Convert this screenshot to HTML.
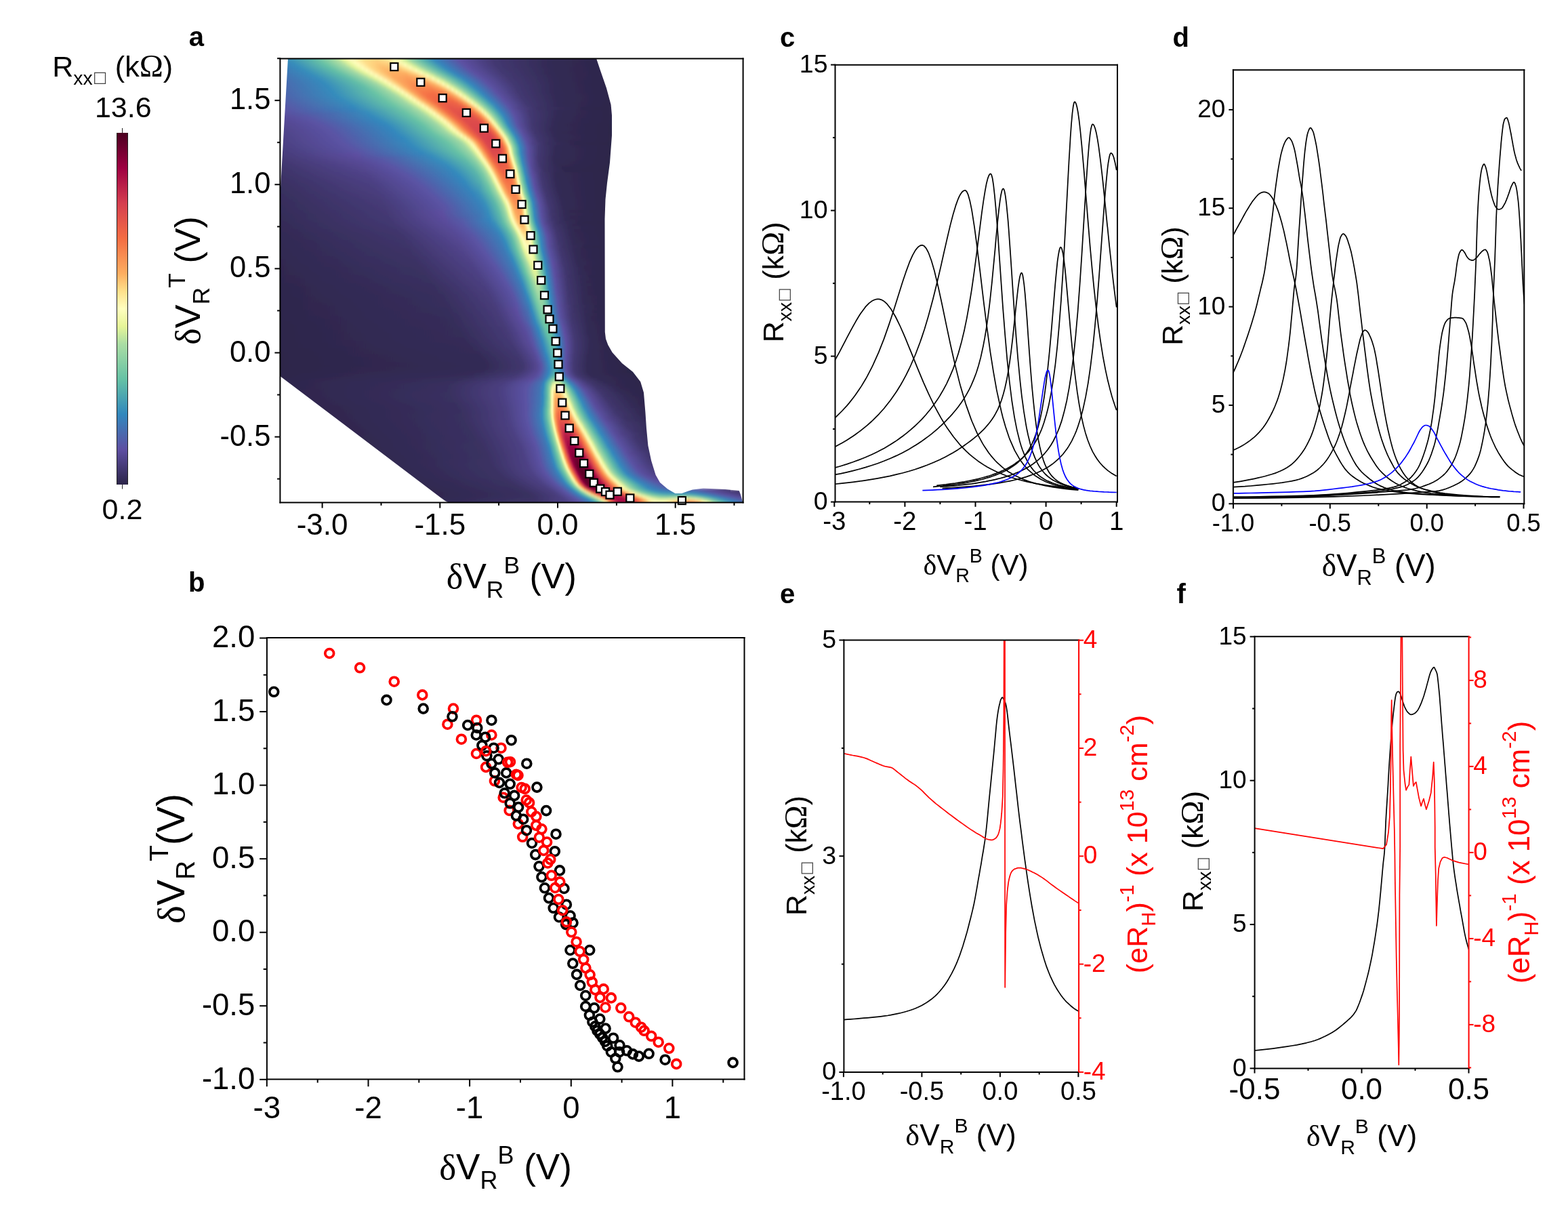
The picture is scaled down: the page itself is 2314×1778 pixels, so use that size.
<!DOCTYPE html>
<html lang="en"><head><meta charset="utf-8"><title>Figure</title>
<style>
html,body{margin:0;padding:0;background:#fff;}
body{width:2314px;height:1778px;overflow:hidden;}
svg{display:block;font-family:'Liberation Sans', sans-serif;}
</style></head><body>
<svg width="2314" height="1778" viewBox="0 0 2314 1778">
<rect width="2314" height="1778" fill="#fff"/>
<g id="panel-a">
<defs><clipPath id="hclip"><path d="M425 86 L880 86 L886 104 L895 130 L901.6 154.4 L903 170 L903 200 L900 240 L896 270 L893.5 294 L892.5 323 L892.8 490 L894 500 L897.3 509 L903.6 520 L918 536 L934 548.8 L945.2 563.2 L950 579.2 L952.4 608 L954 632 L956.4 657.6 L961.2 680 L967.6 700.8 L974 712 L985.2 721.6 L996.4 728 L1006 728 L1022 722.4 L1038 720.5 L1070 722 L1090.8 724 L1093 730 L1096.4 742 L663 742 L657 739 L650 734 L414 555.5 L414 277Z"/></clipPath>
<linearGradient id="h0" gradientUnits="userSpaceOnUse" x1="406" x2="1105" y1="0" y2="0"><stop offset=".000" stop-color="#3880b9"/><stop offset=".024" stop-color="#378dbb"/><stop offset=".089" stop-color="#68c3a5"/><stop offset=".129" stop-color="#b2e0a3"/><stop offset=".144" stop-color="#e8f69b"/><stop offset=".160" stop-color="#ffffbf"/><stop offset=".185" stop-color="#fee18d"/><stop offset=".213" stop-color="#fed683"/><stop offset=".235" stop-color="#fee796"/><stop offset=".250" stop-color="#ffffbf"/><stop offset=".266" stop-color="#def29a"/><stop offset=".280" stop-color="#a1d9a4"/><stop offset=".308" stop-color="#5bb6aa"/><stop offset=".335" stop-color="#3386bc"/><stop offset=".386" stop-color="#5d51a3"/><stop offset=".459" stop-color="#433871"/><stop offset=".587" stop-color="#322a53"/><stop offset="1" stop-color="#2c2549"/></linearGradient><linearGradient id="h1" gradientUnits="userSpaceOnUse" x1="417" x2="888" y1="0" y2="0"><stop offset=".000" stop-color="#3288bd"/><stop offset=".100" stop-color="#62bda7"/><stop offset=".163" stop-color="#a9dca4"/><stop offset=".191" stop-color="#e8f69b"/><stop offset=".214" stop-color="#ffffbf"/><stop offset=".251" stop-color="#fee18d"/><stop offset=".293" stop-color="#fed683"/><stop offset=".325" stop-color="#fee796"/><stop offset=".348" stop-color="#ffffbf"/><stop offset=".372" stop-color="#def29a"/><stop offset=".393" stop-color="#a1d9a4"/><stop offset=".433" stop-color="#5bb6aa"/><stop offset=".473" stop-color="#3386bc"/><stop offset=".550" stop-color="#5d51a3"/><stop offset=".658" stop-color="#433871"/><stop offset=".847" stop-color="#322a53"/><stop offset="1" stop-color="#2e274d"/></linearGradient><linearGradient id="h2" gradientUnits="userSpaceOnUse" x1="416" x2="890" y1="0" y2="0"><stop offset=".000" stop-color="#3386bc"/><stop offset=".095" stop-color="#5bb6aa"/><stop offset=".150" stop-color="#91d3a4"/><stop offset=".175" stop-color="#b9e3a1"/><stop offset=".194" stop-color="#e7f59a"/><stop offset=".217" stop-color="#ffffbe"/><stop offset=".255" stop-color="#fedf8a"/><stop offset=".297" stop-color="#fed581"/><stop offset=".329" stop-color="#fee695"/><stop offset=".352" stop-color="#ffffbf"/><stop offset=".373" stop-color="#e3f499"/><stop offset=".395" stop-color="#a3daa4"/><stop offset=".437" stop-color="#5ab4ab"/><stop offset=".475" stop-color="#3387bc"/><stop offset=".551" stop-color="#5d51a3"/><stop offset=".656" stop-color="#433871"/><stop offset=".842" stop-color="#322a54"/><stop offset="1" stop-color="#2e274c"/></linearGradient><linearGradient id="h3" gradientUnits="userSpaceOnUse" x1="416" x2="891" y1="0" y2="0"><stop offset=".000" stop-color="#3782ba"/><stop offset=".034" stop-color="#378eba"/><stop offset=".126" stop-color="#68c3a5"/><stop offset=".183" stop-color="#b0dfa3"/><stop offset=".206" stop-color="#e8f69c"/><stop offset=".227" stop-color="#ffffbf"/><stop offset=".261" stop-color="#fedd88"/><stop offset=".297" stop-color="#fecc7a"/><stop offset=".333" stop-color="#fed884"/><stop offset=".360" stop-color="#fff5af"/><stop offset=".368" stop-color="#fdfebd"/><stop offset=".387" stop-color="#e2f499"/><stop offset=".408" stop-color="#a1d9a4"/><stop offset=".446" stop-color="#5cb7aa"/><stop offset=".484" stop-color="#3387bd"/><stop offset=".558" stop-color="#5d51a3"/><stop offset=".661" stop-color="#433871"/><stop offset=".842" stop-color="#322a53"/><stop offset="1" stop-color="#2e274c"/></linearGradient><linearGradient id="h4" gradientUnits="userSpaceOnUse" x1="416" x2="892" y1="0" y2="0"><stop offset=".000" stop-color="#3a7eb8"/><stop offset=".042" stop-color="#368cbb"/><stop offset=".139" stop-color="#67c2a5"/><stop offset=".195" stop-color="#b0dfa3"/><stop offset=".216" stop-color="#e7f59a"/><stop offset=".237" stop-color="#ffffbf"/><stop offset=".269" stop-color="#feda86"/><stop offset=".303" stop-color="#fdc473"/><stop offset=".342" stop-color="#fecd7b"/><stop offset=".368" stop-color="#feeb9d"/><stop offset=".382" stop-color="#ffffbe"/><stop offset=".401" stop-color="#e1f399"/><stop offset=".420" stop-color="#a3daa4"/><stop offset=".458" stop-color="#5bb6aa"/><stop offset=".496" stop-color="#3486bc"/><stop offset=".567" stop-color="#5d50a2"/><stop offset=".662" stop-color="#433872"/><stop offset=".832" stop-color="#322a54"/><stop offset="1" stop-color="#2e264c"/></linearGradient><linearGradient id="h5" gradientUnits="userSpaceOnUse" x1="416" x2="894" y1="0" y2="0"><stop offset=".000" stop-color="#3d7ab6"/><stop offset=".054" stop-color="#358cbb"/><stop offset=".149" stop-color="#64c0a6"/><stop offset=".205" stop-color="#a9dca4"/><stop offset=".228" stop-color="#e7f599"/><stop offset=".249" stop-color="#fffebd"/><stop offset=".278" stop-color="#fed783"/><stop offset=".310" stop-color="#fdbc6c"/><stop offset=".351" stop-color="#fdc171"/><stop offset=".379" stop-color="#fee492"/><stop offset=".397" stop-color="#feffbd"/><stop offset=".414" stop-color="#e3f499"/><stop offset=".433" stop-color="#a2daa4"/><stop offset=".471" stop-color="#59b4ab"/><stop offset=".504" stop-color="#3387bd"/><stop offset=".573" stop-color="#5d50a3"/><stop offset=".667" stop-color="#433871"/><stop offset=".835" stop-color="#322a54"/><stop offset="1" stop-color="#2e264c"/></linearGradient><linearGradient id="h6" gradientUnits="userSpaceOnUse" x1="415" x2="895" y1="0" y2="0"><stop offset=".000" stop-color="#4076b4"/><stop offset=".071" stop-color="#358cbb"/><stop offset=".165" stop-color="#63bfa6"/><stop offset=".221" stop-color="#a9dca4"/><stop offset=".244" stop-color="#e7f59a"/><stop offset=".263" stop-color="#ffffbf"/><stop offset=".292" stop-color="#fed380"/><stop offset=".321" stop-color="#fdb466"/><stop offset=".365" stop-color="#fdb668"/><stop offset=".392" stop-color="#fed985"/><stop offset=".415" stop-color="#ffffbe"/><stop offset=".431" stop-color="#e1f399"/><stop offset=".448" stop-color="#a4daa4"/><stop offset=".483" stop-color="#5bb6aa"/><stop offset=".517" stop-color="#3287bd"/><stop offset=".581" stop-color="#5c52a3"/><stop offset=".677" stop-color="#423870"/><stop offset=".842" stop-color="#322a53"/><stop offset="1" stop-color="#2e264c"/></linearGradient><linearGradient id="h7" gradientUnits="userSpaceOnUse" x1="415" x2="897" y1="0" y2="0"><stop offset=".000" stop-color="#4372b3"/><stop offset=".085" stop-color="#358cbb"/><stop offset=".180" stop-color="#64bfa6"/><stop offset=".234" stop-color="#a7dba4"/><stop offset=".257" stop-color="#e6f599"/><stop offset=".276" stop-color="#fffebe"/><stop offset=".303" stop-color="#fed17e"/><stop offset=".330" stop-color="#fdad61"/><stop offset=".382" stop-color="#fdae61"/><stop offset=".409" stop-color="#fed783"/><stop offset=".429" stop-color="#fffebd"/><stop offset=".446" stop-color="#e2f399"/><stop offset=".463" stop-color="#a2daa4"/><stop offset=".496" stop-color="#5bb6aa"/><stop offset=".529" stop-color="#3386bc"/><stop offset=".593" stop-color="#5d50a2"/><stop offset=".676" stop-color="#433973"/><stop offset=".828" stop-color="#322a54"/><stop offset="1" stop-color="#2e264c"/></linearGradient><linearGradient id="h8" gradientUnits="userSpaceOnUse" x1="415" x2="898" y1="0" y2="0"><stop offset=".000" stop-color="#456fb1"/><stop offset=".099" stop-color="#358cbb"/><stop offset=".195" stop-color="#62bea7"/><stop offset=".246" stop-color="#a1d9a4"/><stop offset=".261" stop-color="#c3e79f"/><stop offset=".273" stop-color="#e8f69b"/><stop offset=".290" stop-color="#ffffbf"/><stop offset=".317" stop-color="#fecc7b"/><stop offset=".340" stop-color="#fcaa5f"/><stop offset=".387" stop-color="#fca45c"/><stop offset=".412" stop-color="#fdb668"/><stop offset=".435" stop-color="#fee797"/><stop offset=".447" stop-color="#ffffbe"/><stop offset=".462" stop-color="#e3f499"/><stop offset=".476" stop-color="#a6dba4"/><stop offset=".509" stop-color="#5cb7aa"/><stop offset=".540" stop-color="#3288bd"/><stop offset=".600" stop-color="#5c52a3"/><stop offset=".689" stop-color="#423870"/><stop offset=".841" stop-color="#322a53"/><stop offset="1" stop-color="#2e264c"/></linearGradient><linearGradient id="h9" gradientUnits="userSpaceOnUse" x1="415" x2="899" y1="0" y2="0"><stop offset=".000" stop-color="#476cb0"/><stop offset=".112" stop-color="#358bbc"/><stop offset=".211" stop-color="#63bea7"/><stop offset=".260" stop-color="#9ed8a4"/><stop offset=".275" stop-color="#bfe5a0"/><stop offset=".287" stop-color="#e6f599"/><stop offset=".304" stop-color="#ffffbf"/><stop offset=".331" stop-color="#fec877"/><stop offset=".347" stop-color="#fcaa5f"/><stop offset=".384" stop-color="#fa9b58"/><stop offset=".421" stop-color="#fca75e"/><stop offset=".436" stop-color="#fdbf6f"/><stop offset=".455" stop-color="#feeca0"/><stop offset=".463" stop-color="#fffebe"/><stop offset=".477" stop-color="#e2f399"/><stop offset=".492" stop-color="#a4daa4"/><stop offset=".523" stop-color="#5cb7aa"/><stop offset=".554" stop-color="#3386bc"/><stop offset=".612" stop-color="#5c51a3"/><stop offset=".694" stop-color="#433871"/><stop offset=".839" stop-color="#322a54"/><stop offset="1" stop-color="#2d264c"/></linearGradient><linearGradient id="h10" gradientUnits="userSpaceOnUse" x1="414" x2="901" y1="0" y2="0"><stop offset=".000" stop-color="#4a69ae"/><stop offset=".125" stop-color="#358bbc"/><stop offset=".226" stop-color="#62bea7"/><stop offset=".275" stop-color="#9dd7a4"/><stop offset=".290" stop-color="#bce4a0"/><stop offset=".304" stop-color="#e9f69d"/><stop offset=".318" stop-color="#ffffbf"/><stop offset=".343" stop-color="#fec876"/><stop offset=".357" stop-color="#fca95f"/><stop offset=".390" stop-color="#f99455"/><stop offset=".431" stop-color="#fb9d59"/><stop offset=".450" stop-color="#fdb567"/><stop offset=".470" stop-color="#feec9f"/><stop offset=".478" stop-color="#ffffbf"/><stop offset=".491" stop-color="#e6f598"/><stop offset=".505" stop-color="#a5dba4"/><stop offset=".536" stop-color="#5ab5aa"/><stop offset=".565" stop-color="#3386bc"/><stop offset=".620" stop-color="#5c51a3"/><stop offset=".698" stop-color="#433872"/><stop offset=".836" stop-color="#322a54"/><stop offset="1" stop-color="#2d264b"/></linearGradient><linearGradient id="h11" gradientUnits="userSpaceOnUse" x1="414" x2="902" y1="0" y2="0"><stop offset=".000" stop-color="#4b67ae"/><stop offset=".135" stop-color="#358bbc"/><stop offset=".240" stop-color="#63bea7"/><stop offset=".289" stop-color="#9dd7a4"/><stop offset=".303" stop-color="#bde4a0"/><stop offset=".316" stop-color="#e7f599"/><stop offset=".330" stop-color="#fefebd"/><stop offset=".350" stop-color="#fed27f"/><stop offset=".367" stop-color="#fca85e"/><stop offset=".398" stop-color="#f98e52"/><stop offset=".443" stop-color="#f99455"/><stop offset=".465" stop-color="#fdb264"/><stop offset=".484" stop-color="#fee99b"/><stop offset=".492" stop-color="#fffebd"/><stop offset=".504" stop-color="#e5f598"/><stop offset=".518" stop-color="#a2daa4"/><stop offset=".547" stop-color="#5ab5ab"/><stop offset=".574" stop-color="#3288bd"/><stop offset=".627" stop-color="#5c52a3"/><stop offset=".705" stop-color="#423871"/><stop offset=".838" stop-color="#322a54"/><stop offset="1" stop-color="#2d264b"/></linearGradient><linearGradient id="h12" gradientUnits="userSpaceOnUse" x1="414" x2="903" y1="0" y2="0"><stop offset=".000" stop-color="#4c66ad"/><stop offset=".143" stop-color="#358bbc"/><stop offset=".252" stop-color="#62bea7"/><stop offset=".301" stop-color="#9ad6a4"/><stop offset=".315" stop-color="#b8e2a1"/><stop offset=".329" stop-color="#e8f69b"/><stop offset=".344" stop-color="#fffebd"/><stop offset=".362" stop-color="#fecf7d"/><stop offset=".374" stop-color="#fdaa5f"/><stop offset=".403" stop-color="#f8884f"/><stop offset=".450" stop-color="#f88850"/><stop offset=".476" stop-color="#fca85e"/><stop offset=".491" stop-color="#fed581"/><stop offset=".505" stop-color="#fffebe"/><stop offset=".517" stop-color="#e1f399"/><stop offset=".530" stop-color="#a4daa4"/><stop offset=".556" stop-color="#5db7a9"/><stop offset=".583" stop-color="#3288bd"/><stop offset=".634" stop-color="#5c52a3"/><stop offset=".710" stop-color="#423871"/><stop offset=".838" stop-color="#322a54"/><stop offset="1" stop-color="#2d264b"/></linearGradient><linearGradient id="h13" gradientUnits="userSpaceOnUse" x1="414" x2="905" y1="0" y2="0"><stop offset=".000" stop-color="#4d65ac"/><stop offset=".151" stop-color="#358cbc"/><stop offset=".265" stop-color="#64c0a6"/><stop offset=".314" stop-color="#9bd7a4"/><stop offset=".328" stop-color="#bbe3a1"/><stop offset=".340" stop-color="#e6f598"/><stop offset=".354" stop-color="#ffffbf"/><stop offset=".373" stop-color="#fecd7b"/><stop offset=".385" stop-color="#fca65d"/><stop offset=".411" stop-color="#f7814c"/><stop offset=".456" stop-color="#f67d4a"/><stop offset=".483" stop-color="#fa9857"/><stop offset=".495" stop-color="#fdb365"/><stop offset=".511" stop-color="#feefa3"/><stop offset=".517" stop-color="#feffbd"/><stop offset=".527" stop-color="#e4f498"/><stop offset=".540" stop-color="#a4daa4"/><stop offset=".566" stop-color="#5ab5ab"/><stop offset=".591" stop-color="#3287bd"/><stop offset=".640" stop-color="#5c52a3"/><stop offset=".711" stop-color="#423871"/><stop offset=".833" stop-color="#322a54"/><stop offset="1" stop-color="#2d264b"/></linearGradient><linearGradient id="h14" gradientUnits="userSpaceOnUse" x1="414" x2="906" y1="0" y2="0"><stop offset=".000" stop-color="#4e63ac"/><stop offset=".157" stop-color="#358bbc"/><stop offset=".280" stop-color="#68c3a5"/><stop offset=".329" stop-color="#a1d9a4"/><stop offset=".341" stop-color="#bfe5a0"/><stop offset=".354" stop-color="#e8f69c"/><stop offset=".366" stop-color="#feffbe"/><stop offset=".382" stop-color="#fed380"/><stop offset=".394" stop-color="#fca75e"/><stop offset=".421" stop-color="#f67a49"/><stop offset=".459" stop-color="#f57245"/><stop offset=".488" stop-color="#f8864f"/><stop offset=".508" stop-color="#fdb264"/><stop offset=".522" stop-color="#feec9f"/><stop offset=".528" stop-color="#ffffbe"/><stop offset=".539" stop-color="#e4f498"/><stop offset=".551" stop-color="#a2d9a4"/><stop offset=".575" stop-color="#5bb5aa"/><stop offset=".600" stop-color="#3386bc"/><stop offset=".646" stop-color="#5c51a3"/><stop offset=".711" stop-color="#433872"/><stop offset=".825" stop-color="#322a55"/><stop offset="1" stop-color="#2d264b"/></linearGradient><linearGradient id="h15" gradientUnits="userSpaceOnUse" x1="413" x2="907" y1="0" y2="0"><stop offset=".000" stop-color="#5061ab"/><stop offset=".166" stop-color="#358cbc"/><stop offset=".291" stop-color="#68c3a5"/><stop offset=".340" stop-color="#9dd8a4"/><stop offset=".352" stop-color="#b7e2a2"/><stop offset=".366" stop-color="#e8f69b"/><stop offset=".379" stop-color="#feffbe"/><stop offset=".393" stop-color="#fed985"/><stop offset=".405" stop-color="#fca95f"/><stop offset=".429" stop-color="#f57748"/><stop offset=".455" stop-color="#f26a44"/><stop offset=".492" stop-color="#f57546"/><stop offset=".516" stop-color="#fba15b"/><stop offset=".524" stop-color="#fdbe6f"/><stop offset=".536" stop-color="#fff1a8"/><stop offset=".540" stop-color="#ffffbf"/><stop offset=".551" stop-color="#e0f399"/><stop offset=".561" stop-color="#a5dba4"/><stop offset=".585" stop-color="#5ab5aa"/><stop offset=".607" stop-color="#3288bd"/><stop offset=".652" stop-color="#5c52a3"/><stop offset=".719" stop-color="#423870"/><stop offset=".832" stop-color="#322a54"/><stop offset="1" stop-color="#2d264b"/></linearGradient><linearGradient id="h16" gradientUnits="userSpaceOnUse" x1="413" x2="908" y1="0" y2="0"><stop offset=".000" stop-color="#525faa"/><stop offset=".176" stop-color="#358cbc"/><stop offset=".303" stop-color="#69c3a5"/><stop offset=".354" stop-color="#a1d9a4"/><stop offset=".366" stop-color="#bfe5a0"/><stop offset=".378" stop-color="#e8f69c"/><stop offset=".390" stop-color="#ffffbf"/><stop offset=".404" stop-color="#fed683"/><stop offset=".416" stop-color="#fca55d"/><stop offset=".440" stop-color="#f57145"/><stop offset=".473" stop-color="#ef6545"/><stop offset=".505" stop-color="#f47045"/><stop offset=".527" stop-color="#fb9e5a"/><stop offset=".535" stop-color="#fdbc6d"/><stop offset=".547" stop-color="#fff2aa"/><stop offset=".552" stop-color="#fefebd"/><stop offset=".560" stop-color="#e6f599"/><stop offset=".570" stop-color="#a7dba4"/><stop offset=".592" stop-color="#5eb9a9"/><stop offset=".616" stop-color="#3486bc"/><stop offset=".661" stop-color="#5d50a2"/><stop offset=".719" stop-color="#433872"/><stop offset=".824" stop-color="#332b55"/><stop offset="1" stop-color="#2d264b"/></linearGradient><linearGradient id="h17" gradientUnits="userSpaceOnUse" x1="413" x2="909" y1="0" y2="0"><stop offset=".000" stop-color="#545ca8"/><stop offset=".188" stop-color="#358bbc"/><stop offset=".315" stop-color="#6ac3a5"/><stop offset=".365" stop-color="#a2daa4"/><stop offset=".379" stop-color="#c7e89e"/><stop offset=".389" stop-color="#e9f69d"/><stop offset=".401" stop-color="#fffebd"/><stop offset=".415" stop-color="#fed380"/><stop offset=".425" stop-color="#fca95f"/><stop offset=".450" stop-color="#f46f44"/><stop offset=".480" stop-color="#ec6046"/><stop offset=".516" stop-color="#f36b43"/><stop offset=".536" stop-color="#fa9656"/><stop offset=".546" stop-color="#fdbc6d"/><stop offset=".556" stop-color="#feeda1"/><stop offset=".560" stop-color="#fffcba"/><stop offset=".565" stop-color="#f5fbaf"/><stop offset=".571" stop-color="#dff29a"/><stop offset=".581" stop-color="#a1d9a4"/><stop offset=".601" stop-color="#5db8a9"/><stop offset=".623" stop-color="#3288bd"/><stop offset=".665" stop-color="#5c51a3"/><stop offset=".726" stop-color="#423871"/><stop offset=".831" stop-color="#322a54"/><stop offset="1" stop-color="#2d264b"/></linearGradient><linearGradient id="h18" gradientUnits="userSpaceOnUse" x1="413" x2="910" y1="0" y2="0"><stop offset=".000" stop-color="#5759a7"/><stop offset=".203" stop-color="#358cbb"/><stop offset=".326" stop-color="#69c3a5"/><stop offset=".376" stop-color="#a2d9a4"/><stop offset=".390" stop-color="#c7e89e"/><stop offset=".400" stop-color="#e9f69d"/><stop offset=".412" stop-color="#fffebd"/><stop offset=".427" stop-color="#fed27f"/><stop offset=".437" stop-color="#fca75e"/><stop offset=".461" stop-color="#f36c43"/><stop offset=".491" stop-color="#e95c47"/><stop offset=".525" stop-color="#ef6545"/><stop offset=".541" stop-color="#f7834d"/><stop offset=".555" stop-color="#fdb163"/><stop offset=".565" stop-color="#fee899"/><stop offset=".571" stop-color="#feffbe"/><stop offset=".579" stop-color="#e3f499"/><stop offset=".590" stop-color="#a2d9a4"/><stop offset=".610" stop-color="#5cb7aa"/><stop offset=".630" stop-color="#3389bd"/><stop offset=".670" stop-color="#5b52a4"/><stop offset=".730" stop-color="#423871"/><stop offset=".833" stop-color="#322a54"/><stop offset="1" stop-color="#2d264a"/></linearGradient><linearGradient id="h19" gradientUnits="userSpaceOnUse" x1="412" x2="910" y1="0" y2="0"><stop offset=".000" stop-color="#5955a5"/><stop offset=".219" stop-color="#358bbc"/><stop offset=".341" stop-color="#6ac4a5"/><stop offset=".390" stop-color="#a1d9a4"/><stop offset=".402" stop-color="#bfe5a0"/><stop offset=".414" stop-color="#e9f69c"/><stop offset=".426" stop-color="#fffebe"/><stop offset=".440" stop-color="#fed27f"/><stop offset=".450" stop-color="#fca65d"/><stop offset=".474" stop-color="#f16944"/><stop offset=".502" stop-color="#e65848"/><stop offset=".538" stop-color="#ed6246"/><stop offset=".552" stop-color="#f67a49"/><stop offset=".568" stop-color="#fdb365"/><stop offset=".578" stop-color="#feec9f"/><stop offset=".582" stop-color="#fffcbb"/><stop offset=".588" stop-color="#edf8a3"/><stop offset=".590" stop-color="#e6f598"/><stop offset=".598" stop-color="#aadda4"/><stop offset=".618" stop-color="#5fbaa8"/><stop offset=".641" stop-color="#3486bc"/><stop offset=".679" stop-color="#5c51a3"/><stop offset=".735" stop-color="#423871"/><stop offset=".831" stop-color="#322a54"/><stop offset="1" stop-color="#2d264a"/></linearGradient><linearGradient id="h20" gradientUnits="userSpaceOnUse" x1="412" x2="911" y1="0" y2="0"><stop offset=".000" stop-color="#5c52a3"/><stop offset=".220" stop-color="#3386bc"/><stop offset=".339" stop-color="#60bba8"/><stop offset=".389" stop-color="#8fd2a4"/><stop offset=".409" stop-color="#b1e0a3"/><stop offset=".425" stop-color="#e8f69c"/><stop offset=".437" stop-color="#fffebd"/><stop offset=".451" stop-color="#fed07e"/><stop offset=".461" stop-color="#fca45d"/><stop offset=".483" stop-color="#f16944"/><stop offset=".509" stop-color="#e45449"/><stop offset=".545" stop-color="#e85b48"/><stop offset=".563" stop-color="#f67949"/><stop offset=".577" stop-color="#fdac60"/><stop offset=".587" stop-color="#feea9b"/><stop offset=".591" stop-color="#fffbb9"/><stop offset=".593" stop-color="#fbfdb9"/><stop offset=".599" stop-color="#e6f598"/><stop offset=".607" stop-color="#a8dca4"/><stop offset=".627" stop-color="#5bb6aa"/><stop offset=".645" stop-color="#3389bc"/><stop offset=".681" stop-color="#5a54a4"/><stop offset=".705" stop-color="#51448a"/><stop offset=".768" stop-color="#3b3163"/><stop offset=".904" stop-color="#2e274d"/><stop offset="1" stop-color="#2d264a"/></linearGradient><linearGradient id="h21" gradientUnits="userSpaceOnUse" x1="412" x2="911" y1="0" y2="0"><stop offset=".000" stop-color="#5e4fa2"/><stop offset=".222" stop-color="#3781ba"/><stop offset=".257" stop-color="#378dbb"/><stop offset=".367" stop-color="#6ac3a5"/><stop offset=".415" stop-color="#a4daa4"/><stop offset=".429" stop-color="#cdeb9d"/><stop offset=".437" stop-color="#e9f69d"/><stop offset=".447" stop-color="#fdfebb"/><stop offset=".451" stop-color="#fff7b2"/><stop offset=".461" stop-color="#fed783"/><stop offset=".471" stop-color="#fca85e"/><stop offset=".493" stop-color="#f26944"/><stop offset=".519" stop-color="#e2514a"/><stop offset=".555" stop-color="#e55749"/><stop offset=".573" stop-color="#f57547"/><stop offset=".589" stop-color="#fdb769"/><stop offset=".597" stop-color="#feeb9d"/><stop offset=".601" stop-color="#fffdbc"/><stop offset=".609" stop-color="#def29a"/><stop offset=".615" stop-color="#acdda4"/><stop offset=".633" stop-color="#61bca8"/><stop offset=".653" stop-color="#3287bd"/><stop offset=".689" stop-color="#5c51a3"/><stop offset=".739" stop-color="#433872"/><stop offset=".828" stop-color="#322a54"/><stop offset="1" stop-color="#2d264a"/></linearGradient><linearGradient id="h22" gradientUnits="userSpaceOnUse" x1="412" x2="911" y1="0" y2="0"><stop offset=".000" stop-color="#5b4d9d"/><stop offset=".152" stop-color="#4a69ae"/><stop offset=".265" stop-color="#358bbc"/><stop offset=".379" stop-color="#69c3a5"/><stop offset=".425" stop-color="#a2d9a4"/><stop offset=".437" stop-color="#c2e69f"/><stop offset=".447" stop-color="#e7f59a"/><stop offset=".459" stop-color="#ffffbf"/><stop offset=".473" stop-color="#fed17e"/><stop offset=".481" stop-color="#fcaa5f"/><stop offset=".503" stop-color="#f16944"/><stop offset=".529" stop-color="#e04f4b"/><stop offset=".565" stop-color="#e35449"/><stop offset=".583" stop-color="#f57446"/><stop offset=".597" stop-color="#fdae61"/><stop offset=".605" stop-color="#fee797"/><stop offset=".609" stop-color="#fffbb8"/><stop offset=".611" stop-color="#fbfdb8"/><stop offset=".617" stop-color="#e0f299"/><stop offset=".623" stop-color="#abdda4"/><stop offset=".641" stop-color="#5eb9a9"/><stop offset=".659" stop-color="#3288bd"/><stop offset=".693" stop-color="#5c52a3"/><stop offset=".743" stop-color="#423871"/><stop offset=".830" stop-color="#322a54"/><stop offset="1" stop-color="#2d254a"/></linearGradient><linearGradient id="h23" gradientUnits="userSpaceOnUse" x1="411" x2="911" y1="0" y2="0"><stop offset=".000" stop-color="#594a98"/><stop offset=".078" stop-color="#5955a5"/><stop offset=".280" stop-color="#348abc"/><stop offset=".392" stop-color="#69c3a5"/><stop offset=".438" stop-color="#a2daa4"/><stop offset=".452" stop-color="#ccea9d"/><stop offset=".460" stop-color="#e9f69c"/><stop offset=".470" stop-color="#fdfebc"/><stop offset=".474" stop-color="#fff7b1"/><stop offset=".484" stop-color="#fed481"/><stop offset=".494" stop-color="#fca55d"/><stop offset=".514" stop-color="#f16944"/><stop offset=".538" stop-color="#df4e4b"/><stop offset=".574" stop-color="#e1504a"/><stop offset=".592" stop-color="#f46e44"/><stop offset=".606" stop-color="#fdac60"/><stop offset=".614" stop-color="#fee797"/><stop offset=".618" stop-color="#fffcb9"/><stop offset=".622" stop-color="#f1f9a9"/><stop offset=".624" stop-color="#e9f69c"/><stop offset=".632" stop-color="#a6dba4"/><stop offset=".648" stop-color="#5eb9a9"/><stop offset=".666" stop-color="#3486bc"/><stop offset=".698" stop-color="#5c51a3"/><stop offset=".744" stop-color="#433872"/><stop offset=".824" stop-color="#322a54"/><stop offset="1" stop-color="#2c254a"/></linearGradient><linearGradient id="h24" gradientUnits="userSpaceOnUse" x1="411" x2="911" y1="0" y2="0"><stop offset=".000" stop-color="#564894"/><stop offset=".092" stop-color="#5a54a4"/><stop offset=".292" stop-color="#3389bd"/><stop offset=".404" stop-color="#68c3a5"/><stop offset=".450" stop-color="#a4daa4"/><stop offset=".464" stop-color="#d0ec9c"/><stop offset=".470" stop-color="#e7f59a"/><stop offset=".482" stop-color="#fffebd"/><stop offset=".494" stop-color="#fed683"/><stop offset=".504" stop-color="#fca65d"/><stop offset=".524" stop-color="#f16844"/><stop offset=".548" stop-color="#de4c4b"/><stop offset=".584" stop-color="#e04f4b"/><stop offset=".600" stop-color="#f36b43"/><stop offset=".614" stop-color="#fdac60"/><stop offset=".622" stop-color="#feea9b"/><stop offset=".626" stop-color="#feffbe"/><stop offset=".632" stop-color="#e2f399"/><stop offset=".638" stop-color="#a8dca4"/><stop offset=".654" stop-color="#5db8a9"/><stop offset=".670" stop-color="#3287bd"/><stop offset=".700" stop-color="#5b52a4"/><stop offset=".746" stop-color="#423871"/><stop offset=".824" stop-color="#322a54"/><stop offset="1" stop-color="#2c254a"/></linearGradient><linearGradient id="h25" gradientUnits="userSpaceOnUse" x1="411" x2="911" y1="0" y2="0"><stop offset=".000" stop-color="#544690"/><stop offset=".108" stop-color="#5b53a4"/><stop offset=".304" stop-color="#3288bd"/><stop offset=".414" stop-color="#66c2a5"/><stop offset=".458" stop-color="#9fd8a4"/><stop offset=".470" stop-color="#bee5a0"/><stop offset=".480" stop-color="#e7f599"/><stop offset=".492" stop-color="#fffebe"/><stop offset=".504" stop-color="#fed683"/><stop offset=".514" stop-color="#fca55d"/><stop offset=".532" stop-color="#f36b44"/><stop offset=".556" stop-color="#dd4b4c"/><stop offset=".592" stop-color="#de4c4b"/><stop offset=".608" stop-color="#f26a44"/><stop offset=".622" stop-color="#fdaf62"/><stop offset=".630" stop-color="#feefa5"/><stop offset=".632" stop-color="#fffbb9"/><stop offset=".634" stop-color="#f9fcb5"/><stop offset=".638" stop-color="#e6f598"/><stop offset=".644" stop-color="#a9dca4"/><stop offset=".658" stop-color="#61bca7"/><stop offset=".674" stop-color="#3288bd"/><stop offset=".702" stop-color="#5b53a4"/><stop offset=".746" stop-color="#423871"/><stop offset=".818" stop-color="#322a54"/><stop offset="1" stop-color="#2c254a"/></linearGradient><linearGradient id="h26" gradientUnits="userSpaceOnUse" x1="411" x2="911" y1="0" y2="0"><stop offset=".000" stop-color="#52458c"/><stop offset=".124" stop-color="#5b53a4"/><stop offset=".318" stop-color="#3288bd"/><stop offset=".424" stop-color="#66c1a5"/><stop offset=".468" stop-color="#9fd8a4"/><stop offset=".480" stop-color="#bfe5a0"/><stop offset=".490" stop-color="#e7f599"/><stop offset=".502" stop-color="#fffdbc"/><stop offset=".514" stop-color="#fed380"/><stop offset=".522" stop-color="#fcaa5f"/><stop offset=".542" stop-color="#f16844"/><stop offset=".566" stop-color="#dc494c"/><stop offset=".600" stop-color="#dd4a4c"/><stop offset=".616" stop-color="#f26944"/><stop offset=".628" stop-color="#fca85e"/><stop offset=".634" stop-color="#fedf8a"/><stop offset=".638" stop-color="#fff8b4"/><stop offset=".640" stop-color="#fbfdb8"/><stop offset=".644" stop-color="#e7f599"/><stop offset=".650" stop-color="#a8dca4"/><stop offset=".664" stop-color="#5db8a9"/><stop offset=".678" stop-color="#3389bd"/><stop offset=".704" stop-color="#5a54a5"/><stop offset=".714" stop-color="#584a97"/><stop offset=".752" stop-color="#40366d"/><stop offset=".828" stop-color="#312952"/><stop offset="1" stop-color="#2c2549"/></linearGradient><linearGradient id="h27" gradientUnits="userSpaceOnUse" x1="411" x2="911" y1="0" y2="0"><stop offset=".000" stop-color="#50448a"/><stop offset=".136" stop-color="#5b53a4"/><stop offset=".328" stop-color="#3387bd"/><stop offset=".432" stop-color="#64c0a6"/><stop offset=".476" stop-color="#9cd7a4"/><stop offset=".488" stop-color="#bae3a1"/><stop offset=".500" stop-color="#e9f69d"/><stop offset=".510" stop-color="#feffbe"/><stop offset=".522" stop-color="#fed783"/><stop offset=".532" stop-color="#fca55d"/><stop offset=".550" stop-color="#f16844"/><stop offset=".574" stop-color="#db474d"/><stop offset=".608" stop-color="#dc484c"/><stop offset=".622" stop-color="#ee6545"/><stop offset=".630" stop-color="#f88a51"/><stop offset=".636" stop-color="#fdb163"/><stop offset=".642" stop-color="#fee99b"/><stop offset=".644" stop-color="#fff6b1"/><stop offset=".646" stop-color="#fbfeb9"/><stop offset=".650" stop-color="#e7f599"/><stop offset=".656" stop-color="#a6dba4"/><stop offset=".668" stop-color="#61bda7"/><stop offset=".682" stop-color="#348abc"/><stop offset=".708" stop-color="#5b53a4"/><stop offset=".748" stop-color="#423871"/><stop offset=".814" stop-color="#322a54"/><stop offset="1" stop-color="#2c2549"/></linearGradient><linearGradient id="h28" gradientUnits="userSpaceOnUse" x1="410" x2="911" y1="0" y2="0"><stop offset=".000" stop-color="#4f4287"/><stop offset=".150" stop-color="#5b53a4"/><stop offset=".339" stop-color="#3288bd"/><stop offset=".445" stop-color="#67c2a5"/><stop offset=".489" stop-color="#a2daa4"/><stop offset=".501" stop-color="#c7e99e"/><stop offset=".509" stop-color="#e8f69b"/><stop offset=".519" stop-color="#fdfebc"/><stop offset=".525" stop-color="#feefa4"/><stop offset=".535" stop-color="#fdc372"/><stop offset=".541" stop-color="#fca55d"/><stop offset=".559" stop-color="#f16844"/><stop offset=".581" stop-color="#db474d"/><stop offset=".615" stop-color="#da464d"/><stop offset=".629" stop-color="#ec6146"/><stop offset=".635" stop-color="#f67a49"/><stop offset=".643" stop-color="#fdac60"/><stop offset=".649" stop-color="#fee797"/><stop offset=".653" stop-color="#fcfebb"/><stop offset=".657" stop-color="#e7f599"/><stop offset=".663" stop-color="#a5dba4"/><stop offset=".675" stop-color="#5fbba8"/><stop offset=".689" stop-color="#3387bd"/><stop offset=".715" stop-color="#5d51a3"/><stop offset=".750" stop-color="#433871"/><stop offset=".812" stop-color="#322a54"/><stop offset="1" stop-color="#2c2549"/></linearGradient><linearGradient id="h29" gradientUnits="userSpaceOnUse" x1="410" x2="911" y1="0" y2="0"><stop offset=".000" stop-color="#4e4286"/><stop offset=".158" stop-color="#5b53a4"/><stop offset=".347" stop-color="#3387bd"/><stop offset=".453" stop-color="#65c0a6"/><stop offset=".497" stop-color="#9dd8a4"/><stop offset=".509" stop-color="#bde4a0"/><stop offset=".519" stop-color="#e7f599"/><stop offset=".529" stop-color="#fdfebc"/><stop offset=".533" stop-color="#fff5af"/><stop offset=".541" stop-color="#fed784"/><stop offset=".549" stop-color="#fdab5f"/><stop offset=".567" stop-color="#f16944"/><stop offset=".589" stop-color="#da464d"/><stop offset=".621" stop-color="#d9444e"/><stop offset=".635" stop-color="#ea5e47"/><stop offset=".641" stop-color="#f57647"/><stop offset=".649" stop-color="#fca95f"/><stop offset=".655" stop-color="#fee694"/><stop offset=".659" stop-color="#fdfebc"/><stop offset=".663" stop-color="#e7f59a"/><stop offset=".669" stop-color="#a4daa4"/><stop offset=".681" stop-color="#5eb9a9"/><stop offset=".693" stop-color="#358bbc"/><stop offset=".717" stop-color="#5a55a5"/><stop offset=".725" stop-color="#594b99"/><stop offset=".758" stop-color="#41366e"/><stop offset=".824" stop-color="#312952"/><stop offset="1" stop-color="#2c2549"/></linearGradient><linearGradient id="h30" gradientUnits="userSpaceOnUse" x1="410" x2="911" y1="0" y2="0"><stop offset=".000" stop-color="#4d4184"/><stop offset=".168" stop-color="#5b53a4"/><stop offset=".359" stop-color="#3288bd"/><stop offset=".469" stop-color="#68c3a5"/><stop offset=".511" stop-color="#a0d9a4"/><stop offset=".521" stop-color="#bde4a0"/><stop offset=".531" stop-color="#e8f69a"/><stop offset=".541" stop-color="#ffffbf"/><stop offset=".551" stop-color="#fedb87"/><stop offset=".559" stop-color="#fdab60"/><stop offset=".575" stop-color="#f36b43"/><stop offset=".595" stop-color="#da464d"/><stop offset=".627" stop-color="#d8424e"/><stop offset=".641" stop-color="#e95c47"/><stop offset=".647" stop-color="#f57446"/><stop offset=".655" stop-color="#fca95f"/><stop offset=".661" stop-color="#fee695"/><stop offset=".663" stop-color="#fff4ad"/><stop offset=".665" stop-color="#fcfebb"/><stop offset=".669" stop-color="#e5f598"/><stop offset=".673" stop-color="#b3e0a2"/><stop offset=".685" stop-color="#63bfa6"/><stop offset=".699" stop-color="#3288bd"/><stop offset=".723" stop-color="#5b52a4"/><stop offset=".758" stop-color="#423871"/><stop offset=".818" stop-color="#322a54"/><stop offset="1" stop-color="#2c2549"/></linearGradient><linearGradient id="h31" gradientUnits="userSpaceOnUse" x1="410" x2="911" y1="0" y2="0"><stop offset=".000" stop-color="#4d4083"/><stop offset=".176" stop-color="#5b53a4"/><stop offset=".369" stop-color="#3288bd"/><stop offset=".481" stop-color="#68c3a5"/><stop offset=".521" stop-color="#9cd7a4"/><stop offset=".533" stop-color="#bce4a0"/><stop offset=".543" stop-color="#e8f69b"/><stop offset=".553" stop-color="#fffdbb"/><stop offset=".563" stop-color="#fed280"/><stop offset=".571" stop-color="#fba35c"/><stop offset=".585" stop-color="#f16844"/><stop offset=".603" stop-color="#da454d"/><stop offset=".633" stop-color="#d7414e"/><stop offset=".647" stop-color="#e95c47"/><stop offset=".653" stop-color="#f57547"/><stop offset=".661" stop-color="#fdab60"/><stop offset=".667" stop-color="#feea9b"/><stop offset=".669" stop-color="#fff8b4"/><stop offset=".671" stop-color="#f9fcb5"/><stop offset=".675" stop-color="#dcf19a"/><stop offset=".679" stop-color="#aadda4"/><stop offset=".691" stop-color="#5fbaa8"/><stop offset=".703" stop-color="#348bbc"/><stop offset=".725" stop-color="#5856a5"/><stop offset=".733" stop-color="#5a4c9b"/><stop offset=".764" stop-color="#41376f"/><stop offset=".826" stop-color="#322a53"/><stop offset="1" stop-color="#2c2549"/></linearGradient><linearGradient id="h32" gradientUnits="userSpaceOnUse" x1="409" x2="911" y1="0" y2="0"><stop offset=".000" stop-color="#4c4081"/><stop offset=".185" stop-color="#5b53a4"/><stop offset=".380" stop-color="#3389bd"/><stop offset=".494" stop-color="#69c3a5"/><stop offset=".534" stop-color="#9dd7a4"/><stop offset=".544" stop-color="#b8e2a1"/><stop offset=".554" stop-color="#e7f599"/><stop offset=".564" stop-color="#fffdbc"/><stop offset=".574" stop-color="#fecf7d"/><stop offset=".580" stop-color="#fca85e"/><stop offset=".594" stop-color="#f16944"/><stop offset=".612" stop-color="#d9444e"/><stop offset=".639" stop-color="#d7414e"/><stop offset=".653" stop-color="#eb5f47"/><stop offset=".659" stop-color="#f67b49"/><stop offset=".667" stop-color="#fdb668"/><stop offset=".671" stop-color="#fee491"/><stop offset=".675" stop-color="#fdfebc"/><stop offset=".679" stop-color="#e5f598"/><stop offset=".683" stop-color="#b1dfa3"/><stop offset=".695" stop-color="#61bca7"/><stop offset=".707" stop-color="#358bbc"/><stop offset=".729" stop-color="#5956a5"/><stop offset=".737" stop-color="#594b9a"/><stop offset=".769" stop-color="#41366e"/><stop offset=".831" stop-color="#312952"/><stop offset="1" stop-color="#2c2549"/></linearGradient><linearGradient id="h33" gradientUnits="userSpaceOnUse" x1="409" x2="911" y1="0" y2="0"><stop offset=".000" stop-color="#4b3f80"/><stop offset=".195" stop-color="#5b53a4"/><stop offset=".390" stop-color="#348abc"/><stop offset=".504" stop-color="#69c3a5"/><stop offset=".542" stop-color="#9bd7a4"/><stop offset=".552" stop-color="#b4e1a2"/><stop offset=".562" stop-color="#e5f598"/><stop offset=".572" stop-color="#fffdbc"/><stop offset=".580" stop-color="#fedb87"/><stop offset=".586" stop-color="#fdaf61"/><stop offset=".600" stop-color="#f36b44"/><stop offset=".616" stop-color="#da464d"/><stop offset=".641" stop-color="#d6404f"/><stop offset=".655" stop-color="#e55749"/><stop offset=".661" stop-color="#f46d43"/><stop offset=".671" stop-color="#fdb567"/><stop offset=".675" stop-color="#fee491"/><stop offset=".679" stop-color="#fdfebb"/><stop offset=".683" stop-color="#e3f499"/><stop offset=".687" stop-color="#addea4"/><stop offset=".699" stop-color="#5ebaa8"/><stop offset=".711" stop-color="#3289bd"/><stop offset=".733" stop-color="#5a54a4"/><stop offset=".751" stop-color="#4e4185"/><stop offset=".791" stop-color="#393060"/><stop offset=".882" stop-color="#2e264c"/><stop offset="1" stop-color="#2c2549"/></linearGradient><linearGradient id="h34" gradientUnits="userSpaceOnUse" x1="409" x2="910" y1="0" y2="0"><stop offset=".000" stop-color="#4a3e7e"/><stop offset=".206" stop-color="#5b53a4"/><stop offset=".399" stop-color="#3389bc"/><stop offset=".513" stop-color="#69c3a5"/><stop offset=".551" stop-color="#9cd7a4"/><stop offset=".561" stop-color="#b8e2a1"/><stop offset=".571" stop-color="#e9f69c"/><stop offset=".579" stop-color="#ffffbf"/><stop offset=".587" stop-color="#fedc88"/><stop offset=".593" stop-color="#fdae61"/><stop offset=".607" stop-color="#f26944"/><stop offset=".623" stop-color="#da464d"/><stop offset=".649" stop-color="#d8424e"/><stop offset=".661" stop-color="#e75948"/><stop offset=".667" stop-color="#f57145"/><stop offset=".675" stop-color="#fcaa5f"/><stop offset=".681" stop-color="#feeb9d"/><stop offset=".683" stop-color="#fffab7"/><stop offset=".685" stop-color="#f7fcb2"/><stop offset=".687" stop-color="#eaf79f"/><stop offset=".693" stop-color="#a3daa4"/><stop offset=".703" stop-color="#61bca7"/><stop offset=".715" stop-color="#3389bc"/><stop offset=".737" stop-color="#5b53a4"/><stop offset=".770" stop-color="#423871"/><stop offset=".826" stop-color="#322a54"/><stop offset="1" stop-color="#2c2549"/></linearGradient><linearGradient id="h35" gradientUnits="userSpaceOnUse" x1="409" x2="910" y1="0" y2="0"><stop offset=".000" stop-color="#483d7c"/><stop offset=".220" stop-color="#5b53a4"/><stop offset=".411" stop-color="#3389bc"/><stop offset=".523" stop-color="#69c3a5"/><stop offset=".557" stop-color="#99d6a4"/><stop offset=".567" stop-color="#b4e1a2"/><stop offset=".577" stop-color="#e7f69a"/><stop offset=".585" stop-color="#ffffbe"/><stop offset=".593" stop-color="#feda86"/><stop offset=".599" stop-color="#fdac60"/><stop offset=".613" stop-color="#f06745"/><stop offset=".629" stop-color="#da464d"/><stop offset=".655" stop-color="#db474d"/><stop offset=".667" stop-color="#ef6545"/><stop offset=".671" stop-color="#f67a49"/><stop offset=".677" stop-color="#fca65d"/><stop offset=".681" stop-color="#fed380"/><stop offset=".685" stop-color="#fff7b2"/><stop offset=".687" stop-color="#f9fcb5"/><stop offset=".689" stop-color="#ecf7a1"/><stop offset=".691" stop-color="#d7ef9b"/><stop offset=".695" stop-color="#a5daa4"/><stop offset=".705" stop-color="#60bca8"/><stop offset=".717" stop-color="#3288bd"/><stop offset=".739" stop-color="#5c52a3"/><stop offset=".770" stop-color="#423871"/><stop offset=".824" stop-color="#322a54"/><stop offset="1" stop-color="#2c2549"/></linearGradient><linearGradient id="h36" gradientUnits="userSpaceOnUse" x1="408" x2="910" y1="0" y2="0"><stop offset=".000" stop-color="#473b79"/><stop offset=".239" stop-color="#5b53a4"/><stop offset=".428" stop-color="#348abc"/><stop offset=".532" stop-color="#67c2a5"/><stop offset=".566" stop-color="#9ad6a4"/><stop offset=".576" stop-color="#b9e3a1"/><stop offset=".584" stop-color="#e7f599"/><stop offset=".592" stop-color="#ffffbe"/><stop offset=".600" stop-color="#fed683"/><stop offset=".606" stop-color="#fca85e"/><stop offset=".618" stop-color="#f26b44"/><stop offset=".633" stop-color="#dc494c"/><stop offset=".657" stop-color="#dc494c"/><stop offset=".669" stop-color="#ef6545"/><stop offset=".673" stop-color="#f67a49"/><stop offset=".681" stop-color="#fdb96a"/><stop offset=".687" stop-color="#fff7b2"/><stop offset=".689" stop-color="#f8fcb4"/><stop offset=".691" stop-color="#ebf7a0"/><stop offset=".693" stop-color="#d5ee9b"/><stop offset=".697" stop-color="#a3daa4"/><stop offset=".707" stop-color="#5eb9a9"/><stop offset=".717" stop-color="#368dbb"/><stop offset=".723" stop-color="#3e78b6"/><stop offset=".741" stop-color="#5e4fa2"/><stop offset=".769" stop-color="#433973"/><stop offset=".819" stop-color="#332b55"/><stop offset=".988" stop-color="#2c2549"/><stop offset="1" stop-color="#2c2549"/></linearGradient><linearGradient id="h37" gradientUnits="userSpaceOnUse" x1="408" x2="910" y1="0" y2="0"><stop offset=".000" stop-color="#453a76"/><stop offset=".233" stop-color="#5d4ea1"/><stop offset=".424" stop-color="#3683bb"/><stop offset=".454" stop-color="#388fba"/><stop offset=".542" stop-color="#67c2a5"/><stop offset=".572" stop-color="#96d5a4"/><stop offset=".582" stop-color="#b6e2a2"/><stop offset=".590" stop-color="#e7f599"/><stop offset=".598" stop-color="#fffdbc"/><stop offset=".604" stop-color="#fee08c"/><stop offset=".610" stop-color="#fdae61"/><stop offset=".624" stop-color="#f06844"/><stop offset=".637" stop-color="#de4c4b"/><stop offset=".661" stop-color="#df4e4b"/><stop offset=".673" stop-color="#f46e44"/><stop offset=".681" stop-color="#fca65d"/><stop offset=".685" stop-color="#fed481"/><stop offset=".689" stop-color="#fff9b5"/><stop offset=".691" stop-color="#f7fcb2"/><stop offset=".693" stop-color="#eaf69e"/><stop offset=".699" stop-color="#9fd8a4"/><stop offset=".709" stop-color="#5bb6aa"/><stop offset=".719" stop-color="#3389bd"/><stop offset=".739" stop-color="#5a54a4"/><stop offset=".771" stop-color="#423770"/><stop offset=".823" stop-color="#322a54"/><stop offset="1" stop-color="#2c2549"/></linearGradient><linearGradient id="h38" gradientUnits="userSpaceOnUse" x1="408" x2="909" y1="0" y2="0"><stop offset=".000" stop-color="#433973"/><stop offset=".240" stop-color="#5b4d9d"/><stop offset=".347" stop-color="#4e64ac"/><stop offset=".461" stop-color="#358bbc"/><stop offset=".549" stop-color="#63bfa6"/><stop offset=".577" stop-color="#8fd2a4"/><stop offset=".589" stop-color="#b4e0a2"/><stop offset=".597" stop-color="#e7f599"/><stop offset=".603" stop-color="#fbfdb9"/><stop offset=".605" stop-color="#fffbb8"/><stop offset=".613" stop-color="#feca78"/><stop offset=".619" stop-color="#fb9e5a"/><stop offset=".629" stop-color="#f36b43"/><stop offset=".643" stop-color="#e1504a"/><stop offset=".665" stop-color="#e1504a"/><stop offset=".677" stop-color="#f46f44"/><stop offset=".685" stop-color="#fca65d"/><stop offset=".689" stop-color="#fed581"/><stop offset=".693" stop-color="#fffab6"/><stop offset=".695" stop-color="#f6fbb1"/><stop offset=".697" stop-color="#e9f69c"/><stop offset=".701" stop-color="#b0dfa3"/><stop offset=".711" stop-color="#62bea7"/><stop offset=".723" stop-color="#3386bc"/><stop offset=".743" stop-color="#5c51a3"/><stop offset=".770" stop-color="#433872"/><stop offset=".818" stop-color="#332b55"/><stop offset=".986" stop-color="#2c2549"/><stop offset="1" stop-color="#2c2549"/></linearGradient><linearGradient id="h39" gradientUnits="userSpaceOnUse" x1="408" x2="909" y1="0" y2="0"><stop offset=".000" stop-color="#423770"/><stop offset=".244" stop-color="#594b99"/><stop offset=".307" stop-color="#5955a5"/><stop offset=".477" stop-color="#358cbc"/><stop offset=".557" stop-color="#61bca7"/><stop offset=".583" stop-color="#8bd1a4"/><stop offset=".595" stop-color="#b1dfa3"/><stop offset=".603" stop-color="#e7f599"/><stop offset=".609" stop-color="#fcfeba"/><stop offset=".611" stop-color="#fff9b5"/><stop offset=".617" stop-color="#fed682"/><stop offset=".623" stop-color="#fca55d"/><stop offset=".635" stop-color="#f26a44"/><stop offset=".649" stop-color="#e3534a"/><stop offset=".671" stop-color="#e65848"/><stop offset=".679" stop-color="#f46f44"/><stop offset=".687" stop-color="#fca45c"/><stop offset=".691" stop-color="#fed27f"/><stop offset=".695" stop-color="#fff8b4"/><stop offset=".697" stop-color="#f7fcb2"/><stop offset=".699" stop-color="#e9f69d"/><stop offset=".703" stop-color="#b0dfa3"/><stop offset=".713" stop-color="#61bda7"/><stop offset=".723" stop-color="#368cbb"/><stop offset=".741" stop-color="#5857a6"/><stop offset=".747" stop-color="#5b4d9d"/><stop offset=".772" stop-color="#423770"/><stop offset=".822" stop-color="#322a53"/><stop offset="1" stop-color="#2c2549"/></linearGradient><linearGradient id="h40" gradientUnits="userSpaceOnUse" x1="408" x2="909" y1="0" y2="0"><stop offset=".000" stop-color="#41366e"/><stop offset=".250" stop-color="#574995"/><stop offset=".317" stop-color="#5a54a4"/><stop offset=".491" stop-color="#358cbc"/><stop offset=".563" stop-color="#5eb9a9"/><stop offset=".587" stop-color="#84cea5"/><stop offset=".601" stop-color="#afdfa3"/><stop offset=".609" stop-color="#e7f59a"/><stop offset=".615" stop-color="#fefebd"/><stop offset=".621" stop-color="#fee18d"/><stop offset=".627" stop-color="#fdad60"/><stop offset=".641" stop-color="#f16944"/><stop offset=".655" stop-color="#e55649"/><stop offset=".675" stop-color="#ea5e47"/><stop offset=".683" stop-color="#f67848"/><stop offset=".691" stop-color="#fdb264"/><stop offset=".695" stop-color="#fee491"/><stop offset=".697" stop-color="#fff5ae"/><stop offset=".699" stop-color="#fafdb7"/><stop offset=".701" stop-color="#ecf7a1"/><stop offset=".703" stop-color="#d4ee9c"/><stop offset=".707" stop-color="#9fd8a4"/><stop offset=".715" stop-color="#62bda7"/><stop offset=".725" stop-color="#358bbc"/><stop offset=".743" stop-color="#5956a5"/><stop offset=".749" stop-color="#5a4c9b"/><stop offset=".774" stop-color="#41376e"/><stop offset=".824" stop-color="#312a53"/><stop offset="1" stop-color="#2c2549"/></linearGradient><linearGradient id="h41" gradientUnits="userSpaceOnUse" x1="407" x2="908" y1="0" y2="0"><stop offset=".000" stop-color="#3f356b"/><stop offset=".255" stop-color="#554792"/><stop offset=".333" stop-color="#5b53a4"/><stop offset=".505" stop-color="#358bbc"/><stop offset=".573" stop-color="#5db8a9"/><stop offset=".595" stop-color="#82cda5"/><stop offset=".609" stop-color="#afdfa3"/><stop offset=".617" stop-color="#e9f69c"/><stop offset=".623" stop-color="#fffebd"/><stop offset=".629" stop-color="#fedc88"/><stop offset=".635" stop-color="#fca95f"/><stop offset=".647" stop-color="#f46e43"/><stop offset=".661" stop-color="#e85a48"/><stop offset=".679" stop-color="#eb5f47"/><stop offset=".687" stop-color="#f57647"/><stop offset=".695" stop-color="#fdac60"/><stop offset=".699" stop-color="#fedf8a"/><stop offset=".703" stop-color="#fdfebc"/><stop offset=".707" stop-color="#dbf19a"/><stop offset=".711" stop-color="#a3daa4"/><stop offset=".719" stop-color="#63bfa6"/><stop offset=".729" stop-color="#358cbc"/><stop offset=".747" stop-color="#5955a5"/><stop offset=".754" stop-color="#564995"/><stop offset=".780" stop-color="#3f356b"/><stop offset=".832" stop-color="#312951"/><stop offset="1" stop-color="#2c2549"/></linearGradient><linearGradient id="h42" gradientUnits="userSpaceOnUse" x1="407" x2="908" y1="0" y2="0"><stop offset=".000" stop-color="#3e3469"/><stop offset=".259" stop-color="#53468f"/><stop offset=".347" stop-color="#5b53a4"/><stop offset=".515" stop-color="#348abc"/><stop offset=".579" stop-color="#5bb6aa"/><stop offset=".599" stop-color="#7ccba5"/><stop offset=".613" stop-color="#a7dba4"/><stop offset=".621" stop-color="#e0f399"/><stop offset=".627" stop-color="#fbfdb8"/><stop offset=".629" stop-color="#fffab6"/><stop offset=".635" stop-color="#fed481"/><stop offset=".639" stop-color="#fdb063"/><stop offset=".651" stop-color="#f57346"/><stop offset=".663" stop-color="#eb5f47"/><stop offset=".683" stop-color="#ee6445"/><stop offset=".689" stop-color="#f57547"/><stop offset=".697" stop-color="#fca85e"/><stop offset=".701" stop-color="#fed885"/><stop offset=".705" stop-color="#fffdbc"/><stop offset=".709" stop-color="#e2f399"/><stop offset=".713" stop-color="#a6dba4"/><stop offset=".723" stop-color="#5ab5ab"/><stop offset=".731" stop-color="#368cbb"/><stop offset=".749" stop-color="#5a54a5"/><stop offset=".758" stop-color="#53468f"/><stop offset=".786" stop-color="#3d3367"/><stop offset=".844" stop-color="#2f284f"/><stop offset="1" stop-color="#2c2549"/></linearGradient><linearGradient id="h43" gradientUnits="userSpaceOnUse" x1="407" x2="907" y1="0" y2="0"><stop offset=".000" stop-color="#3d3367"/><stop offset=".264" stop-color="#52458c"/><stop offset=".362" stop-color="#5b53a4"/><stop offset=".526" stop-color="#348abc"/><stop offset=".586" stop-color="#5ab5aa"/><stop offset=".606" stop-color="#7dcba5"/><stop offset=".620" stop-color="#aadda4"/><stop offset=".628" stop-color="#e7f59a"/><stop offset=".634" stop-color="#ffffbe"/><stop offset=".640" stop-color="#fedc88"/><stop offset=".646" stop-color="#fca95f"/><stop offset=".658" stop-color="#f57145"/><stop offset=".672" stop-color="#ec6146"/><stop offset=".688" stop-color="#f16944"/><stop offset=".696" stop-color="#f88a50"/><stop offset=".702" stop-color="#fdb96a"/><stop offset=".708" stop-color="#fffab7"/><stop offset=".710" stop-color="#f5fbaf"/><stop offset=".712" stop-color="#e7f599"/><stop offset=".716" stop-color="#a9dca4"/><stop offset=".726" stop-color="#5bb6aa"/><stop offset=".734" stop-color="#368cbb"/><stop offset=".752" stop-color="#5a54a5"/><stop offset=".764" stop-color="#51448a"/><stop offset=".794" stop-color="#3b3163"/><stop offset=".858" stop-color="#2e274d"/><stop offset="1" stop-color="#2c2549"/></linearGradient><linearGradient id="h44" gradientUnits="userSpaceOnUse" x1="407" x2="907" y1="0" y2="0"><stop offset=".000" stop-color="#3c3366"/><stop offset=".270" stop-color="#50438a"/><stop offset=".376" stop-color="#5b53a4"/><stop offset=".534" stop-color="#3389bd"/><stop offset=".592" stop-color="#5ab5ab"/><stop offset=".610" stop-color="#79c9a5"/><stop offset=".624" stop-color="#a7dba4"/><stop offset=".632" stop-color="#e3f499"/><stop offset=".638" stop-color="#fdfebb"/><stop offset=".642" stop-color="#feec9f"/><stop offset=".650" stop-color="#fdac60"/><stop offset=".662" stop-color="#f57547"/><stop offset=".674" stop-color="#ee6445"/><stop offset=".690" stop-color="#f26a44"/><stop offset=".698" stop-color="#f88950"/><stop offset=".704" stop-color="#fdb769"/><stop offset=".710" stop-color="#fff9b5"/><stop offset=".712" stop-color="#f6fbb1"/><stop offset=".714" stop-color="#e8f69a"/><stop offset=".718" stop-color="#aadca4"/><stop offset=".728" stop-color="#5bb6aa"/><stop offset=".736" stop-color="#368cbb"/><stop offset=".752" stop-color="#5758a6"/><stop offset=".758" stop-color="#5b4d9d"/><stop offset=".782" stop-color="#423870"/><stop offset=".828" stop-color="#322a53"/><stop offset="1" stop-color="#2c2549"/></linearGradient><linearGradient id="h45" gradientUnits="userSpaceOnUse" x1="406" x2="906" y1="0" y2="0"><stop offset=".000" stop-color="#3b3264"/><stop offset=".274" stop-color="#4f4287"/><stop offset=".390" stop-color="#5b53a4"/><stop offset=".544" stop-color="#3289bd"/><stop offset=".598" stop-color="#58b2ab"/><stop offset=".616" stop-color="#77c9a5"/><stop offset=".632" stop-color="#afdfa3"/><stop offset=".638" stop-color="#e0f399"/><stop offset=".644" stop-color="#fbfeba"/><stop offset=".646" stop-color="#fff9b4"/><stop offset=".652" stop-color="#fed27f"/><stop offset=".656" stop-color="#fdae61"/><stop offset=".668" stop-color="#f57848"/><stop offset=".680" stop-color="#f06745"/><stop offset=".694" stop-color="#f36c43"/><stop offset=".702" stop-color="#f88b51"/><stop offset=".708" stop-color="#fdb96a"/><stop offset=".714" stop-color="#fffab6"/><stop offset=".716" stop-color="#f5fbaf"/><stop offset=".718" stop-color="#e7f599"/><stop offset=".722" stop-color="#a8dca4"/><stop offset=".730" stop-color="#65c1a5"/><stop offset=".740" stop-color="#358bbc"/><stop offset=".756" stop-color="#5758a6"/><stop offset=".762" stop-color="#5b4c9d"/><stop offset=".786" stop-color="#423770"/><stop offset=".832" stop-color="#322a53"/><stop offset="1" stop-color="#2c2549"/></linearGradient><linearGradient id="h46" gradientUnits="userSpaceOnUse" x1="406" x2="906" y1="0" y2="0"><stop offset=".000" stop-color="#3a3163"/><stop offset=".280" stop-color="#4e4185"/><stop offset=".402" stop-color="#5b53a4"/><stop offset=".550" stop-color="#3387bd"/><stop offset=".602" stop-color="#57b1ac"/><stop offset=".620" stop-color="#76c8a5"/><stop offset=".636" stop-color="#aedea3"/><stop offset=".642" stop-color="#e0f299"/><stop offset=".648" stop-color="#fbfeba"/><stop offset=".650" stop-color="#fff9b4"/><stop offset=".656" stop-color="#fed27f"/><stop offset=".660" stop-color="#fdaf62"/><stop offset=".672" stop-color="#f67a49"/><stop offset=".684" stop-color="#f26a44"/><stop offset=".698" stop-color="#f57446"/><stop offset=".706" stop-color="#fa9a58"/><stop offset=".710" stop-color="#fdbd6d"/><stop offset=".716" stop-color="#fffcbb"/><stop offset=".720" stop-color="#e3f499"/><stop offset=".724" stop-color="#a6dba4"/><stop offset=".732" stop-color="#63bfa6"/><stop offset=".742" stop-color="#338abc"/><stop offset=".760" stop-color="#5b53a4"/><stop offset=".786" stop-color="#433872"/><stop offset=".830" stop-color="#322a54"/><stop offset=".988" stop-color="#2c2549"/><stop offset="1" stop-color="#2c2549"/></linearGradient><linearGradient id="h47" gradientUnits="userSpaceOnUse" x1="406" x2="905" y1="0" y2="0"><stop offset=".000" stop-color="#3a3061"/><stop offset=".285" stop-color="#4c4083"/><stop offset=".415" stop-color="#5b53a4"/><stop offset=".559" stop-color="#3288bd"/><stop offset=".609" stop-color="#58b2ac"/><stop offset=".627" stop-color="#7acaa5"/><stop offset=".641" stop-color="#afdea3"/><stop offset=".647" stop-color="#e1f399"/><stop offset=".653" stop-color="#fcfebb"/><stop offset=".655" stop-color="#fff8b3"/><stop offset=".661" stop-color="#fed17e"/><stop offset=".665" stop-color="#fdae61"/><stop offset=".677" stop-color="#f67b4a"/><stop offset=".689" stop-color="#f46d43"/><stop offset=".701" stop-color="#f57748"/><stop offset=".709" stop-color="#fb9d59"/><stop offset=".711" stop-color="#fdab60"/><stop offset=".715" stop-color="#fedb87"/><stop offset=".719" stop-color="#ffffbf"/><stop offset=".723" stop-color="#def29a"/><stop offset=".727" stop-color="#a3daa4"/><stop offset=".735" stop-color="#61bda7"/><stop offset=".745" stop-color="#3288bd"/><stop offset=".764" stop-color="#5c52a3"/><stop offset=".790" stop-color="#433871"/><stop offset=".834" stop-color="#322a54"/><stop offset=".994" stop-color="#2c2549"/><stop offset="1" stop-color="#2c2549"/></linearGradient><linearGradient id="h48" gradientUnits="userSpaceOnUse" x1="406" x2="904" y1="0" y2="0"><stop offset=".000" stop-color="#393060"/><stop offset=".289" stop-color="#4b3f81"/><stop offset=".426" stop-color="#5b53a4"/><stop offset=".564" stop-color="#3486bc"/><stop offset=".608" stop-color="#50a9af"/><stop offset=".631" stop-color="#74c8a5"/><stop offset=".647" stop-color="#b0dfa3"/><stop offset=".653" stop-color="#e2f499"/><stop offset=".659" stop-color="#fdfebc"/><stop offset=".665" stop-color="#fee08c"/><stop offset=".671" stop-color="#fdad61"/><stop offset=".683" stop-color="#f67d4a"/><stop offset=".697" stop-color="#f57145"/><stop offset=".707" stop-color="#f7804c"/><stop offset=".715" stop-color="#fdad61"/><stop offset=".721" stop-color="#fff0a6"/><stop offset=".723" stop-color="#fdfebc"/><stop offset=".725" stop-color="#eff9a6"/><stop offset=".727" stop-color="#d9f09b"/><stop offset=".731" stop-color="#a0d9a4"/><stop offset=".739" stop-color="#60bba8"/><stop offset=".749" stop-color="#3387bd"/><stop offset=".767" stop-color="#5c51a3"/><stop offset=".793" stop-color="#433871"/><stop offset=".837" stop-color="#322a54"/><stop offset="1" stop-color="#2c2549"/></linearGradient><linearGradient id="h49" gradientUnits="userSpaceOnUse" x1="406" x2="904" y1="0" y2="0"><stop offset=".000" stop-color="#382f5f"/><stop offset=".293" stop-color="#4a3f7f"/><stop offset=".436" stop-color="#5b53a4"/><stop offset=".570" stop-color="#3485bc"/><stop offset=".608" stop-color="#4aa3b2"/><stop offset=".633" stop-color="#6ec5a5"/><stop offset=".649" stop-color="#a5dba4"/><stop offset=".657" stop-color="#e4f498"/><stop offset=".663" stop-color="#feffbd"/><stop offset=".669" stop-color="#fedf8a"/><stop offset=".675" stop-color="#fdad60"/><stop offset=".687" stop-color="#f67f4b"/><stop offset=".701" stop-color="#f57547"/><stop offset=".709" stop-color="#f7834d"/><stop offset=".717" stop-color="#fdaf62"/><stop offset=".721" stop-color="#fee08b"/><stop offset=".725" stop-color="#fcfebb"/><stop offset=".727" stop-color="#eef8a5"/><stop offset=".729" stop-color="#d8ef9b"/><stop offset=".733" stop-color="#9fd8a4"/><stop offset=".741" stop-color="#5fbba8"/><stop offset=".751" stop-color="#3387bc"/><stop offset=".769" stop-color="#5c51a3"/><stop offset=".795" stop-color="#423871"/><stop offset=".839" stop-color="#322a54"/><stop offset="1" stop-color="#2c2549"/></linearGradient><linearGradient id="h50" gradientUnits="userSpaceOnUse" x1="406" x2="904" y1="0" y2="0"><stop offset=".000" stop-color="#382f5e"/><stop offset=".297" stop-color="#4a3e7e"/><stop offset=".446" stop-color="#5b53a4"/><stop offset=".576" stop-color="#3585bb"/><stop offset=".602" stop-color="#4098b7"/><stop offset=".635" stop-color="#68c3a5"/><stop offset=".653" stop-color="#a5dba4"/><stop offset=".661" stop-color="#e4f498"/><stop offset=".667" stop-color="#feffbe"/><stop offset=".673" stop-color="#fedf8a"/><stop offset=".679" stop-color="#fdad60"/><stop offset=".691" stop-color="#f7814c"/><stop offset=".705" stop-color="#f67a49"/><stop offset=".713" stop-color="#f88c51"/><stop offset=".719" stop-color="#fdb062"/><stop offset=".723" stop-color="#fee08b"/><stop offset=".727" stop-color="#fdfebb"/><stop offset=".729" stop-color="#eef8a5"/><stop offset=".731" stop-color="#d9f09b"/><stop offset=".735" stop-color="#a0d9a4"/><stop offset=".743" stop-color="#60bba8"/><stop offset=".753" stop-color="#3387bd"/><stop offset=".771" stop-color="#5c51a3"/><stop offset=".797" stop-color="#433871"/><stop offset=".841" stop-color="#322a54"/><stop offset="1" stop-color="#2c2549"/></linearGradient><linearGradient id="h51" gradientUnits="userSpaceOnUse" x1="406" x2="903" y1="0" y2="0"><stop offset=".000" stop-color="#372f5d"/><stop offset=".302" stop-color="#493d7c"/><stop offset=".455" stop-color="#5b53a4"/><stop offset=".584" stop-color="#3584bb"/><stop offset=".604" stop-color="#3b92b9"/><stop offset=".638" stop-color="#62bea7"/><stop offset=".656" stop-color="#9ad7a4"/><stop offset=".662" stop-color="#bee5a0"/><stop offset=".666" stop-color="#e1f399"/><stop offset=".672" stop-color="#fdfebc"/><stop offset=".678" stop-color="#fee18c"/><stop offset=".684" stop-color="#fdaf62"/><stop offset=".694" stop-color="#f88850"/><stop offset=".708" stop-color="#f67d4a"/><stop offset=".716" stop-color="#f88d52"/><stop offset=".722" stop-color="#fdad61"/><stop offset=".728" stop-color="#feeea2"/><stop offset=".730" stop-color="#ffffbf"/><stop offset=".734" stop-color="#dff299"/><stop offset=".738" stop-color="#a3daa4"/><stop offset=".746" stop-color="#62bda7"/><stop offset=".757" stop-color="#3389bd"/><stop offset=".775" stop-color="#5b52a4"/><stop offset=".801" stop-color="#433872"/><stop offset=".845" stop-color="#322a54"/><stop offset="1" stop-color="#2c2549"/></linearGradient><linearGradient id="h52" gradientUnits="userSpaceOnUse" x1="406" x2="903" y1="0" y2="0"><stop offset=".000" stop-color="#372e5c"/><stop offset=".306" stop-color="#483c7b"/><stop offset=".465" stop-color="#5b53a4"/><stop offset=".590" stop-color="#3584bb"/><stop offset=".610" stop-color="#3b92b9"/><stop offset=".642" stop-color="#61bca7"/><stop offset=".660" stop-color="#98d6a4"/><stop offset=".666" stop-color="#b9e3a1"/><stop offset=".670" stop-color="#ddf19a"/><stop offset=".674" stop-color="#f2faab"/><stop offset=".676" stop-color="#fbfdb9"/><stop offset=".678" stop-color="#fff9b5"/><stop offset=".684" stop-color="#fed481"/><stop offset=".690" stop-color="#fca85e"/><stop offset=".700" stop-color="#f8874f"/><stop offset=".714" stop-color="#f7844d"/><stop offset=".722" stop-color="#fb9f5a"/><stop offset=".726" stop-color="#fdbe6f"/><stop offset=".732" stop-color="#fffab7"/><stop offset=".734" stop-color="#f5fbaf"/><stop offset=".736" stop-color="#e7f599"/><stop offset=".740" stop-color="#a9dca4"/><stop offset=".748" stop-color="#65c1a5"/><stop offset=".759" stop-color="#358bbc"/><stop offset=".775" stop-color="#5758a6"/><stop offset=".781" stop-color="#5b4d9d"/><stop offset=".805" stop-color="#423770"/><stop offset=".849" stop-color="#322a53"/><stop offset="1" stop-color="#2c2549"/></linearGradient><linearGradient id="h53" gradientUnits="userSpaceOnUse" x1="406" x2="902" y1="0" y2="0"><stop offset=".000" stop-color="#362e5c"/><stop offset=".310" stop-color="#473c79"/><stop offset=".476" stop-color="#5b53a4"/><stop offset=".597" stop-color="#3683bb"/><stop offset=".615" stop-color="#3a91b9"/><stop offset=".647" stop-color="#5fbaa8"/><stop offset=".663" stop-color="#8ed1a4"/><stop offset=".671" stop-color="#b5e1a2"/><stop offset=".677" stop-color="#e8f69c"/><stop offset=".681" stop-color="#f9fdb6"/><stop offset=".683" stop-color="#fffcb9"/><stop offset=".692" stop-color="#fec776"/><stop offset=".698" stop-color="#fba25c"/><stop offset=".708" stop-color="#f8884f"/><stop offset=".720" stop-color="#f88950"/><stop offset=".728" stop-color="#fca85e"/><stop offset=".732" stop-color="#fed07e"/><stop offset=".736" stop-color="#fff6b0"/><stop offset=".738" stop-color="#f9fcb5"/><stop offset=".740" stop-color="#ebf79f"/><stop offset=".744" stop-color="#b0dfa3"/><stop offset=".752" stop-color="#69c3a5"/><stop offset=".762" stop-color="#378ebb"/><stop offset=".766" stop-color="#3a7db8"/><stop offset=".782" stop-color="#5d51a3"/><stop offset=".808" stop-color="#423871"/><stop offset=".853" stop-color="#322a54"/><stop offset="1" stop-color="#2c2549"/></linearGradient><linearGradient id="h54" gradientUnits="userSpaceOnUse" x1="406" x2="902" y1="0" y2="0"><stop offset=".000" stop-color="#362d5b"/><stop offset=".315" stop-color="#463b78"/><stop offset=".484" stop-color="#5b53a4"/><stop offset=".603" stop-color="#3683bb"/><stop offset=".619" stop-color="#388fba"/><stop offset=".651" stop-color="#5eb9a9"/><stop offset=".667" stop-color="#8cd1a4"/><stop offset=".675" stop-color="#b3e0a2"/><stop offset=".681" stop-color="#e7f69a"/><stop offset=".688" stop-color="#fffdbb"/><stop offset=".696" stop-color="#feca78"/><stop offset=".700" stop-color="#fdad60"/><stop offset=".710" stop-color="#f98e52"/><stop offset=".722" stop-color="#f88c51"/><stop offset=".730" stop-color="#fca85e"/><stop offset=".734" stop-color="#fecd7b"/><stop offset=".738" stop-color="#fff3ac"/><stop offset=".740" stop-color="#fbfdb8"/><stop offset=".742" stop-color="#edf8a3"/><stop offset=".744" stop-color="#d6ee9b"/><stop offset=".748" stop-color="#9fd8a4"/><stop offset=".756" stop-color="#5fbaa8"/><stop offset=".766" stop-color="#3387bc"/><stop offset=".784" stop-color="#5c52a3"/><stop offset=".810" stop-color="#433872"/><stop offset=".855" stop-color="#322a54"/><stop offset="1" stop-color="#2c2549"/></linearGradient><linearGradient id="h55" gradientUnits="userSpaceOnUse" x1="406" x2="902" y1="0" y2="0"><stop offset=".000" stop-color="#362d5a"/><stop offset=".319" stop-color="#463b77"/><stop offset=".492" stop-color="#5b53a4"/><stop offset=".607" stop-color="#3782ba"/><stop offset=".623" stop-color="#378eba"/><stop offset=".655" stop-color="#5eb9a9"/><stop offset=".671" stop-color="#8dd1a4"/><stop offset=".679" stop-color="#b5e1a2"/><stop offset=".685" stop-color="#e8f69c"/><stop offset=".690" stop-color="#f9fdb6"/><stop offset=".692" stop-color="#fffbb9"/><stop offset=".700" stop-color="#fec877"/><stop offset=".704" stop-color="#fdac60"/><stop offset=".714" stop-color="#f99153"/><stop offset=".726" stop-color="#f99354"/><stop offset=".732" stop-color="#fcaa5f"/><stop offset=".738" stop-color="#fee593"/><stop offset=".740" stop-color="#fff5ae"/><stop offset=".742" stop-color="#fafdb7"/><stop offset=".744" stop-color="#ecf7a2"/><stop offset=".746" stop-color="#d4ee9c"/><stop offset=".748" stop-color="#b4e1a2"/><stop offset=".756" stop-color="#6bc4a5"/><stop offset=".768" stop-color="#3387bc"/><stop offset=".786" stop-color="#5c52a3"/><stop offset=".812" stop-color="#433872"/><stop offset=".857" stop-color="#322a54"/><stop offset="1" stop-color="#2c2549"/></linearGradient><linearGradient id="h56" gradientUnits="userSpaceOnUse" x1="406" x2="902" y1="0" y2="0"><stop offset=".000" stop-color="#352d5a"/><stop offset=".323" stop-color="#453a76"/><stop offset=".500" stop-color="#5b53a4"/><stop offset=".611" stop-color="#3781ba"/><stop offset=".627" stop-color="#378ebb"/><stop offset=".659" stop-color="#5ebaa8"/><stop offset=".675" stop-color="#90d2a4"/><stop offset=".681" stop-color="#abdda4"/><stop offset=".688" stop-color="#e1f399"/><stop offset=".694" stop-color="#fdfebc"/><stop offset=".702" stop-color="#fed27f"/><stop offset=".708" stop-color="#fcaa5f"/><stop offset=".718" stop-color="#f99355"/><stop offset=".728" stop-color="#fa9757"/><stop offset=".734" stop-color="#fdb063"/><stop offset=".740" stop-color="#feeb9d"/><stop offset=".742" stop-color="#fffbb8"/><stop offset=".744" stop-color="#f5fbaf"/><stop offset=".746" stop-color="#e7f69a"/><stop offset=".750" stop-color="#aadda4"/><stop offset=".760" stop-color="#5bb6aa"/><stop offset=".768" stop-color="#368dbb"/><stop offset=".776" stop-color="#456fb1"/><stop offset=".790" stop-color="#5c4e9f"/><stop offset=".815" stop-color="#433871"/><stop offset=".859" stop-color="#322a54"/><stop offset="1" stop-color="#2c2549"/></linearGradient><linearGradient id="h57" gradientUnits="userSpaceOnUse" x1="406" x2="902" y1="0" y2="0"><stop offset=".000" stop-color="#352d59"/><stop offset=".327" stop-color="#453a75"/><stop offset=".506" stop-color="#5b53a4"/><stop offset=".615" stop-color="#3781ba"/><stop offset=".631" stop-color="#378ebb"/><stop offset=".663" stop-color="#60bca8"/><stop offset=".679" stop-color="#95d4a4"/><stop offset=".685" stop-color="#b6e2a2"/><stop offset=".692" stop-color="#e9f69d"/><stop offset=".696" stop-color="#fafdb8"/><stop offset=".698" stop-color="#fffab7"/><stop offset=".706" stop-color="#fec977"/><stop offset=".710" stop-color="#fdae61"/><stop offset=".720" stop-color="#fa9756"/><stop offset=".730" stop-color="#fb9d59"/><stop offset=".734" stop-color="#fdac60"/><stop offset=".740" stop-color="#fee492"/><stop offset=".742" stop-color="#fff4ac"/><stop offset=".744" stop-color="#fbfdb9"/><stop offset=".746" stop-color="#edf8a4"/><stop offset=".748" stop-color="#d7ef9b"/><stop offset=".752" stop-color="#a0d9a4"/><stop offset=".760" stop-color="#60bca8"/><stop offset=".770" stop-color="#3288bd"/><stop offset=".788" stop-color="#5b53a4"/><stop offset=".817" stop-color="#423870"/><stop offset=".861" stop-color="#322a53"/><stop offset="1" stop-color="#2c2549"/></linearGradient><linearGradient id="h58" gradientUnits="userSpaceOnUse" x1="406" x2="901" y1="0" y2="0"><stop offset=".000" stop-color="#352c59"/><stop offset=".329" stop-color="#443974"/><stop offset=".495" stop-color="#5d4ea0"/><stop offset=".612" stop-color="#3c7cb7"/><stop offset=".634" stop-color="#368cbb"/><stop offset=".667" stop-color="#5fbaa8"/><stop offset=".683" stop-color="#93d4a4"/><stop offset=".689" stop-color="#b2e0a3"/><stop offset=".695" stop-color="#e8f69b"/><stop offset=".699" stop-color="#f9fcb5"/><stop offset=".701" stop-color="#fffcbb"/><stop offset=".709" stop-color="#fecd7b"/><stop offset=".715" stop-color="#fcaa5f"/><stop offset=".725" stop-color="#fa9a58"/><stop offset=".733" stop-color="#fba35c"/><stop offset=".737" stop-color="#fdb869"/><stop offset=".741" stop-color="#fee08b"/><stop offset=".745" stop-color="#fffebe"/><stop offset=".749" stop-color="#e3f499"/><stop offset=".754" stop-color="#a7dba4"/><stop offset=".762" stop-color="#65c0a6"/><stop offset=".772" stop-color="#358cbb"/><stop offset=".790" stop-color="#5955a5"/><stop offset=".798" stop-color="#564995"/><stop offset=".826" stop-color="#3e3469"/><stop offset=".879" stop-color="#30284f"/><stop offset="1" stop-color="#2c2549"/></linearGradient><linearGradient id="h59" gradientUnits="userSpaceOnUse" x1="406" x2="901" y1="0" y2="0"><stop offset=".000" stop-color="#342c58"/><stop offset=".333" stop-color="#443973"/><stop offset=".499" stop-color="#5c4e9f"/><stop offset=".612" stop-color="#3e79b6"/><stop offset=".636" stop-color="#358bbc"/><stop offset=".669" stop-color="#5eb9a9"/><stop offset=".685" stop-color="#91d3a4"/><stop offset=".691" stop-color="#afdfa3"/><stop offset=".697" stop-color="#e6f598"/><stop offset=".703" stop-color="#fffebe"/><stop offset=".711" stop-color="#fed07e"/><stop offset=".717" stop-color="#fdad60"/><stop offset=".727" stop-color="#fb9e5a"/><stop offset=".735" stop-color="#fcaa5f"/><stop offset=".739" stop-color="#fdc675"/><stop offset=".745" stop-color="#fff9b6"/><stop offset=".747" stop-color="#f7fcb2"/><stop offset=".749" stop-color="#e9f69d"/><stop offset=".754" stop-color="#afdea3"/><stop offset=".764" stop-color="#5eb9a9"/><stop offset=".774" stop-color="#3387bc"/><stop offset=".792" stop-color="#5b53a4"/><stop offset=".820" stop-color="#423870"/><stop offset=".865" stop-color="#322a53"/><stop offset="1" stop-color="#2c2549"/></linearGradient><linearGradient id="h60" gradientUnits="userSpaceOnUse" x1="406" x2="901" y1="0" y2="0"><stop offset=".000" stop-color="#342c57"/><stop offset=".337" stop-color="#433973"/><stop offset=".503" stop-color="#5c4d9e"/><stop offset=".606" stop-color="#4273b3"/><stop offset=".640" stop-color="#358bbc"/><stop offset=".671" stop-color="#5cb7aa"/><stop offset=".685" stop-color="#86cfa5"/><stop offset=".693" stop-color="#abdda4"/><stop offset=".699" stop-color="#e2f399"/><stop offset=".705" stop-color="#fdfebc"/><stop offset=".713" stop-color="#fed582"/><stop offset=".721" stop-color="#fdab5f"/><stop offset=".731" stop-color="#fba35c"/><stop offset=".737" stop-color="#fdb265"/><stop offset=".743" stop-color="#fee593"/><stop offset=".747" stop-color="#fcfeba"/><stop offset=".752" stop-color="#dbf19a"/><stop offset=".756" stop-color="#a3daa4"/><stop offset=".764" stop-color="#63bea6"/><stop offset=".774" stop-color="#358bbc"/><stop offset=".792" stop-color="#5955a5"/><stop offset=".800" stop-color="#574995"/><stop offset=".828" stop-color="#3e3469"/><stop offset=".881" stop-color="#302850"/><stop offset="1" stop-color="#2c2549"/></linearGradient><linearGradient id="h61" gradientUnits="userSpaceOnUse" x1="406" x2="901" y1="0" y2="0"><stop offset=".000" stop-color="#342c57"/><stop offset=".341" stop-color="#433872"/><stop offset=".505" stop-color="#5b4c9c"/><stop offset=".560" stop-color="#545ca8"/><stop offset=".640" stop-color="#3387bd"/><stop offset=".673" stop-color="#5ab4ab"/><stop offset=".687" stop-color="#83cda5"/><stop offset=".697" stop-color="#b5e1a2"/><stop offset=".703" stop-color="#e9f69d"/><stop offset=".707" stop-color="#fafdb7"/><stop offset=".709" stop-color="#fffbb8"/><stop offset=".717" stop-color="#fecf7c"/><stop offset=".725" stop-color="#fdab60"/><stop offset=".735" stop-color="#fcaa5f"/><stop offset=".739" stop-color="#fdbc6d"/><stop offset=".743" stop-color="#fede89"/><stop offset=".747" stop-color="#fffab7"/><stop offset=".749" stop-color="#f6fbb1"/><stop offset=".752" stop-color="#e9f69d"/><stop offset=".756" stop-color="#b0dfa3"/><stop offset=".766" stop-color="#5fbaa8"/><stop offset=".776" stop-color="#3288bd"/><stop offset=".794" stop-color="#5a54a4"/><stop offset=".824" stop-color="#41376f"/><stop offset=".871" stop-color="#312952"/><stop offset="1" stop-color="#2c2549"/></linearGradient><linearGradient id="h62" gradientUnits="userSpaceOnUse" x1="406" x2="901" y1="0" y2="0"><stop offset=".000" stop-color="#342b56"/><stop offset=".345" stop-color="#423871"/><stop offset=".511" stop-color="#5a4c9b"/><stop offset=".558" stop-color="#5759a7"/><stop offset=".640" stop-color="#3683bb"/><stop offset=".653" stop-color="#388fba"/><stop offset=".681" stop-color="#63bea7"/><stop offset=".697" stop-color="#9fd8a4"/><stop offset=".703" stop-color="#ccea9d"/><stop offset=".705" stop-color="#dff299"/><stop offset=".711" stop-color="#fcfeba"/><stop offset=".713" stop-color="#fff8b4"/><stop offset=".721" stop-color="#fecd7b"/><stop offset=".729" stop-color="#fdae61"/><stop offset=".737" stop-color="#fdaf62"/><stop offset=".743" stop-color="#fed07e"/><stop offset=".749" stop-color="#fffdbb"/><stop offset=".754" stop-color="#e8f69b"/><stop offset=".758" stop-color="#addea4"/><stop offset=".768" stop-color="#5eb9a9"/><stop offset=".778" stop-color="#3288bd"/><stop offset=".796" stop-color="#5a54a4"/><stop offset=".810" stop-color="#4f4287"/><stop offset=".842" stop-color="#393061"/><stop offset=".909" stop-color="#2e274c"/><stop offset="1" stop-color="#2c2549"/></linearGradient><linearGradient id="h63" gradientUnits="userSpaceOnUse" x1="406" x2="901" y1="0" y2="0"><stop offset=".000" stop-color="#332b56"/><stop offset=".349" stop-color="#423770"/><stop offset=".515" stop-color="#594b99"/><stop offset=".556" stop-color="#5955a5"/><stop offset=".642" stop-color="#3880b9"/><stop offset=".657" stop-color="#378dbb"/><stop offset=".685" stop-color="#62bda7"/><stop offset=".701" stop-color="#9ed8a4"/><stop offset=".707" stop-color="#cbea9e"/><stop offset=".711" stop-color="#ebf79f"/><stop offset=".715" stop-color="#fbfeb9"/><stop offset=".717" stop-color="#fff9b6"/><stop offset=".725" stop-color="#fed17e"/><stop offset=".733" stop-color="#fdb466"/><stop offset=".739" stop-color="#fdb567"/><stop offset=".745" stop-color="#fed17f"/><stop offset=".752" stop-color="#fffbb8"/><stop offset=".754" stop-color="#f6fcb1"/><stop offset=".756" stop-color="#eaf79e"/><stop offset=".762" stop-color="#9ed8a4"/><stop offset=".770" stop-color="#61bca7"/><stop offset=".780" stop-color="#348abc"/><stop offset=".798" stop-color="#5955a5"/><stop offset=".806" stop-color="#574996"/><stop offset=".834" stop-color="#3f356a"/><stop offset=".887" stop-color="#302850"/><stop offset="1" stop-color="#2c2549"/></linearGradient><linearGradient id="h64" gradientUnits="userSpaceOnUse" x1="406" x2="901" y1="0" y2="0"><stop offset=".000" stop-color="#332b55"/><stop offset=".356" stop-color="#41376f"/><stop offset=".521" stop-color="#584a98"/><stop offset=".564" stop-color="#5955a5"/><stop offset=".648" stop-color="#3880b9"/><stop offset=".663" stop-color="#378ebb"/><stop offset=".689" stop-color="#60bba8"/><stop offset=".705" stop-color="#9cd7a4"/><stop offset=".711" stop-color="#c6e89e"/><stop offset=".715" stop-color="#e9f69c"/><stop offset=".719" stop-color="#f9fdb6"/><stop offset=".721" stop-color="#fffcbb"/><stop offset=".729" stop-color="#fed784"/><stop offset=".737" stop-color="#fdbd6e"/><stop offset=".743" stop-color="#fdc070"/><stop offset=".749" stop-color="#fee18c"/><stop offset=".754" stop-color="#fff8b4"/><stop offset=".756" stop-color="#f9fdb6"/><stop offset=".760" stop-color="#daf09a"/><stop offset=".764" stop-color="#a4daa4"/><stop offset=".774" stop-color="#5bb5aa"/><stop offset=".784" stop-color="#3486bc"/><stop offset=".802" stop-color="#5b53a4"/><stop offset=".832" stop-color="#423770"/><stop offset=".879" stop-color="#312a53"/><stop offset="1" stop-color="#2c2549"/></linearGradient><linearGradient id="h65" gradientUnits="userSpaceOnUse" x1="406" x2="901" y1="0" y2="0"><stop offset=".000" stop-color="#332a55"/><stop offset=".362" stop-color="#41366d"/><stop offset=".527" stop-color="#574a96"/><stop offset=".572" stop-color="#5a54a5"/><stop offset=".653" stop-color="#3a7db8"/><stop offset=".667" stop-color="#358bbc"/><stop offset=".693" stop-color="#5eb9a9"/><stop offset=".707" stop-color="#90d2a4"/><stop offset=".713" stop-color="#afdea3"/><stop offset=".719" stop-color="#e6f598"/><stop offset=".725" stop-color="#feffbe"/><stop offset=".735" stop-color="#fed683"/><stop offset=".743" stop-color="#fec776"/><stop offset=".749" stop-color="#fed683"/><stop offset=".756" stop-color="#fff7b1"/><stop offset=".758" stop-color="#fbfeb9"/><stop offset=".762" stop-color="#e1f399"/><stop offset=".766" stop-color="#a9dca4"/><stop offset=".776" stop-color="#5ebaa9"/><stop offset=".786" stop-color="#3389bd"/><stop offset=".804" stop-color="#5955a5"/><stop offset=".812" stop-color="#574996"/><stop offset=".840" stop-color="#3f356b"/><stop offset=".893" stop-color="#302850"/><stop offset="1" stop-color="#2c2549"/></linearGradient><linearGradient id="h66" gradientUnits="userSpaceOnUse" x1="406" x2="901" y1="0" y2="0"><stop offset=".000" stop-color="#322a54"/><stop offset=".368" stop-color="#40366c"/><stop offset=".533" stop-color="#574995"/><stop offset=".580" stop-color="#5a54a4"/><stop offset=".659" stop-color="#3a7db8"/><stop offset=".673" stop-color="#358cbb"/><stop offset=".699" stop-color="#61bca7"/><stop offset=".715" stop-color="#a1d9a4"/><stop offset=".719" stop-color="#bee5a0"/><stop offset=".723" stop-color="#e3f499"/><stop offset=".729" stop-color="#fcfebb"/><stop offset=".733" stop-color="#fff1a8"/><stop offset=".741" stop-color="#fed884"/><stop offset=".749" stop-color="#fed683"/><stop offset=".756" stop-color="#feeda2"/><stop offset=".758" stop-color="#fff8b3"/><stop offset=".760" stop-color="#fbfdb9"/><stop offset=".764" stop-color="#e3f499"/><stop offset=".768" stop-color="#abdda4"/><stop offset=".778" stop-color="#60bca8"/><stop offset=".788" stop-color="#358bbc"/><stop offset=".806" stop-color="#5857a6"/><stop offset=".812" stop-color="#5b4d9d"/><stop offset=".838" stop-color="#423770"/><stop offset=".887" stop-color="#312952"/><stop offset="1" stop-color="#2c2549"/></linearGradient><linearGradient id="h67" gradientUnits="userSpaceOnUse" x1="406" x2="901" y1="0" y2="0"><stop offset=".000" stop-color="#322a53"/><stop offset=".372" stop-color="#3f356b"/><stop offset=".537" stop-color="#554893"/><stop offset=".588" stop-color="#5a54a4"/><stop offset=".663" stop-color="#3c7cb7"/><stop offset=".677" stop-color="#348bbc"/><stop offset=".703" stop-color="#61bca7"/><stop offset=".719" stop-color="#a2daa4"/><stop offset=".725" stop-color="#d3ed9c"/><stop offset=".727" stop-color="#e5f598"/><stop offset=".733" stop-color="#fcfebb"/><stop offset=".737" stop-color="#fff3ab"/><stop offset=".745" stop-color="#fee18c"/><stop offset=".752" stop-color="#fee18c"/><stop offset=".758" stop-color="#fff3ab"/><stop offset=".760" stop-color="#fffdbc"/><stop offset=".764" stop-color="#edf8a2"/><stop offset=".766" stop-color="#dbf19a"/><stop offset=".770" stop-color="#a7dca4"/><stop offset=".780" stop-color="#5fbaa8"/><stop offset=".790" stop-color="#348abc"/><stop offset=".808" stop-color="#5857a6"/><stop offset=".814" stop-color="#5b4d9d"/><stop offset=".840" stop-color="#423770"/><stop offset=".889" stop-color="#312952"/><stop offset="1" stop-color="#2c2549"/></linearGradient><linearGradient id="h68" gradientUnits="userSpaceOnUse" x1="406" x2="901" y1="0" y2="0"><stop offset=".000" stop-color="#322a53"/><stop offset=".378" stop-color="#3f356a"/><stop offset=".543" stop-color="#554792"/><stop offset=".594" stop-color="#5b53a4"/><stop offset=".667" stop-color="#3c7bb7"/><stop offset=".681" stop-color="#348abc"/><stop offset=".705" stop-color="#5db9a9"/><stop offset=".719" stop-color="#93d4a4"/><stop offset=".725" stop-color="#b6e1a2"/><stop offset=".731" stop-color="#e9f69c"/><stop offset=".737" stop-color="#fefebd"/><stop offset=".747" stop-color="#fee798"/><stop offset=".754" stop-color="#fee899"/><stop offset=".760" stop-color="#fffbb9"/><stop offset=".762" stop-color="#fafdb7"/><stop offset=".766" stop-color="#e6f598"/><stop offset=".772" stop-color="#9fd8a4"/><stop offset=".782" stop-color="#5bb5aa"/><stop offset=".792" stop-color="#3387bd"/><stop offset=".812" stop-color="#5c52a3"/><stop offset=".842" stop-color="#423770"/><stop offset=".891" stop-color="#312952"/><stop offset="1" stop-color="#2c254a"/></linearGradient><linearGradient id="h69" gradientUnits="userSpaceOnUse" x1="406" x2="901" y1="0" y2="0"><stop offset=".000" stop-color="#312952"/><stop offset=".384" stop-color="#3e346a"/><stop offset=".549" stop-color="#544791"/><stop offset=".600" stop-color="#5b53a4"/><stop offset=".671" stop-color="#3c7bb7"/><stop offset=".685" stop-color="#348bbc"/><stop offset=".709" stop-color="#60bba8"/><stop offset=".725" stop-color="#a3daa4"/><stop offset=".733" stop-color="#e4f498"/><stop offset=".741" stop-color="#fffebe"/><stop offset=".749" stop-color="#feeea2"/><stop offset=".756" stop-color="#fff0a6"/><stop offset=".760" stop-color="#fffbb9"/><stop offset=".762" stop-color="#fbfdb8"/><stop offset=".766" stop-color="#e9f69c"/><stop offset=".772" stop-color="#a5dba4"/><stop offset=".782" stop-color="#5fbaa8"/><stop offset=".792" stop-color="#358bbc"/><stop offset=".810" stop-color="#5758a6"/><stop offset=".818" stop-color="#594b99"/><stop offset=".846" stop-color="#40366d"/><stop offset=".897" stop-color="#312951"/><stop offset="1" stop-color="#2c254a"/></linearGradient><linearGradient id="h70" gradientUnits="userSpaceOnUse" x1="406" x2="901" y1="0" y2="0"><stop offset=".000" stop-color="#312952"/><stop offset=".388" stop-color="#3e3469"/><stop offset=".552" stop-color="#53468f"/><stop offset=".608" stop-color="#5b54a4"/><stop offset=".675" stop-color="#3c7bb7"/><stop offset=".689" stop-color="#358bbc"/><stop offset=".713" stop-color="#63bfa6"/><stop offset=".729" stop-color="#aadda4"/><stop offset=".735" stop-color="#def29a"/><stop offset=".743" stop-color="#fcfebb"/><stop offset=".754" stop-color="#fff3aa"/><stop offset=".760" stop-color="#fffcba"/><stop offset=".762" stop-color="#fbfdb9"/><stop offset=".766" stop-color="#ebf7a0"/><stop offset=".768" stop-color="#dbf19a"/><stop offset=".772" stop-color="#aadda4"/><stop offset=".784" stop-color="#59b4ab"/><stop offset=".794" stop-color="#3387bc"/><stop offset=".814" stop-color="#5c52a3"/><stop offset=".844" stop-color="#423870"/><stop offset=".893" stop-color="#312a53"/><stop offset="1" stop-color="#2c254a"/></linearGradient><linearGradient id="h71" gradientUnits="userSpaceOnUse" x1="406" x2="901" y1="0" y2="0"><stop offset=".000" stop-color="#312952"/><stop offset=".392" stop-color="#3d3468"/><stop offset=".556" stop-color="#52458d"/><stop offset=".612" stop-color="#5b53a4"/><stop offset=".677" stop-color="#3e79b6"/><stop offset=".691" stop-color="#348abc"/><stop offset=".715" stop-color="#62bda7"/><stop offset=".731" stop-color="#a7dca4"/><stop offset=".739" stop-color="#e7f69a"/><stop offset=".747" stop-color="#fefebd"/><stop offset=".756" stop-color="#fff8b3"/><stop offset=".762" stop-color="#fbfeb9"/><stop offset=".768" stop-color="#e2f399"/><stop offset=".774" stop-color="#a1d9a4"/><stop offset=".784" stop-color="#5eb9a9"/><stop offset=".794" stop-color="#348bbc"/><stop offset=".814" stop-color="#5a54a4"/><stop offset=".826" stop-color="#52458d"/><stop offset=".859" stop-color="#3c3265"/><stop offset=".921" stop-color="#2f274d"/><stop offset="1" stop-color="#2c254a"/></linearGradient><linearGradient id="h72" gradientUnits="userSpaceOnUse" x1="406" x2="901" y1="0" y2="0"><stop offset=".000" stop-color="#312951"/><stop offset=".396" stop-color="#3d3367"/><stop offset=".560" stop-color="#52458c"/><stop offset=".618" stop-color="#5b53a4"/><stop offset=".681" stop-color="#3d79b6"/><stop offset=".695" stop-color="#348bbc"/><stop offset=".719" stop-color="#65c1a5"/><stop offset=".735" stop-color="#b0dfa3"/><stop offset=".741" stop-color="#e2f499"/><stop offset=".752" stop-color="#fefebd"/><stop offset=".762" stop-color="#fcfeba"/><stop offset=".768" stop-color="#e8f69b"/><stop offset=".774" stop-color="#a9dca4"/><stop offset=".786" stop-color="#5ab5ab"/><stop offset=".796" stop-color="#3288bd"/><stop offset=".816" stop-color="#5b53a4"/><stop offset=".848" stop-color="#42376f"/><stop offset=".899" stop-color="#312952"/><stop offset="1" stop-color="#2c254a"/></linearGradient><linearGradient id="h73" gradientUnits="userSpaceOnUse" x1="406" x2="901" y1="0" y2="0"><stop offset=".000" stop-color="#302951"/><stop offset=".402" stop-color="#3d3366"/><stop offset=".566" stop-color="#51448c"/><stop offset=".624" stop-color="#5b53a4"/><stop offset=".685" stop-color="#3d79b6"/><stop offset=".699" stop-color="#358cbc"/><stop offset=".723" stop-color="#69c3a5"/><stop offset=".737" stop-color="#a9dca4"/><stop offset=".745" stop-color="#e7f59a"/><stop offset=".756" stop-color="#fcfebb"/><stop offset=".764" stop-color="#f8fcb4"/><stop offset=".770" stop-color="#e2f399"/><stop offset=".776" stop-color="#a4daa4"/><stop offset=".786" stop-color="#61bda7"/><stop offset=".798" stop-color="#3386bc"/><stop offset=".818" stop-color="#5b53a4"/><stop offset=".851" stop-color="#42376f"/><stop offset=".901" stop-color="#312952"/><stop offset="1" stop-color="#2c254a"/></linearGradient><linearGradient id="h74" gradientUnits="userSpaceOnUse" x1="406" x2="901" y1="0" y2="0"><stop offset=".000" stop-color="#302951"/><stop offset=".406" stop-color="#3c3366"/><stop offset=".570" stop-color="#51448a"/><stop offset=".630" stop-color="#5b53a4"/><stop offset=".689" stop-color="#3e79b6"/><stop offset=".703" stop-color="#368cbb"/><stop offset=".725" stop-color="#65c0a6"/><stop offset=".741" stop-color="#aedea3"/><stop offset=".749" stop-color="#e9f69c"/><stop offset=".760" stop-color="#fafdb7"/><stop offset=".766" stop-color="#f5fbaf"/><stop offset=".770" stop-color="#eaf69d"/><stop offset=".774" stop-color="#c8e99e"/><stop offset=".780" stop-color="#94d4a4"/><stop offset=".790" stop-color="#57b1ac"/><stop offset=".800" stop-color="#3486bc"/><stop offset=".820" stop-color="#5b52a4"/><stop offset=".853" stop-color="#42376f"/><stop offset=".903" stop-color="#312952"/><stop offset="1" stop-color="#2c254a"/></linearGradient><linearGradient id="h75" gradientUnits="userSpaceOnUse" x1="406" x2="901" y1="0" y2="0"><stop offset=".000" stop-color="#302850"/><stop offset=".412" stop-color="#3c3265"/><stop offset=".574" stop-color="#504389"/><stop offset=".636" stop-color="#5b53a4"/><stop offset=".693" stop-color="#3e79b6"/><stop offset=".707" stop-color="#368cbb"/><stop offset=".729" stop-color="#67c2a5"/><stop offset=".745" stop-color="#b4e1a2"/><stop offset=".752" stop-color="#e2f399"/><stop offset=".762" stop-color="#f6fbb1"/><stop offset=".768" stop-color="#f2faab"/><stop offset=".772" stop-color="#e7f69a"/><stop offset=".780" stop-color="#a0d9a4"/><stop offset=".790" stop-color="#5fbba8"/><stop offset=".802" stop-color="#3486bc"/><stop offset=".822" stop-color="#5b53a4"/><stop offset=".855" stop-color="#423770"/><stop offset=".905" stop-color="#312952"/><stop offset="1" stop-color="#2c254a"/></linearGradient><linearGradient id="h76" gradientUnits="userSpaceOnUse" x1="406" x2="901" y1="0" y2="0"><stop offset=".000" stop-color="#302850"/><stop offset=".418" stop-color="#3b3265"/><stop offset=".580" stop-color="#504388"/><stop offset=".642" stop-color="#5b53a4"/><stop offset=".697" stop-color="#3e79b6"/><stop offset=".709" stop-color="#338abc"/><stop offset=".731" stop-color="#63bea7"/><stop offset=".747" stop-color="#aadda4"/><stop offset=".756" stop-color="#e5f498"/><stop offset=".766" stop-color="#f3faad"/><stop offset=".774" stop-color="#e5f498"/><stop offset=".782" stop-color="#9ed8a4"/><stop offset=".792" stop-color="#5fbaa8"/><stop offset=".804" stop-color="#3486bc"/><stop offset=".824" stop-color="#5b53a4"/><stop offset=".857" stop-color="#423770"/><stop offset=".907" stop-color="#312952"/><stop offset="1" stop-color="#2c254a"/></linearGradient><linearGradient id="h77" gradientUnits="userSpaceOnUse" x1="406" x2="901" y1="0" y2="0"><stop offset=".000" stop-color="#302850"/><stop offset=".422" stop-color="#3b3264"/><stop offset=".584" stop-color="#4f4287"/><stop offset=".648" stop-color="#5b53a4"/><stop offset=".701" stop-color="#3e79b6"/><stop offset=".713" stop-color="#348abc"/><stop offset=".735" stop-color="#65c1a5"/><stop offset=".752" stop-color="#b0dfa3"/><stop offset=".760" stop-color="#e6f598"/><stop offset=".768" stop-color="#f0f9a8"/><stop offset=".774" stop-color="#e9f69c"/><stop offset=".778" stop-color="#cfec9d"/><stop offset=".784" stop-color="#9cd7a4"/><stop offset=".794" stop-color="#5eb9a9"/><stop offset=".804" stop-color="#368cbb"/><stop offset=".812" stop-color="#4372b3"/><stop offset=".828" stop-color="#5e4fa2"/><stop offset=".857" stop-color="#433872"/><stop offset=".905" stop-color="#322a54"/><stop offset="1" stop-color="#2c254a"/></linearGradient><linearGradient id="h78" gradientUnits="userSpaceOnUse" x1="406" x2="901" y1="0" y2="0"><stop offset=".000" stop-color="#30284f"/><stop offset=".428" stop-color="#3b3163"/><stop offset=".588" stop-color="#4e4286"/><stop offset=".655" stop-color="#5b53a4"/><stop offset=".705" stop-color="#3e79b6"/><stop offset=".717" stop-color="#358bbc"/><stop offset=".739" stop-color="#69c3a5"/><stop offset=".756" stop-color="#b7e2a2"/><stop offset=".764" stop-color="#e7f599"/><stop offset=".772" stop-color="#ecf7a2"/><stop offset=".776" stop-color="#e5f598"/><stop offset=".788" stop-color="#8cd1a4"/><stop offset=".796" stop-color="#5cb7a9"/><stop offset=".806" stop-color="#358bbc"/><stop offset=".826" stop-color="#5956a5"/><stop offset=".832" stop-color="#5b4c9d"/><stop offset=".861" stop-color="#423770"/><stop offset=".911" stop-color="#312952"/><stop offset="1" stop-color="#2d254a"/></linearGradient><linearGradient id="h79" gradientUnits="userSpaceOnUse" x1="406" x2="901" y1="0" y2="0"><stop offset=".000" stop-color="#2f284f"/><stop offset=".432" stop-color="#3a3162"/><stop offset=".592" stop-color="#4e4185"/><stop offset=".659" stop-color="#5b52a4"/><stop offset=".709" stop-color="#3d79b6"/><stop offset=".721" stop-color="#368cbb"/><stop offset=".741" stop-color="#65c1a5"/><stop offset=".758" stop-color="#b0dfa3"/><stop offset=".766" stop-color="#e1f399"/><stop offset=".774" stop-color="#e9f69c"/><stop offset=".778" stop-color="#ddf19a"/><stop offset=".790" stop-color="#88cfa5"/><stop offset=".798" stop-color="#5ab5ab"/><stop offset=".808" stop-color="#3389bd"/><stop offset=".828" stop-color="#5a55a5"/><stop offset=".836" stop-color="#584a97"/><stop offset=".867" stop-color="#3f356b"/><stop offset=".923" stop-color="#302850"/><stop offset="1" stop-color="#2d254a"/></linearGradient><linearGradient id="h80" gradientUnits="userSpaceOnUse" x1="406" x2="901" y1="0" y2="0"><stop offset=".000" stop-color="#2f284f"/><stop offset=".438" stop-color="#3a3162"/><stop offset=".598" stop-color="#4d4184"/><stop offset=".665" stop-color="#5b53a4"/><stop offset=".711" stop-color="#3f77b5"/><stop offset=".723" stop-color="#348abc"/><stop offset=".745" stop-color="#6ac4a5"/><stop offset=".762" stop-color="#b7e2a2"/><stop offset=".770" stop-color="#e0f399"/><stop offset=".776" stop-color="#e4f498"/><stop offset=".782" stop-color="#c7e99e"/><stop offset=".794" stop-color="#77c9a5"/><stop offset=".808" stop-color="#388eba"/><stop offset=".810" stop-color="#3387bc"/><stop offset=".830" stop-color="#5b53a4"/><stop offset=".865" stop-color="#41376f"/><stop offset=".917" stop-color="#312952"/><stop offset="1" stop-color="#2d254a"/></linearGradient><linearGradient id="h81" gradientUnits="userSpaceOnUse" x1="406" x2="901" y1="0" y2="0"><stop offset=".000" stop-color="#2f284e"/><stop offset=".444" stop-color="#3a3161"/><stop offset=".602" stop-color="#4d4083"/><stop offset=".671" stop-color="#5b53a4"/><stop offset=".715" stop-color="#3f78b5"/><stop offset=".727" stop-color="#358bbc"/><stop offset=".747" stop-color="#66c2a5"/><stop offset=".766" stop-color="#bde4a0"/><stop offset=".774" stop-color="#dcf19a"/><stop offset=".780" stop-color="#d5ee9b"/><stop offset=".800" stop-color="#5db8a9"/><stop offset=".810" stop-color="#358cbb"/><stop offset=".830" stop-color="#5956a5"/><stop offset=".836" stop-color="#5b4c9d"/><stop offset=".865" stop-color="#423770"/><stop offset=".915" stop-color="#312953"/><stop offset="1" stop-color="#2d254a"/></linearGradient><linearGradient id="h82" gradientUnits="userSpaceOnUse" x1="406" x2="901" y1="0" y2="0"><stop offset=".000" stop-color="#2f274e"/><stop offset=".448" stop-color="#393061"/><stop offset=".606" stop-color="#4c4082"/><stop offset=".677" stop-color="#5b53a4"/><stop offset=".719" stop-color="#3e78b5"/><stop offset=".731" stop-color="#368dbb"/><stop offset=".752" stop-color="#6cc4a5"/><stop offset=".774" stop-color="#d1ec9c"/><stop offset=".780" stop-color="#d2ed9c"/><stop offset=".792" stop-color="#91d3a4"/><stop offset=".802" stop-color="#59b4ab"/><stop offset=".812" stop-color="#3389bd"/><stop offset=".832" stop-color="#5a54a4"/><stop offset=".842" stop-color="#554792"/><stop offset=".875" stop-color="#3d3367"/><stop offset=".935" stop-color="#2f284f"/><stop offset="1" stop-color="#2d254a"/></linearGradient><linearGradient id="h83" gradientUnits="userSpaceOnUse" x1="406" x2="901" y1="0" y2="0"><stop offset=".000" stop-color="#2f274e"/><stop offset=".455" stop-color="#393060"/><stop offset=".612" stop-color="#4c4081"/><stop offset=".681" stop-color="#5b53a4"/><stop offset=".723" stop-color="#3e79b6"/><stop offset=".733" stop-color="#348abc"/><stop offset=".754" stop-color="#68c3a5"/><stop offset=".776" stop-color="#c9e99e"/><stop offset=".782" stop-color="#c9e99e"/><stop offset=".802" stop-color="#5eb9a9"/><stop offset=".814" stop-color="#3486bc"/><stop offset=".834" stop-color="#5b53a4"/><stop offset=".867" stop-color="#423770"/><stop offset=".917" stop-color="#312a53"/><stop offset="1" stop-color="#2d254a"/></linearGradient><linearGradient id="h84" gradientUnits="userSpaceOnUse" x1="406" x2="901" y1="0" y2="0"><stop offset=".000" stop-color="#2f274e"/><stop offset=".461" stop-color="#393060"/><stop offset=".616" stop-color="#4b3f80"/><stop offset=".687" stop-color="#5b53a4"/><stop offset=".727" stop-color="#3d79b6"/><stop offset=".737" stop-color="#368cbb"/><stop offset=".758" stop-color="#6ec5a5"/><stop offset=".778" stop-color="#c1e6a0"/><stop offset=".784" stop-color="#c0e6a0"/><stop offset=".802" stop-color="#63bfa6"/><stop offset=".814" stop-color="#348abc"/><stop offset=".834" stop-color="#5a55a5"/><stop offset=".842" stop-color="#584a97"/><stop offset=".873" stop-color="#3f356b"/><stop offset=".929" stop-color="#302850"/><stop offset="1" stop-color="#2d264a"/></linearGradient><linearGradient id="h85" gradientUnits="userSpaceOnUse" x1="406" x2="901" y1="0" y2="0"><stop offset=".000" stop-color="#2e274d"/><stop offset=".467" stop-color="#382f5f"/><stop offset=".622" stop-color="#4b3f80"/><stop offset=".691" stop-color="#5b53a4"/><stop offset=".729" stop-color="#3f77b5"/><stop offset=".739" stop-color="#338abc"/><stop offset=".760" stop-color="#6ac4a5"/><stop offset=".778" stop-color="#b4e1a2"/><stop offset=".784" stop-color="#bbe4a1"/><stop offset=".796" stop-color="#8bd0a4"/><stop offset=".804" stop-color="#5fbaa8"/><stop offset=".816" stop-color="#3387bc"/><stop offset=".836" stop-color="#5b53a4"/><stop offset=".869" stop-color="#423770"/><stop offset=".919" stop-color="#312a53"/><stop offset="1" stop-color="#2d264a"/></linearGradient><linearGradient id="h86" gradientUnits="userSpaceOnUse" x1="406" x2="901" y1="0" y2="0"><stop offset=".000" stop-color="#2e274d"/><stop offset=".473" stop-color="#382f5e"/><stop offset=".626" stop-color="#4a3e7f"/><stop offset=".697" stop-color="#5b53a4"/><stop offset=".733" stop-color="#3e78b6"/><stop offset=".743" stop-color="#368cbb"/><stop offset=".764" stop-color="#70c6a5"/><stop offset=".778" stop-color="#a8dca4"/><stop offset=".786" stop-color="#b2e0a3"/><stop offset=".796" stop-color="#8fd2a4"/><stop offset=".806" stop-color="#5bb6aa"/><stop offset=".816" stop-color="#348bbc"/><stop offset=".836" stop-color="#5955a5"/><stop offset=".844" stop-color="#584a97"/><stop offset=".875" stop-color="#3f356b"/><stop offset=".931" stop-color="#302850"/><stop offset="1" stop-color="#2d264a"/></linearGradient><linearGradient id="h87" gradientUnits="userSpaceOnUse" x1="406" x2="901" y1="0" y2="0"><stop offset=".000" stop-color="#2e274d"/><stop offset=".479" stop-color="#382f5e"/><stop offset=".630" stop-color="#4a3e7e"/><stop offset=".701" stop-color="#5b53a4"/><stop offset=".737" stop-color="#3d7ab6"/><stop offset=".745" stop-color="#348abc"/><stop offset=".766" stop-color="#6ec5a5"/><stop offset=".780" stop-color="#a4daa4"/><stop offset=".788" stop-color="#aadda4"/><stop offset=".798" stop-color="#88cfa5"/><stop offset=".806" stop-color="#5fbaa8"/><stop offset=".818" stop-color="#3387bd"/><stop offset=".838" stop-color="#5b53a4"/><stop offset=".871" stop-color="#423770"/><stop offset=".923" stop-color="#312952"/><stop offset="1" stop-color="#2d264a"/></linearGradient><linearGradient id="h88" gradientUnits="userSpaceOnUse" x1="406" x2="901" y1="0" y2="0"><stop offset=".000" stop-color="#2e274d"/><stop offset=".483" stop-color="#372f5d"/><stop offset=".634" stop-color="#493d7d"/><stop offset=".705" stop-color="#5b53a4"/><stop offset=".739" stop-color="#3e78b5"/><stop offset=".747" stop-color="#3288bd"/><stop offset=".768" stop-color="#6bc4a5"/><stop offset=".782" stop-color="#a0d9a4"/><stop offset=".790" stop-color="#a5dba4"/><stop offset=".800" stop-color="#82cda5"/><stop offset=".808" stop-color="#5bb6aa"/><stop offset=".818" stop-color="#358bbc"/><stop offset=".838" stop-color="#5955a5"/><stop offset=".846" stop-color="#584a97"/><stop offset=".877" stop-color="#3f356b"/><stop offset=".933" stop-color="#302850"/><stop offset="1" stop-color="#2d264a"/></linearGradient><linearGradient id="h89" gradientUnits="userSpaceOnUse" x1="406" x2="901" y1="0" y2="0"><stop offset=".000" stop-color="#2e274d"/><stop offset=".489" stop-color="#372e5d"/><stop offset=".638" stop-color="#493d7c"/><stop offset=".709" stop-color="#5b53a4"/><stop offset=".743" stop-color="#3d7ab6"/><stop offset=".752" stop-color="#358bbc"/><stop offset=".772" stop-color="#72c7a5"/><stop offset=".784" stop-color="#9cd7a4"/><stop offset=".792" stop-color="#a0d9a4"/><stop offset=".802" stop-color="#7dcba5"/><stop offset=".810" stop-color="#57b1ac"/><stop offset=".820" stop-color="#3288bd"/><stop offset=".840" stop-color="#5b53a4"/><stop offset=".873" stop-color="#423770"/><stop offset=".925" stop-color="#312952"/><stop offset="1" stop-color="#2d264a"/></linearGradient><linearGradient id="h90" gradientUnits="userSpaceOnUse" x1="406" x2="901" y1="0" y2="0"><stop offset=".000" stop-color="#2e274c"/><stop offset=".493" stop-color="#372e5d"/><stop offset=".642" stop-color="#483d7b"/><stop offset=".713" stop-color="#5b53a4"/><stop offset=".745" stop-color="#3e79b6"/><stop offset=".754" stop-color="#348abc"/><stop offset=".774" stop-color="#6fc6a5"/><stop offset=".786" stop-color="#99d6a4"/><stop offset=".794" stop-color="#9bd7a4"/><stop offset=".804" stop-color="#77c9a5"/><stop offset=".814" stop-color="#4ba4b1"/><stop offset=".822" stop-color="#3585bb"/><stop offset=".842" stop-color="#5c52a3"/><stop offset=".873" stop-color="#433871"/><stop offset=".923" stop-color="#322a53"/><stop offset="1" stop-color="#2d264a"/></linearGradient><linearGradient id="h91" gradientUnits="userSpaceOnUse" x1="406" x2="901" y1="0" y2="0"><stop offset=".000" stop-color="#2e274c"/><stop offset=".497" stop-color="#372e5c"/><stop offset=".646" stop-color="#483d7b"/><stop offset=".717" stop-color="#5a54a4"/><stop offset=".749" stop-color="#3c7bb7"/><stop offset=".756" stop-color="#3288bd"/><stop offset=".778" stop-color="#75c8a5"/><stop offset=".790" stop-color="#97d5a4"/><stop offset=".798" stop-color="#91d3a4"/><stop offset=".810" stop-color="#60bba8"/><stop offset=".822" stop-color="#3389bd"/><stop offset=".842" stop-color="#5a54a4"/><stop offset=".875" stop-color="#423770"/><stop offset=".927" stop-color="#312952"/><stop offset="1" stop-color="#2d264a"/></linearGradient><linearGradient id="h92" gradientUnits="userSpaceOnUse" x1="406" x2="901" y1="0" y2="0"><stop offset=".000" stop-color="#2e264c"/><stop offset=".503" stop-color="#372e5c"/><stop offset=".651" stop-color="#483c7a"/><stop offset=".719" stop-color="#5b52a4"/><stop offset=".752" stop-color="#3d7ab6"/><stop offset=".760" stop-color="#358cbb"/><stop offset=".780" stop-color="#72c7a5"/><stop offset=".792" stop-color="#93d4a4"/><stop offset=".800" stop-color="#8cd1a4"/><stop offset=".810" stop-color="#64bfa6"/><stop offset=".824" stop-color="#3486bc"/><stop offset=".844" stop-color="#5c52a3"/><stop offset=".875" stop-color="#433871"/><stop offset=".925" stop-color="#322a53"/><stop offset="1" stop-color="#2d264a"/></linearGradient><linearGradient id="h93" gradientUnits="userSpaceOnUse" x1="406" x2="901" y1="0" y2="0"><stop offset=".000" stop-color="#2e264c"/><stop offset=".507" stop-color="#372e5c"/><stop offset=".655" stop-color="#483c7a"/><stop offset=".723" stop-color="#5b53a4"/><stop offset=".754" stop-color="#3e78b6"/><stop offset=".762" stop-color="#348abc"/><stop offset=".782" stop-color="#6fc6a5"/><stop offset=".794" stop-color="#8fd2a4"/><stop offset=".802" stop-color="#87cfa5"/><stop offset=".812" stop-color="#60bba8"/><stop offset=".824" stop-color="#348abc"/><stop offset=".844" stop-color="#5a54a4"/><stop offset=".857" stop-color="#52458d"/><stop offset=".891" stop-color="#3b3264"/><stop offset=".958" stop-color="#2e274d"/><stop offset="1" stop-color="#2d264a"/></linearGradient><linearGradient id="h94" gradientUnits="userSpaceOnUse" x1="406" x2="901" y1="0" y2="0"><stop offset=".000" stop-color="#2e264c"/><stop offset=".511" stop-color="#362e5b"/><stop offset=".657" stop-color="#473c79"/><stop offset=".719" stop-color="#5d4ea0"/><stop offset=".754" stop-color="#4273b3"/><stop offset=".764" stop-color="#3389bd"/><stop offset=".786" stop-color="#74c8a5"/><stop offset=".796" stop-color="#8bd0a4"/><stop offset=".804" stop-color="#82cda5"/><stop offset=".814" stop-color="#5cb7aa"/><stop offset=".826" stop-color="#3387bc"/><stop offset=".846" stop-color="#5b53a4"/><stop offset=".877" stop-color="#433871"/><stop offset=".927" stop-color="#322a53"/><stop offset="1" stop-color="#2d264a"/></linearGradient><linearGradient id="h95" gradientUnits="userSpaceOnUse" x1="406" x2="901" y1="0" y2="0"><stop offset=".000" stop-color="#2e264c"/><stop offset=".515" stop-color="#362e5b"/><stop offset=".661" stop-color="#473b79"/><stop offset=".721" stop-color="#5c4d9e"/><stop offset=".752" stop-color="#486baf"/><stop offset=".766" stop-color="#3287bd"/><stop offset=".788" stop-color="#71c6a5"/><stop offset=".798" stop-color="#87cfa5"/><stop offset=".806" stop-color="#7dcba5"/><stop offset=".814" stop-color="#5fbba8"/><stop offset=".826" stop-color="#358bbc"/><stop offset=".846" stop-color="#5a55a5"/><stop offset=".857" stop-color="#554792"/><stop offset=".889" stop-color="#3d3367"/><stop offset=".952" stop-color="#2f274e"/><stop offset="1" stop-color="#2d264a"/></linearGradient><linearGradient id="h96" gradientUnits="userSpaceOnUse" x1="406" x2="901" y1="0" y2="0"><stop offset=".000" stop-color="#2e264c"/><stop offset=".519" stop-color="#362d5b"/><stop offset=".665" stop-color="#473b78"/><stop offset=".725" stop-color="#5c4e9f"/><stop offset=".756" stop-color="#466eb1"/><stop offset=".770" stop-color="#358bbc"/><stop offset=".790" stop-color="#6fc5a5"/><stop offset=".800" stop-color="#83cda5"/><stop offset=".810" stop-color="#71c6a5"/><stop offset=".822" stop-color="#469eb4"/><stop offset=".828" stop-color="#3287bd"/><stop offset=".848" stop-color="#5b53a4"/><stop offset=".879" stop-color="#433871"/><stop offset=".929" stop-color="#322a53"/><stop offset="1" stop-color="#2d264a"/></linearGradient><linearGradient id="h97" gradientUnits="userSpaceOnUse" x1="406" x2="901" y1="0" y2="0"><stop offset=".000" stop-color="#2d264c"/><stop offset=".525" stop-color="#362d5b"/><stop offset=".669" stop-color="#463b78"/><stop offset=".727" stop-color="#5b4d9d"/><stop offset=".754" stop-color="#4c66ad"/><stop offset=".772" stop-color="#348abc"/><stop offset=".792" stop-color="#6cc4a5"/><stop offset=".802" stop-color="#7fcca5"/><stop offset=".812" stop-color="#6dc5a5"/><stop offset=".828" stop-color="#358cbc"/><stop offset=".848" stop-color="#5955a5"/><stop offset=".857" stop-color="#574996"/><stop offset=".887" stop-color="#3f356a"/><stop offset=".943" stop-color="#302850"/><stop offset="1" stop-color="#2d264a"/></linearGradient><linearGradient id="h98" gradientUnits="userSpaceOnUse" x1="406" x2="901" y1="0" y2="0"><stop offset=".000" stop-color="#2d264c"/><stop offset=".529" stop-color="#362d5a"/><stop offset=".673" stop-color="#463b78"/><stop offset=".731" stop-color="#5c4d9e"/><stop offset=".760" stop-color="#486baf"/><stop offset=".774" stop-color="#3288bd"/><stop offset=".796" stop-color="#6ec5a5"/><stop offset=".806" stop-color="#7bcaa5"/><stop offset=".816" stop-color="#63bea7"/><stop offset=".830" stop-color="#338abc"/><stop offset=".851" stop-color="#5a54a4"/><stop offset=".883" stop-color="#423770"/><stop offset=".935" stop-color="#312952"/><stop offset="1" stop-color="#2d264b"/></linearGradient><linearGradient id="h99" gradientUnits="userSpaceOnUse" x1="406" x2="901" y1="0" y2="0"><stop offset=".000" stop-color="#2d264b"/><stop offset=".533" stop-color="#362d5a"/><stop offset=".677" stop-color="#463b77"/><stop offset=".733" stop-color="#5a4c9c"/><stop offset=".749" stop-color="#5659a7"/><stop offset=".776" stop-color="#3485bc"/><stop offset=".788" stop-color="#4ea8b0"/><stop offset=".800" stop-color="#6fc5a5"/><stop offset=".810" stop-color="#75c8a5"/><stop offset=".818" stop-color="#61bda7"/><stop offset=".832" stop-color="#3389bc"/><stop offset=".853" stop-color="#5a54a4"/><stop offset=".885" stop-color="#423770"/><stop offset=".937" stop-color="#312952"/><stop offset="1" stop-color="#2d264b"/></linearGradient><linearGradient id="h100" gradientUnits="userSpaceOnUse" x1="406" x2="901" y1="0" y2="0"><stop offset=".000" stop-color="#2d264b"/><stop offset=".539" stop-color="#362d5a"/><stop offset=".681" stop-color="#463b77"/><stop offset=".737" stop-color="#5a4c9b"/><stop offset=".754" stop-color="#5659a7"/><stop offset=".780" stop-color="#3386bc"/><stop offset=".802" stop-color="#6ac3a5"/><stop offset=".812" stop-color="#73c7a5"/><stop offset=".820" stop-color="#61bda7"/><stop offset=".834" stop-color="#348abc"/><stop offset=".857" stop-color="#5d50a3"/><stop offset=".885" stop-color="#433872"/><stop offset=".935" stop-color="#322a53"/><stop offset="1" stop-color="#2d264b"/></linearGradient><linearGradient id="h101" gradientUnits="userSpaceOnUse" x1="406" x2="901" y1="0" y2="0"><stop offset=".000" stop-color="#2d264b"/><stop offset=".543" stop-color="#352d5a"/><stop offset=".685" stop-color="#453a76"/><stop offset=".741" stop-color="#5a4c9c"/><stop offset=".758" stop-color="#5659a7"/><stop offset=".784" stop-color="#3288bd"/><stop offset=".806" stop-color="#6ac3a5"/><stop offset=".816" stop-color="#6ec5a5"/><stop offset=".826" stop-color="#55afad"/><stop offset=".836" stop-color="#348abc"/><stop offset=".859" stop-color="#5d51a3"/><stop offset=".887" stop-color="#433872"/><stop offset=".937" stop-color="#322a53"/><stop offset="1" stop-color="#2d264b"/></linearGradient><linearGradient id="h102" gradientUnits="userSpaceOnUse" x1="406" x2="901" y1="0" y2="0"><stop offset=".000" stop-color="#2d264b"/><stop offset=".547" stop-color="#352d59"/><stop offset=".687" stop-color="#453a75"/><stop offset=".743" stop-color="#594b9a"/><stop offset=".760" stop-color="#5758a6"/><stop offset=".786" stop-color="#3386bc"/><stop offset=".808" stop-color="#67c2a5"/><stop offset=".818" stop-color="#6bc4a5"/><stop offset=".828" stop-color="#54adae"/><stop offset=".838" stop-color="#3389bc"/><stop offset=".861" stop-color="#5d50a3"/><stop offset=".887" stop-color="#443974"/><stop offset=".935" stop-color="#322a54"/><stop offset="1" stop-color="#2d264b"/></linearGradient><linearGradient id="h103" gradientUnits="userSpaceOnUse" x1="406" x2="902" y1="0" y2="0"><stop offset=".000" stop-color="#2d264b"/><stop offset=".552" stop-color="#352d59"/><stop offset=".692" stop-color="#453a76"/><stop offset=".746" stop-color="#5a4b9b"/><stop offset=".760" stop-color="#5857a6"/><stop offset=".786" stop-color="#3584bb"/><stop offset=".794" stop-color="#439bb5"/><stop offset=".810" stop-color="#67c2a5"/><stop offset=".821" stop-color="#65c1a5"/><stop offset=".839" stop-color="#3288bd"/><stop offset=".861" stop-color="#5e4fa2"/><stop offset=".887" stop-color="#443973"/><stop offset=".935" stop-color="#322a54"/><stop offset="1" stop-color="#2d264b"/></linearGradient><linearGradient id="h104" gradientUnits="userSpaceOnUse" x1="406" x2="902" y1="0" y2="0"><stop offset=".000" stop-color="#2d264b"/><stop offset=".556" stop-color="#352d59"/><stop offset=".694" stop-color="#453a75"/><stop offset=".748" stop-color="#594b99"/><stop offset=".762" stop-color="#5956a5"/><stop offset=".788" stop-color="#3683bb"/><stop offset=".792" stop-color="#378ebb"/><stop offset=".812" stop-color="#65c1a5"/><stop offset=".823" stop-color="#63bfa6"/><stop offset=".841" stop-color="#3387bc"/><stop offset=".863" stop-color="#5e4fa2"/><stop offset=".889" stop-color="#443973"/><stop offset=".938" stop-color="#322a54"/><stop offset="1" stop-color="#2d264b"/></linearGradient><linearGradient id="h105" gradientUnits="userSpaceOnUse" x1="406" x2="903" y1="0" y2="0"><stop offset=".000" stop-color="#2d264b"/><stop offset=".559" stop-color="#352c59"/><stop offset=".696" stop-color="#443a75"/><stop offset=".748" stop-color="#584a98"/><stop offset=".761" stop-color="#5b53a4"/><stop offset=".787" stop-color="#3b7db8"/><stop offset=".793" stop-color="#368cbb"/><stop offset=".813" stop-color="#63bfa6"/><stop offset=".823" stop-color="#61bda7"/><stop offset=".841" stop-color="#3585bb"/><stop offset=".863" stop-color="#5d4ea0"/><stop offset=".889" stop-color="#433872"/><stop offset=".940" stop-color="#322a53"/><stop offset="1" stop-color="#2d264b"/></linearGradient><linearGradient id="h106" gradientUnits="userSpaceOnUse" x1="406" x2="905" y1="0" y2="0"><stop offset=".000" stop-color="#2d264b"/><stop offset=".563" stop-color="#352c58"/><stop offset=".697" stop-color="#443974"/><stop offset=".749" stop-color="#594b99"/><stop offset=".764" stop-color="#5856a5"/><stop offset=".790" stop-color="#3486bc"/><stop offset=".812" stop-color="#62bda7"/><stop offset=".822" stop-color="#5fbaa8"/><stop offset=".838" stop-color="#3389bd"/><stop offset=".860" stop-color="#5d50a2"/><stop offset=".886" stop-color="#443973"/><stop offset=".934" stop-color="#322a54"/><stop offset="1" stop-color="#2d264b"/></linearGradient><linearGradient id="h107" gradientUnits="userSpaceOnUse" x1="406" x2="906" y1="0" y2="0"><stop offset=".000" stop-color="#2d264b"/><stop offset=".568" stop-color="#342c58"/><stop offset=".700" stop-color="#443974"/><stop offset=".750" stop-color="#584a97"/><stop offset=".762" stop-color="#5b53a4"/><stop offset=".788" stop-color="#3880b9"/><stop offset=".794" stop-color="#3990ba"/><stop offset=".812" stop-color="#60bba8"/><stop offset=".822" stop-color="#5cb7aa"/><stop offset=".838" stop-color="#3485bc"/><stop offset=".860" stop-color="#5d4ea0"/><stop offset=".884" stop-color="#443974"/><stop offset=".932" stop-color="#322a54"/><stop offset="1" stop-color="#2d264b"/></linearGradient><linearGradient id="h108" gradientUnits="userSpaceOnUse" x1="406" x2="909" y1="0" y2="0"><stop offset=".000" stop-color="#2d264b"/><stop offset=".573" stop-color="#342c58"/><stop offset=".700" stop-color="#433973"/><stop offset=".750" stop-color="#584a97"/><stop offset=".761" stop-color="#5a54a4"/><stop offset=".785" stop-color="#397eb8"/><stop offset=".789" stop-color="#3389bd"/><stop offset=".809" stop-color="#5fbaa8"/><stop offset=".819" stop-color="#59b4ab"/><stop offset=".833" stop-color="#3288bd"/><stop offset=".855" stop-color="#5d4ea1"/><stop offset=".879" stop-color="#443974"/><stop offset=".924" stop-color="#332b55"/><stop offset="1" stop-color="#2d264a"/></linearGradient><linearGradient id="h109" gradientUnits="userSpaceOnUse" x1="406" x2="911" y1="0" y2="0"><stop offset=".000" stop-color="#2d264a"/><stop offset=".576" stop-color="#342c57"/><stop offset=".701" stop-color="#433872"/><stop offset=".749" stop-color="#564995"/><stop offset=".762" stop-color="#5a54a5"/><stop offset=".786" stop-color="#3682ba"/><stop offset=".790" stop-color="#378ebb"/><stop offset=".806" stop-color="#5bb6aa"/><stop offset=".816" stop-color="#59b4ab"/><stop offset=".830" stop-color="#3389bc"/><stop offset=".851" stop-color="#5e4fa1"/><stop offset=".875" stop-color="#443974"/><stop offset=".921" stop-color="#322a54"/><stop offset="1" stop-color="#2d264a"/></linearGradient><linearGradient id="h110" gradientUnits="userSpaceOnUse" x1="406" x2="914" y1="0" y2="0"><stop offset=".000" stop-color="#2d264a"/><stop offset=".581" stop-color="#342b57"/><stop offset=".701" stop-color="#423870"/><stop offset=".748" stop-color="#574995"/><stop offset=".760" stop-color="#5b53a4"/><stop offset=".783" stop-color="#3781ba"/><stop offset=".787" stop-color="#368dbb"/><stop offset=".803" stop-color="#5ab4ab"/><stop offset=".813" stop-color="#56b0ad"/><stop offset=".825" stop-color="#348bbc"/><stop offset=".846" stop-color="#5e4fa1"/><stop offset=".870" stop-color="#443973"/><stop offset=".915" stop-color="#322a54"/><stop offset="1" stop-color="#2d254a"/></linearGradient><linearGradient id="h111" gradientUnits="userSpaceOnUse" x1="406" x2="917" y1="0" y2="0"><stop offset=".000" stop-color="#2d264a"/><stop offset=".585" stop-color="#332b56"/><stop offset=".703" stop-color="#423870"/><stop offset=".746" stop-color="#554892"/><stop offset=".759" stop-color="#5a54a4"/><stop offset=".783" stop-color="#3486bc"/><stop offset=".800" stop-color="#58b2ac"/><stop offset=".810" stop-color="#51abaf"/><stop offset=".822" stop-color="#3584bb"/><stop offset=".841" stop-color="#5d4ea0"/><stop offset=".863" stop-color="#443974"/><stop offset=".904" stop-color="#332b55"/><stop offset="1" stop-color="#2c254a"/></linearGradient><linearGradient id="h112" gradientUnits="userSpaceOnUse" x1="406" x2="921" y1="0" y2="0"><stop offset=".000" stop-color="#2d264a"/><stop offset=".588" stop-color="#332b56"/><stop offset=".701" stop-color="#42376f"/><stop offset=".744" stop-color="#554893"/><stop offset=".755" stop-color="#5b52a4"/><stop offset=".779" stop-color="#3485bc"/><stop offset=".794" stop-color="#54adad"/><stop offset=".804" stop-color="#50a9af"/><stop offset=".814" stop-color="#358bbc"/><stop offset=".833" stop-color="#5c51a3"/><stop offset=".856" stop-color="#443973"/><stop offset=".899" stop-color="#322a54"/><stop offset="1" stop-color="#2c254a"/></linearGradient><linearGradient id="h113" gradientUnits="userSpaceOnUse" x1="406" x2="925" y1="0" y2="0"><stop offset=".000" stop-color="#2d254a"/><stop offset=".590" stop-color="#332b56"/><stop offset=".699" stop-color="#41376f"/><stop offset=".740" stop-color="#544791"/><stop offset=".751" stop-color="#5c51a3"/><stop offset=".773" stop-color="#397fb9"/><stop offset=".776" stop-color="#348abc"/><stop offset=".790" stop-color="#51abaf"/><stop offset=".800" stop-color="#4aa3b2"/><stop offset=".807" stop-color="#348abc"/><stop offset=".827" stop-color="#5d51a3"/><stop offset=".850" stop-color="#433872"/><stop offset=".892" stop-color="#322a54"/><stop offset="1" stop-color="#2c2549"/></linearGradient><linearGradient id="h114" gradientUnits="userSpaceOnUse" x1="406" x2="929" y1="0" y2="0"><stop offset=".000" stop-color="#2d254a"/><stop offset=".591" stop-color="#332b55"/><stop offset=".698" stop-color="#41376f"/><stop offset=".736" stop-color="#54468f"/><stop offset=".750" stop-color="#5b53a4"/><stop offset=".772" stop-color="#348abc"/><stop offset=".786" stop-color="#4fa8b0"/><stop offset=".795" stop-color="#459db4"/><stop offset=".801" stop-color="#348abc"/><stop offset=".820" stop-color="#5d50a3"/><stop offset=".841" stop-color="#443974"/><stop offset=".880" stop-color="#332b55"/><stop offset=".992" stop-color="#2c2549"/><stop offset="1" stop-color="#2c2549"/></linearGradient><linearGradient id="h115" gradientUnits="userSpaceOnUse" x1="406" x2="934" y1="0" y2="0"><stop offset=".000" stop-color="#2d254a"/><stop offset=".587" stop-color="#332b55"/><stop offset=".693" stop-color="#41376e"/><stop offset=".731" stop-color="#544690"/><stop offset=".744" stop-color="#5a54a4"/><stop offset=".767" stop-color="#358cbb"/><stop offset=".778" stop-color="#4ca5b1"/><stop offset=".788" stop-color="#449cb5"/><stop offset=".795" stop-color="#3584bb"/><stop offset=".812" stop-color="#5d51a3"/><stop offset=".835" stop-color="#433872"/><stop offset=".875" stop-color="#322a54"/><stop offset="1" stop-color="#2c2549"/></linearGradient><linearGradient id="h116" gradientUnits="userSpaceOnUse" x1="406" x2="939" y1="0" y2="0"><stop offset=".000" stop-color="#2d254a"/><stop offset=".578" stop-color="#332b55"/><stop offset=".685" stop-color="#41376e"/><stop offset=".724" stop-color="#544690"/><stop offset=".737" stop-color="#5b53a4"/><stop offset=".760" stop-color="#3389bd"/><stop offset=".773" stop-color="#4ca5b1"/><stop offset=".782" stop-color="#4098b6"/><stop offset=".788" stop-color="#3485bc"/><stop offset=".807" stop-color="#5d4ea0"/><stop offset=".827" stop-color="#433872"/><stop offset=".867" stop-color="#322a54"/><stop offset=".994" stop-color="#2c2549"/><stop offset="1" stop-color="#2c2549"/></linearGradient><linearGradient id="h117" gradientUnits="userSpaceOnUse" x1="406" x2="943" y1="0" y2="0"><stop offset=".000" stop-color="#2d264a"/><stop offset=".561" stop-color="#342b56"/><stop offset=".676" stop-color="#423870"/><stop offset=".719" stop-color="#564894"/><stop offset=".730" stop-color="#5b53a4"/><stop offset=".752" stop-color="#3584bb"/><stop offset=".767" stop-color="#4ea7b0"/><stop offset=".777" stop-color="#449cb5"/><stop offset=".782" stop-color="#348abc"/><stop offset=".801" stop-color="#5d50a2"/><stop offset=".821" stop-color="#443974"/><stop offset=".858" stop-color="#332b55"/><stop offset=".968" stop-color="#2c2549"/><stop offset="1" stop-color="#2c2549"/></linearGradient><linearGradient id="h118" gradientUnits="userSpaceOnUse" x1="406" x2="947" y1="0" y2="0"><stop offset=".000" stop-color="#2d264b"/><stop offset=".538" stop-color="#342c58"/><stop offset=".662" stop-color="#433973"/><stop offset=".710" stop-color="#584a97"/><stop offset=".721" stop-color="#5b53a4"/><stop offset=".743" stop-color="#3880b9"/><stop offset=".747" stop-color="#358cbc"/><stop offset=".762" stop-color="#57b1ac"/><stop offset=".771" stop-color="#4ea8b0"/><stop offset=".780" stop-color="#3486bc"/><stop offset=".797" stop-color="#5c51a3"/><stop offset=".819" stop-color="#433972"/><stop offset=".858" stop-color="#322a54"/><stop offset=".983" stop-color="#2c2549"/><stop offset="1" stop-color="#2c2549"/></linearGradient><linearGradient id="h119" gradientUnits="userSpaceOnUse" x1="406" x2="950" y1="0" y2="0"><stop offset=".000" stop-color="#2d264b"/><stop offset=".517" stop-color="#352d59"/><stop offset=".651" stop-color="#453a76"/><stop offset=".702" stop-color="#594b99"/><stop offset=".715" stop-color="#5955a5"/><stop offset=".735" stop-color="#3b7db8"/><stop offset=".739" stop-color="#3288bd"/><stop offset=".756" stop-color="#62bea7"/><stop offset=".765" stop-color="#62bea7"/><stop offset=".779" stop-color="#338abc"/><stop offset=".798" stop-color="#5d50a3"/><stop offset=".820" stop-color="#443974"/><stop offset=".860" stop-color="#332b55"/><stop offset=".983" stop-color="#2c254a"/><stop offset="1" stop-color="#2c2549"/></linearGradient><linearGradient id="h120" gradientUnits="userSpaceOnUse" x1="409" x2="953" y1="0" y2="0"><stop offset=".000" stop-color="#2e264c"/><stop offset=".487" stop-color="#362e5b"/><stop offset=".631" stop-color="#483c7a"/><stop offset=".693" stop-color="#5d4ea0"/><stop offset=".719" stop-color="#486cb0"/><stop offset=".730" stop-color="#348abc"/><stop offset=".744" stop-color="#72c7a5"/><stop offset=".752" stop-color="#8cd1a4"/><stop offset=".761" stop-color="#89d0a4"/><stop offset=".772" stop-color="#5db8a9"/><stop offset=".783" stop-color="#3387bd"/><stop offset=".801" stop-color="#5c52a3"/><stop offset=".829" stop-color="#433871"/><stop offset=".877" stop-color="#322a53"/><stop offset="1" stop-color="#2c254a"/></linearGradient><linearGradient id="h121" gradientUnits="userSpaceOnUse" x1="414" x2="955" y1="0" y2="0"><stop offset=".000" stop-color="#2e274d"/><stop offset=".462" stop-color="#372e5d"/><stop offset=".608" stop-color="#493d7d"/><stop offset=".682" stop-color="#5b53a4"/><stop offset=".712" stop-color="#4175b4"/><stop offset=".719" stop-color="#3288bd"/><stop offset=".732" stop-color="#67c2a5"/><stop offset=".747" stop-color="#cfec9d"/><stop offset=".754" stop-color="#d2ed9c"/><stop offset=".762" stop-color="#b0dfa3"/><stop offset=".776" stop-color="#5cb7a9"/><stop offset=".787" stop-color="#3485bc"/><stop offset=".806" stop-color="#5b53a4"/><stop offset=".837" stop-color="#423871"/><stop offset=".889" stop-color="#312a53"/><stop offset="1" stop-color="#2d254a"/></linearGradient><linearGradient id="h122" gradientUnits="userSpaceOnUse" x1="419" x2="956" y1="0" y2="0"><stop offset=".000" stop-color="#2e274d"/><stop offset=".449" stop-color="#382f5e"/><stop offset=".598" stop-color="#4a3e7f"/><stop offset=".670" stop-color="#5b53a4"/><stop offset=".704" stop-color="#4373b3"/><stop offset=".713" stop-color="#3288bd"/><stop offset=".724" stop-color="#5db8a9"/><stop offset=".734" stop-color="#a7dba4"/><stop offset=".739" stop-color="#e9f69d"/><stop offset=".745" stop-color="#f7fcb3"/><stop offset=".754" stop-color="#f4faad"/><stop offset=".760" stop-color="#e6f599"/><stop offset=".769" stop-color="#9bd7a4"/><stop offset=".778" stop-color="#61bca7"/><stop offset=".790" stop-color="#348abc"/><stop offset=".810" stop-color="#5a54a4"/><stop offset=".819" stop-color="#564894"/><stop offset=".851" stop-color="#3f356a"/><stop offset=".912" stop-color="#302850"/><stop offset="1" stop-color="#2d264a"/></linearGradient><linearGradient id="h123" gradientUnits="userSpaceOnUse" x1="425" x2="957" y1="0" y2="0"><stop offset=".000" stop-color="#2e274d"/><stop offset=".440" stop-color="#382f5f"/><stop offset=".588" stop-color="#4b3f7f"/><stop offset=".662" stop-color="#5b53a4"/><stop offset=".697" stop-color="#4372b3"/><stop offset=".709" stop-color="#358bbc"/><stop offset=".720" stop-color="#63bfa6"/><stop offset=".727" stop-color="#a5daa4"/><stop offset=".731" stop-color="#dff299"/><stop offset=".735" stop-color="#fafdb8"/><stop offset=".737" stop-color="#fffab7"/><stop offset=".741" stop-color="#feefa4"/><stop offset=".750" stop-color="#fff1a8"/><stop offset=".756" stop-color="#ffffbe"/><stop offset=".763" stop-color="#e4f498"/><stop offset=".769" stop-color="#a9dca4"/><stop offset=".782" stop-color="#5ab4ab"/><stop offset=".793" stop-color="#3386bc"/><stop offset=".814" stop-color="#5a54a5"/><stop offset=".823" stop-color="#574995"/><stop offset=".857" stop-color="#3f356b"/><stop offset=".923" stop-color="#302850"/><stop offset="1" stop-color="#2d264b"/></linearGradient><linearGradient id="h124" gradientUnits="userSpaceOnUse" x1="430" x2="958" y1="0" y2="0"><stop offset=".000" stop-color="#2f274d"/><stop offset=".434" stop-color="#382f5f"/><stop offset=".583" stop-color="#4b3f80"/><stop offset=".655" stop-color="#5b53a4"/><stop offset=".693" stop-color="#4273b3"/><stop offset=".703" stop-color="#3387bd"/><stop offset=".714" stop-color="#5bb6aa"/><stop offset=".722" stop-color="#98d6a4"/><stop offset=".723" stop-color="#acdea4"/><stop offset=".725" stop-color="#cfec9d"/><stop offset=".727" stop-color="#ebf7a0"/><stop offset=".729" stop-color="#f9fdb5"/><stop offset=".731" stop-color="#fff8b2"/><stop offset=".735" stop-color="#fee28e"/><stop offset=".741" stop-color="#fed683"/><stop offset=".750" stop-color="#fee390"/><stop offset=".758" stop-color="#fffcba"/><stop offset=".761" stop-color="#f3faac"/><stop offset=".765" stop-color="#dcf19a"/><stop offset=".771" stop-color="#a3daa4"/><stop offset=".782" stop-color="#5fbaa8"/><stop offset=".795" stop-color="#3486bc"/><stop offset=".818" stop-color="#5b53a4"/><stop offset=".856" stop-color="#423770"/><stop offset=".919" stop-color="#312952"/><stop offset="1" stop-color="#2d264b"/></linearGradient><linearGradient id="h125" gradientUnits="userSpaceOnUse" x1="435" x2="959" y1="0" y2="0"><stop offset=".000" stop-color="#2f274e"/><stop offset=".429" stop-color="#39305f"/><stop offset=".578" stop-color="#4b3f81"/><stop offset=".651" stop-color="#5b53a4"/><stop offset=".689" stop-color="#4274b3"/><stop offset=".698" stop-color="#3288bd"/><stop offset=".710" stop-color="#5cb6aa"/><stop offset=".716" stop-color="#87cfa5"/><stop offset=".719" stop-color="#b0dfa3"/><stop offset=".721" stop-color="#d4ee9c"/><stop offset=".723" stop-color="#eef8a4"/><stop offset=".725" stop-color="#fdfebb"/><stop offset=".731" stop-color="#fed380"/><stop offset=".735" stop-color="#fdc271"/><stop offset=".744" stop-color="#fdc675"/><stop offset=".752" stop-color="#fee28e"/><stop offset=".758" stop-color="#fffab6"/><stop offset=".760" stop-color="#fcfeba"/><stop offset=".763" stop-color="#ebf79f"/><stop offset=".767" stop-color="#c7e89e"/><stop offset=".771" stop-color="#a3daa4"/><stop offset=".782" stop-color="#60bba8"/><stop offset=".796" stop-color="#3288bd"/><stop offset=".819" stop-color="#5955a5"/><stop offset=".828" stop-color="#584a98"/><stop offset=".865" stop-color="#40366c"/><stop offset=".933" stop-color="#302951"/><stop offset="1" stop-color="#2d264b"/></linearGradient><linearGradient id="h126" gradientUnits="userSpaceOnUse" x1="441" x2="959" y1="0" y2="0"><stop offset=".000" stop-color="#2f274e"/><stop offset=".429" stop-color="#393060"/><stop offset=".575" stop-color="#4b3f81"/><stop offset=".647" stop-color="#5b53a4"/><stop offset=".685" stop-color="#4174b4"/><stop offset=".695" stop-color="#3288bd"/><stop offset=".707" stop-color="#5cb7aa"/><stop offset=".712" stop-color="#87cfa5"/><stop offset=".716" stop-color="#afdfa3"/><stop offset=".718" stop-color="#d4ee9c"/><stop offset=".720" stop-color="#eef8a5"/><stop offset=".722" stop-color="#fefebd"/><stop offset=".726" stop-color="#fede8a"/><stop offset=".730" stop-color="#fdbb6c"/><stop offset=".736" stop-color="#fdae61"/><stop offset=".745" stop-color="#fdba6b"/><stop offset=".753" stop-color="#fedf8a"/><stop offset=".759" stop-color="#fffab6"/><stop offset=".761" stop-color="#fbfdb9"/><stop offset=".764" stop-color="#eaf69e"/><stop offset=".772" stop-color="#a1d9a4"/><stop offset=".784" stop-color="#60bba8"/><stop offset=".797" stop-color="#3389bc"/><stop offset=".822" stop-color="#5a54a5"/><stop offset=".832" stop-color="#584a97"/><stop offset=".871" stop-color="#3f356b"/><stop offset=".944" stop-color="#302951"/><stop offset="1" stop-color="#2e264c"/></linearGradient><linearGradient id="h127" gradientUnits="userSpaceOnUse" x1="446" x2="959" y1="0" y2="0"><stop offset=".000" stop-color="#2f274e"/><stop offset=".427" stop-color="#393060"/><stop offset=".573" stop-color="#4b3f81"/><stop offset=".643" stop-color="#5b53a4"/><stop offset=".682" stop-color="#4175b4"/><stop offset=".692" stop-color="#3389bd"/><stop offset=".704" stop-color="#5cb7aa"/><stop offset=".712" stop-color="#99d6a4"/><stop offset=".713" stop-color="#aedea3"/><stop offset=".715" stop-color="#d2ed9c"/><stop offset=".717" stop-color="#edf8a4"/><stop offset=".719" stop-color="#fdfebc"/><stop offset=".725" stop-color="#fdc574"/><stop offset=".729" stop-color="#fcaa5f"/><stop offset=".741" stop-color="#fca75e"/><stop offset=".749" stop-color="#fdbc6d"/><stop offset=".756" stop-color="#fee899"/><stop offset=".760" stop-color="#fffcba"/><stop offset=".764" stop-color="#f0f9a8"/><stop offset=".766" stop-color="#e8f69a"/><stop offset=".772" stop-color="#abdda4"/><stop offset=".786" stop-color="#5fbaa8"/><stop offset=".799" stop-color="#348abc"/><stop offset=".825" stop-color="#5956a5"/><stop offset=".834" stop-color="#594b99"/><stop offset=".873" stop-color="#40366d"/><stop offset=".945" stop-color="#312952"/><stop offset="1" stop-color="#2e274c"/></linearGradient><linearGradient id="h128" gradientUnits="userSpaceOnUse" x1="451" x2="960" y1="0" y2="0"><stop offset=".000" stop-color="#2f274e"/><stop offset=".426" stop-color="#39305f"/><stop offset=".570" stop-color="#4b3f80"/><stop offset=".639" stop-color="#5b52a4"/><stop offset=".678" stop-color="#4075b4"/><stop offset=".688" stop-color="#348abc"/><stop offset=".699" stop-color="#5db8a9"/><stop offset=".707" stop-color="#99d6a4"/><stop offset=".709" stop-color="#aedea3"/><stop offset=".711" stop-color="#d1ed9c"/><stop offset=".713" stop-color="#edf8a3"/><stop offset=".715" stop-color="#fdfebc"/><stop offset=".721" stop-color="#fdc272"/><stop offset=".723" stop-color="#fdae61"/><stop offset=".729" stop-color="#fa9c58"/><stop offset=".743" stop-color="#fca55d"/><stop offset=".749" stop-color="#fdba6b"/><stop offset=".756" stop-color="#feea9c"/><stop offset=".760" stop-color="#ffffbf"/><stop offset=".766" stop-color="#e3f499"/><stop offset=".772" stop-color="#a7dba4"/><stop offset=".786" stop-color="#5eb9a9"/><stop offset=".800" stop-color="#348abc"/><stop offset=".827" stop-color="#5a54a4"/><stop offset=".837" stop-color="#584a98"/><stop offset=".878" stop-color="#40356c"/><stop offset=".955" stop-color="#302951"/><stop offset="1" stop-color="#2e274d"/></linearGradient><linearGradient id="h129" gradientUnits="userSpaceOnUse" x1="456" x2="960" y1="0" y2="0"><stop offset=".000" stop-color="#2f274e"/><stop offset=".425" stop-color="#382f5f"/><stop offset=".567" stop-color="#4b3f80"/><stop offset=".637" stop-color="#5b53a4"/><stop offset=".675" stop-color="#4076b5"/><stop offset=".685" stop-color="#358cbc"/><stop offset=".696" stop-color="#5fbaa8"/><stop offset=".704" stop-color="#9ad7a4"/><stop offset=".706" stop-color="#b0dfa3"/><stop offset=".708" stop-color="#d3ed9c"/><stop offset=".710" stop-color="#edf8a4"/><stop offset=".712" stop-color="#fdfebc"/><stop offset=".716" stop-color="#fed985"/><stop offset=".720" stop-color="#fdab60"/><stop offset=".726" stop-color="#f99455"/><stop offset=".740" stop-color="#fa9957"/><stop offset=".748" stop-color="#fdae61"/><stop offset=".756" stop-color="#fee390"/><stop offset=".760" stop-color="#fff8b2"/><stop offset=".762" stop-color="#fcfebb"/><stop offset=".766" stop-color="#ebf79f"/><stop offset=".770" stop-color="#c7e89e"/><stop offset=".776" stop-color="#98d5a4"/><stop offset=".788" stop-color="#5db7a9"/><stop offset=".802" stop-color="#348abc"/><stop offset=".829" stop-color="#5955a5"/><stop offset=".841" stop-color="#574996"/><stop offset=".885" stop-color="#3f356a"/><stop offset=".966" stop-color="#302850"/><stop offset="1" stop-color="#2e274d"/></linearGradient><linearGradient id="h130" gradientUnits="userSpaceOnUse" x1="462" x2="960" y1="0" y2="0"><stop offset=".000" stop-color="#2f274d"/><stop offset=".424" stop-color="#382f5f"/><stop offset=".564" stop-color="#4a3f7f"/><stop offset=".633" stop-color="#5b53a4"/><stop offset=".671" stop-color="#3f78b5"/><stop offset=".679" stop-color="#3288bd"/><stop offset=".693" stop-color="#61bca7"/><stop offset=".701" stop-color="#9dd8a4"/><stop offset=".703" stop-color="#b4e1a2"/><stop offset=".705" stop-color="#d7ef9b"/><stop offset=".707" stop-color="#eff9a6"/><stop offset=".709" stop-color="#ffffbe"/><stop offset=".715" stop-color="#fdbb6c"/><stop offset=".719" stop-color="#fa9a58"/><stop offset=".725" stop-color="#f8884f"/><stop offset=".739" stop-color="#f98f53"/><stop offset=".749" stop-color="#fdad61"/><stop offset=".757" stop-color="#fee594"/><stop offset=".761" stop-color="#fffab7"/><stop offset=".763" stop-color="#fafdb7"/><stop offset=".767" stop-color="#e8f69b"/><stop offset=".773" stop-color="#acdda4"/><stop offset=".787" stop-color="#62bea7"/><stop offset=".803" stop-color="#348abc"/><stop offset=".831" stop-color="#5956a5"/><stop offset=".841" stop-color="#5a4b9b"/><stop offset=".884" stop-color="#41366e"/><stop offset=".962" stop-color="#312952"/><stop offset="1" stop-color="#2f274e"/></linearGradient><linearGradient id="h131" gradientUnits="userSpaceOnUse" x1="467" x2="961" y1="0" y2="0"><stop offset=".000" stop-color="#2f274d"/><stop offset=".423" stop-color="#382f5f"/><stop offset=".563" stop-color="#4b3f80"/><stop offset=".628" stop-color="#5b53a4"/><stop offset=".664" stop-color="#4076b4"/><stop offset=".674" stop-color="#348abc"/><stop offset=".688" stop-color="#63bfa6"/><stop offset=".696" stop-color="#a0d9a4"/><stop offset=".698" stop-color="#b8e2a1"/><stop offset=".700" stop-color="#daf09a"/><stop offset=".704" stop-color="#fffebd"/><stop offset=".711" stop-color="#fdb668"/><stop offset=".717" stop-color="#f88a51"/><stop offset=".725" stop-color="#f67b4a"/><stop offset=".739" stop-color="#f88950"/><stop offset=".749" stop-color="#fdac60"/><stop offset=".757" stop-color="#fee796"/><stop offset=".761" stop-color="#fffdbb"/><stop offset=".767" stop-color="#e6f598"/><stop offset=".773" stop-color="#a9dca4"/><stop offset=".787" stop-color="#61bda7"/><stop offset=".804" stop-color="#348abc"/><stop offset=".834" stop-color="#5a54a4"/><stop offset=".848" stop-color="#564893"/><stop offset=".897" stop-color="#3d3468"/><stop offset=".988" stop-color="#30284f"/><stop offset="1" stop-color="#2f284e"/></linearGradient><linearGradient id="h132" gradientUnits="userSpaceOnUse" x1="472" x2="961" y1="0" y2="0"><stop offset=".000" stop-color="#2f274d"/><stop offset=".421" stop-color="#382f5f"/><stop offset=".558" stop-color="#4a3f7f"/><stop offset=".624" stop-color="#5b53a4"/><stop offset=".661" stop-color="#3f77b5"/><stop offset=".671" stop-color="#358bbc"/><stop offset=".685" stop-color="#64c0a6"/><stop offset=".693" stop-color="#a0d9a4"/><stop offset=".697" stop-color="#daf09a"/><stop offset=".701" stop-color="#fffebd"/><stop offset=".706" stop-color="#fed17f"/><stop offset=".708" stop-color="#fdb466"/><stop offset=".714" stop-color="#f7854e"/><stop offset=".720" stop-color="#f57145"/><stop offset=".734" stop-color="#f57647"/><stop offset=".746" stop-color="#fa9957"/><stop offset=".753" stop-color="#fdb96a"/><stop offset=".761" stop-color="#fff3ab"/><stop offset=".763" stop-color="#fffebd"/><stop offset=".769" stop-color="#e3f499"/><stop offset=".775" stop-color="#a8dca4"/><stop offset=".789" stop-color="#61bda7"/><stop offset=".808" stop-color="#3486bc"/><stop offset=".838" stop-color="#5b53a4"/><stop offset=".890" stop-color="#41376f"/><stop offset=".969" stop-color="#322a53"/><stop offset="1" stop-color="#2f284f"/></linearGradient><linearGradient id="h133" gradientUnits="userSpaceOnUse" x1="478" x2="961" y1="0" y2="0"><stop offset=".000" stop-color="#2f274e"/><stop offset=".418" stop-color="#39305f"/><stop offset=".555" stop-color="#4b3f7f"/><stop offset=".619" stop-color="#5b53a4"/><stop offset=".656" stop-color="#3f77b5"/><stop offset=".667" stop-color="#358cbc"/><stop offset=".681" stop-color="#64bfa6"/><stop offset=".689" stop-color="#9ed8a4"/><stop offset=".692" stop-color="#b4e1a2"/><stop offset=".694" stop-color="#d5ee9b"/><stop offset=".696" stop-color="#eef8a4"/><stop offset=".698" stop-color="#fefebd"/><stop offset=".702" stop-color="#fed582"/><stop offset=".704" stop-color="#fdb668"/><stop offset=".710" stop-color="#f7814c"/><stop offset=".716" stop-color="#f16944"/><stop offset=".733" stop-color="#f26b44"/><stop offset=".745" stop-color="#f88d52"/><stop offset=".754" stop-color="#fdb869"/><stop offset=".760" stop-color="#fee898"/><stop offset=".764" stop-color="#ffffbe"/><stop offset=".770" stop-color="#e2f399"/><stop offset=".776" stop-color="#a7dca4"/><stop offset=".791" stop-color="#62bda7"/><stop offset=".810" stop-color="#3387bd"/><stop offset=".843" stop-color="#5c52a3"/><stop offset=".894" stop-color="#42376f"/><stop offset=".977" stop-color="#322a53"/><stop offset="1" stop-color="#302850"/></linearGradient><linearGradient id="h134" gradientUnits="userSpaceOnUse" x1="483" x2="962" y1="0" y2="0"><stop offset=".000" stop-color="#2f274e"/><stop offset=".413" stop-color="#39305f"/><stop offset=".551" stop-color="#4b3f80"/><stop offset=".616" stop-color="#5b53a4"/><stop offset=".653" stop-color="#3d79b6"/><stop offset=".662" stop-color="#348abc"/><stop offset=".676" stop-color="#61bca7"/><stop offset=".685" stop-color="#98d6a4"/><stop offset=".687" stop-color="#aadca4"/><stop offset=".691" stop-color="#e8f69c"/><stop offset=".693" stop-color="#f8fcb4"/><stop offset=".695" stop-color="#fff4ac"/><stop offset=".697" stop-color="#fedf8b"/><stop offset=".701" stop-color="#fca55d"/><stop offset=".708" stop-color="#f57446"/><stop offset=".716" stop-color="#ea5e47"/><stop offset=".735" stop-color="#f06744"/><stop offset=".747" stop-color="#f99254"/><stop offset=".754" stop-color="#fdb466"/><stop offset=".762" stop-color="#fff2a9"/><stop offset=".764" stop-color="#fffdbc"/><stop offset=".770" stop-color="#e4f498"/><stop offset=".777" stop-color="#a9dca4"/><stop offset=".793" stop-color="#5db8a9"/><stop offset=".810" stop-color="#3389bd"/><stop offset=".843" stop-color="#5a54a4"/><stop offset=".860" stop-color="#544791"/><stop offset=".914" stop-color="#3c3366"/><stop offset="1" stop-color="#302951"/></linearGradient><linearGradient id="h135" gradientUnits="userSpaceOnUse" x1="488" x2="962" y1="0" y2="0"><stop offset=".000" stop-color="#2f274e"/><stop offset=".411" stop-color="#393060"/><stop offset=".549" stop-color="#4b3f80"/><stop offset=".612" stop-color="#5b53a4"/><stop offset=".650" stop-color="#3f78b5"/><stop offset=".658" stop-color="#3288bd"/><stop offset=".673" stop-color="#5cb7aa"/><stop offset=".681" stop-color="#8fd2a4"/><stop offset=".686" stop-color="#b6e2a2"/><stop offset=".688" stop-color="#d8ef9b"/><stop offset=".690" stop-color="#eff9a6"/><stop offset=".692" stop-color="#ffffbf"/><stop offset=".696" stop-color="#fed07d"/><stop offset=".698" stop-color="#fdaf62"/><stop offset=".707" stop-color="#f16944"/><stop offset=".715" stop-color="#e45449"/><stop offset=".734" stop-color="#e95d47"/><stop offset=".745" stop-color="#f67949"/><stop offset=".755" stop-color="#fdad61"/><stop offset=".764" stop-color="#feeea2"/><stop offset=".766" stop-color="#fffab6"/><stop offset=".768" stop-color="#fafdb7"/><stop offset=".772" stop-color="#e8f69b"/><stop offset=".778" stop-color="#aedea3"/><stop offset=".795" stop-color="#60bba8"/><stop offset=".814" stop-color="#3387bd"/><stop offset=".848" stop-color="#5b53a4"/><stop offset=".867" stop-color="#53468f"/><stop offset=".924" stop-color="#3c3265"/><stop offset="1" stop-color="#312952"/></linearGradient><linearGradient id="h136" gradientUnits="userSpaceOnUse" x1="493" x2="962" y1="0" y2="0"><stop offset=".000" stop-color="#2f274e"/><stop offset=".409" stop-color="#393060"/><stop offset=".548" stop-color="#4b3f81"/><stop offset=".610" stop-color="#5b53a4"/><stop offset=".648" stop-color="#3e79b6"/><stop offset=".657" stop-color="#3389bd"/><stop offset=".672" stop-color="#5fbaa8"/><stop offset=".680" stop-color="#93d4a4"/><stop offset=".682" stop-color="#a4daa4"/><stop offset=".687" stop-color="#e2f399"/><stop offset=".689" stop-color="#f4fbad"/><stop offset=".691" stop-color="#fff9b5"/><stop offset=".693" stop-color="#fee492"/><stop offset=".697" stop-color="#fca75e"/><stop offset=".704" stop-color="#f46d43"/><stop offset=".712" stop-color="#df4e4b"/><stop offset=".731" stop-color="#e04f4b"/><stop offset=".746" stop-color="#f57145"/><stop offset=".759" stop-color="#fdb567"/><stop offset=".765" stop-color="#fee999"/><stop offset=".770" stop-color="#feffbe"/><stop offset=".776" stop-color="#dff299"/><stop offset=".783" stop-color="#a7dba4"/><stop offset=".800" stop-color="#5db8a9"/><stop offset=".819" stop-color="#3486bc"/><stop offset=".855" stop-color="#5c51a3"/><stop offset=".908" stop-color="#423870"/><stop offset=".996" stop-color="#322a54"/><stop offset="1" stop-color="#322a53"/></linearGradient><linearGradient id="h137" gradientUnits="userSpaceOnUse" x1="499" x2="962" y1="0" y2="0"><stop offset=".000" stop-color="#2f274e"/><stop offset=".408" stop-color="#393060"/><stop offset=".546" stop-color="#4c4081"/><stop offset=".607" stop-color="#5b53a4"/><stop offset=".646" stop-color="#3e79b6"/><stop offset=".654" stop-color="#348abc"/><stop offset=".670" stop-color="#60bca8"/><stop offset=".678" stop-color="#96d5a4"/><stop offset=".680" stop-color="#a8dca4"/><stop offset=".685" stop-color="#e7f59a"/><stop offset=".687" stop-color="#f7fcb2"/><stop offset=".689" stop-color="#fff4ad"/><stop offset=".691" stop-color="#fedf8a"/><stop offset=".693" stop-color="#fdbc6d"/><stop offset=".698" stop-color="#f88b51"/><stop offset=".702" stop-color="#f06745"/><stop offset=".711" stop-color="#da454d"/><stop offset=".728" stop-color="#d8434e"/><stop offset=".745" stop-color="#ee6345"/><stop offset=".754" stop-color="#f88950"/><stop offset=".760" stop-color="#fdac60"/><stop offset=".769" stop-color="#feefa4"/><stop offset=".771" stop-color="#fffab7"/><stop offset=".773" stop-color="#f9fdb6"/><stop offset=".778" stop-color="#e7f69a"/><stop offset=".784" stop-color="#addea4"/><stop offset=".801" stop-color="#61bca8"/><stop offset=".821" stop-color="#3389bd"/><stop offset=".857" stop-color="#5b53a4"/><stop offset=".916" stop-color="#42376f"/><stop offset="1" stop-color="#322a54"/></linearGradient><linearGradient id="h138" gradientUnits="userSpaceOnUse" x1="504" x2="963" y1="0" y2="0"><stop offset=".000" stop-color="#2f274e"/><stop offset=".405" stop-color="#393060"/><stop offset=".542" stop-color="#4b3f81"/><stop offset=".603" stop-color="#5b52a4"/><stop offset=".643" stop-color="#3d79b6"/><stop offset=".651" stop-color="#348abc"/><stop offset=".667" stop-color="#61bda7"/><stop offset=".678" stop-color="#aadda4"/><stop offset=".682" stop-color="#eaf69e"/><stop offset=".684" stop-color="#fafdb6"/><stop offset=".686" stop-color="#fff1a7"/><stop offset=".688" stop-color="#fed885"/><stop offset=".691" stop-color="#fdb567"/><stop offset=".697" stop-color="#f47044"/><stop offset=".706" stop-color="#d8434e"/><stop offset=".717" stop-color="#cc344d"/><stop offset=".734" stop-color="#d8434e"/><stop offset=".749" stop-color="#f36c43"/><stop offset=".763" stop-color="#fdb667"/><stop offset=".769" stop-color="#feea9b"/><stop offset=".773" stop-color="#fdfebc"/><stop offset=".778" stop-color="#ebf7a0"/><stop offset=".780" stop-color="#ddf19a"/><stop offset=".786" stop-color="#a6dba4"/><stop offset=".804" stop-color="#5eb9a9"/><stop offset=".824" stop-color="#3387bd"/><stop offset=".861" stop-color="#5b53a4"/><stop offset=".919" stop-color="#42376f"/><stop offset="1" stop-color="#332b55"/></linearGradient><linearGradient id="h139" gradientUnits="userSpaceOnUse" x1="509" x2="963" y1="0" y2="0"><stop offset=".000" stop-color="#2f274e"/><stop offset=".405" stop-color="#393061"/><stop offset=".542" stop-color="#4c4081"/><stop offset=".604" stop-color="#5b53a4"/><stop offset=".641" stop-color="#3d79b6"/><stop offset=".650" stop-color="#348abc"/><stop offset=".665" stop-color="#62bda7"/><stop offset=".674" stop-color="#9ad6a4"/><stop offset=".676" stop-color="#acdea4"/><stop offset=".681" stop-color="#ebf7a0"/><stop offset=".683" stop-color="#fbfdb9"/><stop offset=".685" stop-color="#feefa4"/><stop offset=".689" stop-color="#fdb063"/><stop offset=".696" stop-color="#f36b43"/><stop offset=".705" stop-color="#d43d4f"/><stop offset=".714" stop-color="#c32a4b"/><stop offset=".731" stop-color="#cb334d"/><stop offset=".751" stop-color="#f16844"/><stop offset=".764" stop-color="#fdae61"/><stop offset=".771" stop-color="#fee594"/><stop offset=".775" stop-color="#fffdbb"/><stop offset=".782" stop-color="#e5f598"/><stop offset=".789" stop-color="#aadda4"/><stop offset=".806" stop-color="#60bca8"/><stop offset=".826" stop-color="#338abc"/><stop offset=".863" stop-color="#5a54a4"/><stop offset=".881" stop-color="#554893"/><stop offset=".941" stop-color="#3d3368"/><stop offset="1" stop-color="#342b57"/></linearGradient><linearGradient id="h140" gradientUnits="userSpaceOnUse" x1="515" x2="963" y1="0" y2="0"><stop offset=".000" stop-color="#2f274e"/><stop offset=".404" stop-color="#393061"/><stop offset=".540" stop-color="#4c4081"/><stop offset=".600" stop-color="#5b53a4"/><stop offset=".638" stop-color="#3e78b6"/><stop offset=".647" stop-color="#348abc"/><stop offset=".663" stop-color="#61bda7"/><stop offset=".672" stop-color="#99d6a4"/><stop offset=".674" stop-color="#abdda4"/><stop offset=".679" stop-color="#eaf79f"/><stop offset=".681" stop-color="#fbfdb8"/><stop offset=".683" stop-color="#feefa4"/><stop offset=".685" stop-color="#fed481"/><stop offset=".688" stop-color="#fdaf62"/><stop offset=".694" stop-color="#f26a44"/><stop offset=".703" stop-color="#cf374d"/><stop offset=".712" stop-color="#ba2049"/><stop offset=".730" stop-color="#c1284a"/><stop offset=".748" stop-color="#e45549"/><stop offset=".754" stop-color="#f36c43"/><stop offset=".766" stop-color="#fcaa5f"/><stop offset=".775" stop-color="#feeda1"/><stop offset=".777" stop-color="#fff9b5"/><stop offset=".779" stop-color="#fbfdb8"/><stop offset=".783" stop-color="#e9f69c"/><stop offset=".792" stop-color="#a4daa4"/><stop offset=".810" stop-color="#5db8a9"/><stop offset=".830" stop-color="#3287bd"/><stop offset=".868" stop-color="#5b53a4"/><stop offset=".900" stop-color="#4e4185"/><stop offset=".969" stop-color="#393060"/><stop offset="1" stop-color="#342c58"/></linearGradient><linearGradient id="h141" gradientUnits="userSpaceOnUse" x1="520" x2="964" y1="0" y2="0"><stop offset=".000" stop-color="#2f284e"/><stop offset=".401" stop-color="#393061"/><stop offset=".538" stop-color="#4c4081"/><stop offset=".599" stop-color="#5b53a4"/><stop offset=".635" stop-color="#3f77b5"/><stop offset=".644" stop-color="#3389bd"/><stop offset=".660" stop-color="#60bba8"/><stop offset=".669" stop-color="#97d5a4"/><stop offset=".671" stop-color="#a9dca4"/><stop offset=".676" stop-color="#e9f69c"/><stop offset=".678" stop-color="#f9fdb6"/><stop offset=".680" stop-color="#fff1a7"/><stop offset=".682" stop-color="#fed784"/><stop offset=".685" stop-color="#fdb264"/><stop offset=".691" stop-color="#f26a44"/><stop offset=".700" stop-color="#cb334d"/><stop offset=".709" stop-color="#b31947"/><stop offset=".727" stop-color="#b71d48"/><stop offset=".745" stop-color="#dd4a4c"/><stop offset=".757" stop-color="#f57346"/><stop offset=".768" stop-color="#fdb567"/><stop offset=".775" stop-color="#feea9b"/><stop offset=".779" stop-color="#fdfebc"/><stop offset=".786" stop-color="#def29a"/><stop offset=".793" stop-color="#a7dba4"/><stop offset=".811" stop-color="#5fbba8"/><stop offset=".831" stop-color="#338abc"/><stop offset=".869" stop-color="#5a55a5"/><stop offset=".885" stop-color="#574996"/><stop offset=".944" stop-color="#3f356b"/><stop offset="1" stop-color="#352d59"/></linearGradient><linearGradient id="h142" gradientUnits="userSpaceOnUse" x1="525" x2="964" y1="0" y2="0"><stop offset=".000" stop-color="#2f284e"/><stop offset=".401" stop-color="#393061"/><stop offset=".538" stop-color="#4c4081"/><stop offset=".597" stop-color="#5c52a4"/><stop offset=".633" stop-color="#4076b5"/><stop offset=".642" stop-color="#3287bd"/><stop offset=".658" stop-color="#5ebaa8"/><stop offset=".667" stop-color="#95d4a4"/><stop offset=".670" stop-color="#a6dba4"/><stop offset=".674" stop-color="#e7f599"/><stop offset=".677" stop-color="#f7fcb2"/><stop offset=".679" stop-color="#fff4ad"/><stop offset=".681" stop-color="#fedc88"/><stop offset=".683" stop-color="#fdb768"/><stop offset=".690" stop-color="#f36b43"/><stop offset=".699" stop-color="#c9314c"/><stop offset=".706" stop-color="#b11646"/><stop offset=".722" stop-color="#ac1045"/><stop offset=".738" stop-color="#c32a4b"/><stop offset=".752" stop-color="#e45549"/><stop offset=".759" stop-color="#f47044"/><stop offset=".770" stop-color="#fdb062"/><stop offset=".777" stop-color="#fee696"/><stop offset=".781" stop-color="#fffebd"/><stop offset=".788" stop-color="#e4f498"/><stop offset=".795" stop-color="#aadda4"/><stop offset=".813" stop-color="#62bda7"/><stop offset=".836" stop-color="#3387bd"/><stop offset=".877" stop-color="#5c52a3"/><stop offset=".938" stop-color="#423770"/><stop offset="1" stop-color="#362d5b"/></linearGradient><linearGradient id="h143" gradientUnits="userSpaceOnUse" x1="530" x2="965" y1="0" y2="0"><stop offset=".000" stop-color="#2f284e"/><stop offset=".400" stop-color="#3a3061"/><stop offset=".536" stop-color="#4c4081"/><stop offset=".595" stop-color="#5b53a4"/><stop offset=".632" stop-color="#3e79b6"/><stop offset=".641" stop-color="#358cbc"/><stop offset=".657" stop-color="#66c2a5"/><stop offset=".667" stop-color="#a3daa4"/><stop offset=".671" stop-color="#e1f399"/><stop offset=".674" stop-color="#f4fbae"/><stop offset=".676" stop-color="#fff8b2"/><stop offset=".678" stop-color="#fee18d"/><stop offset=".680" stop-color="#fdbd6d"/><stop offset=".685" stop-color="#f7864e"/><stop offset=".687" stop-color="#f46d43"/><stop offset=".694" stop-color="#d63f4f"/><stop offset=".701" stop-color="#b31847"/><stop offset=".710" stop-color="#a40843"/><stop offset=".729" stop-color="#ac1145"/><stop offset=".745" stop-color="#d33c4f"/><stop offset=".759" stop-color="#f46c43"/><stop offset=".770" stop-color="#fdac60"/><stop offset=".777" stop-color="#fee491"/><stop offset=".782" stop-color="#fffbb9"/><stop offset=".784" stop-color="#f9fdb6"/><stop offset=".789" stop-color="#e7f69a"/><stop offset=".798" stop-color="#a3daa4"/><stop offset=".816" stop-color="#5eb9a9"/><stop offset=".837" stop-color="#3389bd"/><stop offset=".878" stop-color="#5b53a4"/><stop offset=".943" stop-color="#423770"/><stop offset="1" stop-color="#372e5c"/></linearGradient><linearGradient id="h144" gradientUnits="userSpaceOnUse" x1="536" x2="965" y1="0" y2="0"><stop offset=".000" stop-color="#2f284f"/><stop offset=".399" stop-color="#3a3161"/><stop offset=".536" stop-color="#4c4083"/><stop offset=".592" stop-color="#5c52a3"/><stop offset=".629" stop-color="#3e78b5"/><stop offset=".639" stop-color="#348abc"/><stop offset=".655" stop-color="#64c0a6"/><stop offset=".664" stop-color="#a0d9a4"/><stop offset=".667" stop-color="#b8e2a1"/><stop offset=".669" stop-color="#dbf09a"/><stop offset=".674" stop-color="#fffbb9"/><stop offset=".676" stop-color="#fee594"/><stop offset=".678" stop-color="#fdc373"/><stop offset=".681" stop-color="#fba35c"/><stop offset=".685" stop-color="#f57145"/><stop offset=".695" stop-color="#c82f4c"/><stop offset=".702" stop-color="#a90d45"/><stop offset=".713" stop-color="#9e0142"/><stop offset=".732" stop-color="#ab0f45"/><stop offset=".751" stop-color="#dc484c"/><stop offset=".762" stop-color="#f57647"/><stop offset=".772" stop-color="#fcaa5f"/><stop offset=".779" stop-color="#fee18d"/><stop offset=".783" stop-color="#fff9b5"/><stop offset=".786" stop-color="#fbfdb8"/><stop offset=".790" stop-color="#e9f69d"/><stop offset=".800" stop-color="#a5dba4"/><stop offset=".818" stop-color="#60bba8"/><stop offset=".841" stop-color="#3386bc"/><stop offset=".883" stop-color="#5c52a3"/><stop offset=".946" stop-color="#423871"/><stop offset="1" stop-color="#382f5e"/></linearGradient><linearGradient id="h145" gradientUnits="userSpaceOnUse" x1="541" x2="966" y1="0" y2="0"><stop offset=".000" stop-color="#2f284f"/><stop offset=".398" stop-color="#3a3162"/><stop offset=".534" stop-color="#4d4083"/><stop offset=".591" stop-color="#5b53a4"/><stop offset=".626" stop-color="#3f77b5"/><stop offset=".635" stop-color="#3389bc"/><stop offset=".652" stop-color="#63bea7"/><stop offset=".661" stop-color="#9dd7a4"/><stop offset=".664" stop-color="#b2e0a3"/><stop offset=".666" stop-color="#d4ee9c"/><stop offset=".668" stop-color="#eef8a4"/><stop offset=".671" stop-color="#feffbe"/><stop offset=".673" stop-color="#feea9c"/><stop offset=".678" stop-color="#fca85e"/><stop offset=".682" stop-color="#f57647"/><stop offset=".692" stop-color="#c9314c"/><stop offset=".699" stop-color="#a70b44"/><stop offset=".706" stop-color="#97013f"/><stop offset=".725" stop-color="#9d0141"/><stop offset=".739" stop-color="#b71d48"/><stop offset=".751" stop-color="#db464d"/><stop offset=".762" stop-color="#f57446"/><stop offset=".774" stop-color="#fdb869"/><stop offset=".781" stop-color="#feeb9e"/><stop offset=".786" stop-color="#fdfebb"/><stop offset=".791" stop-color="#ebf7a0"/><stop offset=".795" stop-color="#caea9e"/><stop offset=".802" stop-color="#9ed8a4"/><stop offset=".821" stop-color="#5cb6aa"/><stop offset=".842" stop-color="#3288bd"/><stop offset=".885" stop-color="#5b53a4"/><stop offset=".953" stop-color="#423770"/><stop offset="1" stop-color="#382f5f"/></linearGradient><linearGradient id="h146" gradientUnits="userSpaceOnUse" x1="546" x2="967" y1="0" y2="0"><stop offset=".000" stop-color="#2f284f"/><stop offset=".394" stop-color="#3a3162"/><stop offset=".530" stop-color="#4c4082"/><stop offset=".587" stop-color="#5b53a4"/><stop offset=".625" stop-color="#3c7bb7"/><stop offset=".632" stop-color="#3389bd"/><stop offset=".648" stop-color="#61bca7"/><stop offset=".660" stop-color="#abdda4"/><stop offset=".665" stop-color="#eaf79e"/><stop offset=".667" stop-color="#fafdb8"/><stop offset=".670" stop-color="#feefa5"/><stop offset=".672" stop-color="#fed581"/><stop offset=".675" stop-color="#fdaf62"/><stop offset=".682" stop-color="#ef6645"/><stop offset=".689" stop-color="#cc344d"/><stop offset=".696" stop-color="#a60a44"/><stop offset=".701" stop-color="#97013f"/><stop offset=".713" stop-color="#8d013b"/><stop offset=".729" stop-color="#9f0242"/><stop offset=".746" stop-color="#cb324d"/><stop offset=".762" stop-color="#f57145"/><stop offset=".774" stop-color="#fdb466"/><stop offset=".781" stop-color="#fee99a"/><stop offset=".786" stop-color="#feffbe"/><stop offset=".793" stop-color="#e2f399"/><stop offset=".800" stop-color="#aadda4"/><stop offset=".822" stop-color="#5db8a9"/><stop offset=".846" stop-color="#3486bc"/><stop offset=".891" stop-color="#5d50a3"/><stop offset=".952" stop-color="#433872"/><stop offset="1" stop-color="#393061"/></linearGradient><linearGradient id="h147" gradientUnits="userSpaceOnUse" x1="552" x2="968" y1="0" y2="0"><stop offset=".000" stop-color="#2f284f"/><stop offset=".392" stop-color="#3a3162"/><stop offset=".526" stop-color="#4d4183"/><stop offset=".582" stop-color="#5b53a4"/><stop offset=".620" stop-color="#3c7ab7"/><stop offset=".627" stop-color="#3288bd"/><stop offset=".644" stop-color="#60bba8"/><stop offset=".654" stop-color="#95d5a4"/><stop offset=".656" stop-color="#a7dba4"/><stop offset=".661" stop-color="#e6f598"/><stop offset=".663" stop-color="#f6fbb1"/><stop offset=".666" stop-color="#fff5af"/><stop offset=".668" stop-color="#fedf8a"/><stop offset=".671" stop-color="#fdb96b"/><stop offset=".678" stop-color="#f36b43"/><stop offset=".685" stop-color="#d0384e"/><stop offset=".692" stop-color="#a70a44"/><stop offset=".697" stop-color="#93013e"/><stop offset=".707" stop-color="#850138"/><stop offset=".724" stop-color="#8f013c"/><stop offset=".733" stop-color="#a40844"/><stop offset=".752" stop-color="#dd4a4c"/><stop offset=".762" stop-color="#f46f44"/><stop offset=".774" stop-color="#fdb063"/><stop offset=".781" stop-color="#fee696"/><stop offset=".786" stop-color="#fffdbc"/><stop offset=".793" stop-color="#e6f598"/><stop offset=".800" stop-color="#aedea3"/><stop offset=".820" stop-color="#65c1a5"/><stop offset=".846" stop-color="#3287bd"/><stop offset=".889" stop-color="#5a54a4"/><stop offset=".916" stop-color="#52458d"/><stop offset=".988" stop-color="#3c3366"/><stop offset="1" stop-color="#3a3162"/></linearGradient><linearGradient id="h148" gradientUnits="userSpaceOnUse" x1="557" x2="968" y1="0" y2="0"><stop offset=".000" stop-color="#2f284f"/><stop offset=".389" stop-color="#3a3162"/><stop offset=".523" stop-color="#4d4083"/><stop offset=".579" stop-color="#5b53a4"/><stop offset=".618" stop-color="#3d7ab6"/><stop offset=".625" stop-color="#3288bd"/><stop offset=".645" stop-color="#68c3a5"/><stop offset=".655" stop-color="#a3daa4"/><stop offset=".659" stop-color="#def29a"/><stop offset=".664" stop-color="#fffbb8"/><stop offset=".667" stop-color="#fee594"/><stop offset=".672" stop-color="#fca45c"/><stop offset=".676" stop-color="#f57245"/><stop offset=".684" stop-color="#d53e4f"/><stop offset=".691" stop-color="#a80c44"/><stop offset=".693" stop-color="#9d0142"/><stop offset=".701" stop-color="#820137"/><stop offset=".718" stop-color="#7f0135"/><stop offset=".732" stop-color="#990140"/><stop offset=".745" stop-color="#bc2249"/><stop offset=".757" stop-color="#e1504a"/><stop offset=".764" stop-color="#f36c43"/><stop offset=".776" stop-color="#fdad60"/><stop offset=".783" stop-color="#fee491"/><stop offset=".788" stop-color="#fffbb8"/><stop offset=".791" stop-color="#f9fdb6"/><stop offset=".796" stop-color="#e8f69c"/><stop offset=".805" stop-color="#a5dba4"/><stop offset=".825" stop-color="#61bda7"/><stop offset=".849" stop-color="#3389bd"/><stop offset=".893" stop-color="#5a55a5"/><stop offset=".910" stop-color="#584a98"/><stop offset=".976" stop-color="#40366d"/><stop offset="1" stop-color="#3c3265"/></linearGradient><linearGradient id="h149" gradientUnits="userSpaceOnUse" x1="562" x2="969" y1="0" y2="0"><stop offset=".000" stop-color="#2f284f"/><stop offset=".386" stop-color="#3a3163"/><stop offset=".521" stop-color="#4d4184"/><stop offset=".575" stop-color="#5b53a4"/><stop offset=".614" stop-color="#3d7ab6"/><stop offset=".622" stop-color="#3287bd"/><stop offset=".641" stop-color="#65c1a5"/><stop offset=".651" stop-color="#9ed8a4"/><stop offset=".654" stop-color="#b4e0a2"/><stop offset=".656" stop-color="#d4ee9c"/><stop offset=".658" stop-color="#edf8a3"/><stop offset=".661" stop-color="#fdfebc"/><stop offset=".663" stop-color="#feeda0"/><stop offset=".668" stop-color="#fdad60"/><stop offset=".676" stop-color="#ef6545"/><stop offset=".683" stop-color="#c9314c"/><stop offset=".690" stop-color="#9f0242"/><stop offset=".698" stop-color="#7d0135"/><stop offset=".713" stop-color="#740131"/><stop offset=".727" stop-color="#850138"/><stop offset=".737" stop-color="#a20543"/><stop offset=".754" stop-color="#da454d"/><stop offset=".767" stop-color="#f57547"/><stop offset=".776" stop-color="#fca95f"/><stop offset=".784" stop-color="#fee18c"/><stop offset=".789" stop-color="#fff8b3"/><stop offset=".791" stop-color="#fcfeba"/><stop offset=".796" stop-color="#ebf79f"/><stop offset=".801" stop-color="#caea9e"/><stop offset=".808" stop-color="#9ed8a4"/><stop offset=".828" stop-color="#5db8a9"/><stop offset=".853" stop-color="#3387bc"/><stop offset=".899" stop-color="#5c52a3"/><stop offset=".971" stop-color="#433871"/><stop offset="1" stop-color="#3d3367"/></linearGradient><linearGradient id="h150" gradientUnits="userSpaceOnUse" x1="567" x2="970" y1="0" y2="0"><stop offset=".000" stop-color="#30284f"/><stop offset=".382" stop-color="#3b3163"/><stop offset=".516" stop-color="#4d4184"/><stop offset=".571" stop-color="#5b52a4"/><stop offset=".610" stop-color="#3d7ab6"/><stop offset=".620" stop-color="#358cbb"/><stop offset=".638" stop-color="#63bfa6"/><stop offset=".650" stop-color="#aadda4"/><stop offset=".655" stop-color="#e8f69b"/><stop offset=".658" stop-color="#f7fcb3"/><stop offset=".660" stop-color="#fff5ae"/><stop offset=".663" stop-color="#fedf8a"/><stop offset=".665" stop-color="#fdbb6c"/><stop offset=".672" stop-color="#f46d43"/><stop offset=".680" stop-color="#d0394e"/><stop offset=".687" stop-color="#a20543"/><stop offset=".695" stop-color="#7b0134"/><stop offset=".705" stop-color="#6c002e"/><stop offset=".722" stop-color="#740131"/><stop offset=".737" stop-color="#9d0142"/><stop offset=".757" stop-color="#dd4b4c"/><stop offset=".767" stop-color="#f57145"/><stop offset=".779" stop-color="#fdb567"/><stop offset=".787" stop-color="#fee99a"/><stop offset=".792" stop-color="#feffbe"/><stop offset=".799" stop-color="#e3f499"/><stop offset=".806" stop-color="#acdda4"/><stop offset=".829" stop-color="#60bba8"/><stop offset=".854" stop-color="#3389bd"/><stop offset=".901" stop-color="#5b53a4"/><stop offset=".975" stop-color="#433872"/><stop offset="1" stop-color="#3e3469"/></linearGradient><linearGradient id="h151" gradientUnits="userSpaceOnUse" x1="573" x2="972" y1="0" y2="0"><stop offset=".000" stop-color="#302850"/><stop offset=".378" stop-color="#3b3264"/><stop offset=".511" stop-color="#4e4185"/><stop offset=".564" stop-color="#5c52a3"/><stop offset=".604" stop-color="#3e79b6"/><stop offset=".614" stop-color="#348abc"/><stop offset=".634" stop-color="#69c3a5"/><stop offset=".644" stop-color="#a2daa4"/><stop offset=".649" stop-color="#daf09a"/><stop offset=".652" stop-color="#f0f9a7"/><stop offset=".654" stop-color="#ffffbf"/><stop offset=".659" stop-color="#fece7c"/><stop offset=".662" stop-color="#fdab60"/><stop offset=".669" stop-color="#ee6545"/><stop offset=".677" stop-color="#c82f4c"/><stop offset=".684" stop-color="#9a0140"/><stop offset=".692" stop-color="#730031"/><stop offset=".702" stop-color="#65002b"/><stop offset=".719" stop-color="#6e002e"/><stop offset=".734" stop-color="#97013f"/><stop offset=".744" stop-color="#b91f48"/><stop offset=".754" stop-color="#db474d"/><stop offset=".764" stop-color="#f46d43"/><stop offset=".777" stop-color="#fdae61"/><stop offset=".784" stop-color="#fee594"/><stop offset=".789" stop-color="#fffcba"/><stop offset=".794" stop-color="#f0f9a8"/><stop offset=".797" stop-color="#e8f69b"/><stop offset=".807" stop-color="#a5dba4"/><stop offset=".830" stop-color="#5cb7a9"/><stop offset=".855" stop-color="#3387bc"/><stop offset=".902" stop-color="#5b53a4"/><stop offset=".977" stop-color="#433872"/><stop offset="1" stop-color="#3f356a"/></linearGradient><linearGradient id="h152" gradientUnits="userSpaceOnUse" x1="578" x2="973" y1="0" y2="0"><stop offset=".000" stop-color="#302850"/><stop offset=".375" stop-color="#3b3264"/><stop offset=".509" stop-color="#4e4185"/><stop offset=".562" stop-color="#5b53a4"/><stop offset=".603" stop-color="#3c7ab7"/><stop offset=".610" stop-color="#3288bd"/><stop offset=".630" stop-color="#64bfa6"/><stop offset=".643" stop-color="#a9dca4"/><stop offset=".648" stop-color="#e6f598"/><stop offset=".651" stop-color="#f5fbaf"/><stop offset=".653" stop-color="#fff8b3"/><stop offset=".656" stop-color="#fee390"/><stop offset=".661" stop-color="#fca35c"/><stop offset=".666" stop-color="#f57245"/><stop offset=".673" stop-color="#d43d4f"/><stop offset=".681" stop-color="#a30643"/><stop offset=".689" stop-color="#760132"/><stop offset=".699" stop-color="#600029"/><stop offset=".719" stop-color="#68002c"/><stop offset=".734" stop-color="#91013d"/><stop offset=".739" stop-color="#a40843"/><stop offset=".754" stop-color="#d9444e"/><stop offset=".767" stop-color="#f57547"/><stop offset=".777" stop-color="#fca95f"/><stop offset=".785" stop-color="#fee18c"/><stop offset=".790" stop-color="#fff7b2"/><stop offset=".792" stop-color="#fcfebb"/><stop offset=".800" stop-color="#dff299"/><stop offset=".808" stop-color="#aadca4"/><stop offset=".830" stop-color="#5fbaa8"/><stop offset=".856" stop-color="#3389bd"/><stop offset=".904" stop-color="#5a54a5"/><stop offset=".922" stop-color="#594a98"/><stop offset=".992" stop-color="#42376f"/><stop offset="1" stop-color="#40366d"/></linearGradient><linearGradient id="h153" gradientUnits="userSpaceOnUse" x1="583" x2="973" y1="0" y2="0"><stop offset=".000" stop-color="#302850"/><stop offset=".374" stop-color="#3b3264"/><stop offset=".508" stop-color="#4e4286"/><stop offset=".559" stop-color="#5b52a4"/><stop offset=".600" stop-color="#3d79b6"/><stop offset=".610" stop-color="#358bbc"/><stop offset=".631" stop-color="#6bc4a5"/><stop offset=".641" stop-color="#a3daa4"/><stop offset=".646" stop-color="#dbf09a"/><stop offset=".649" stop-color="#f0f9a7"/><stop offset=".651" stop-color="#ffffbf"/><stop offset=".656" stop-color="#fecf7d"/><stop offset=".659" stop-color="#fdac60"/><stop offset=".667" stop-color="#ef6645"/><stop offset=".674" stop-color="#c9304c"/><stop offset=".682" stop-color="#980140"/><stop offset=".690" stop-color="#6e002f"/><stop offset=".700" stop-color="#5c0027"/><stop offset=".721" stop-color="#67002c"/><stop offset=".736" stop-color="#92013d"/><stop offset=".741" stop-color="#a50944"/><stop offset=".756" stop-color="#da454d"/><stop offset=".767" stop-color="#f36b44"/><stop offset=".779" stop-color="#fdab60"/><stop offset=".787" stop-color="#fee28f"/><stop offset=".792" stop-color="#fff9b5"/><stop offset=".795" stop-color="#fbfdb9"/><stop offset=".800" stop-color="#eaf79e"/><stop offset=".805" stop-color="#caea9e"/><stop offset=".813" stop-color="#9fd8a4"/><stop offset=".833" stop-color="#5fbaa8"/><stop offset=".862" stop-color="#3486bc"/><stop offset=".913" stop-color="#5c51a3"/><stop offset=".987" stop-color="#443974"/><stop offset="1" stop-color="#423770"/></linearGradient><linearGradient id="h154" gradientUnits="userSpaceOnUse" x1="586" x2="974" y1="0" y2="0"><stop offset=".000" stop-color="#302850"/><stop offset=".374" stop-color="#3b3264"/><stop offset=".505" stop-color="#4e4286"/><stop offset=".557" stop-color="#5b52a4"/><stop offset=".598" stop-color="#3d79b6"/><stop offset=".608" stop-color="#358bbc"/><stop offset=".629" stop-color="#6bc4a5"/><stop offset=".639" stop-color="#a4daa4"/><stop offset=".644" stop-color="#dcf19a"/><stop offset=".649" stop-color="#fffebe"/><stop offset=".655" stop-color="#fece7c"/><stop offset=".657" stop-color="#fdab60"/><stop offset=".665" stop-color="#ef6545"/><stop offset=".673" stop-color="#c8304c"/><stop offset=".678" stop-color="#a70b44"/><stop offset=".683" stop-color="#860138"/><stop offset=".691" stop-color="#65002b"/><stop offset=".706" stop-color="#5b0027"/><stop offset=".722" stop-color="#6a002d"/><stop offset=".737" stop-color="#9b0141"/><stop offset=".755" stop-color="#d9444e"/><stop offset=".768" stop-color="#f57446"/><stop offset=".781" stop-color="#fdb96a"/><stop offset=".789" stop-color="#feeb9d"/><stop offset=".794" stop-color="#fdfebc"/><stop offset=".802" stop-color="#e2f399"/><stop offset=".809" stop-color="#acdda4"/><stop offset=".832" stop-color="#61bca7"/><stop offset=".861" stop-color="#3387bd"/><stop offset=".912" stop-color="#5b52a4"/><stop offset=".990" stop-color="#443a75"/><stop offset="1" stop-color="#433871"/></linearGradient><linearGradient id="h155" gradientUnits="userSpaceOnUse" x1="589" x2="975" y1="0" y2="0"><stop offset=".000" stop-color="#302850"/><stop offset=".370" stop-color="#3b3264"/><stop offset=".503" stop-color="#4e4286"/><stop offset=".554" stop-color="#5c52a3"/><stop offset=".596" stop-color="#3d79b6"/><stop offset=".606" stop-color="#358bbc"/><stop offset=".627" stop-color="#6bc4a5"/><stop offset=".637" stop-color="#a3daa4"/><stop offset=".642" stop-color="#dbf19a"/><stop offset=".648" stop-color="#ffffbe"/><stop offset=".653" stop-color="#fece7c"/><stop offset=".655" stop-color="#fdac60"/><stop offset=".663" stop-color="#ef6645"/><stop offset=".671" stop-color="#c8304c"/><stop offset=".676" stop-color="#a70b44"/><stop offset=".679" stop-color="#97013f"/><stop offset=".687" stop-color="#6d002e"/><stop offset=".697" stop-color="#5a0027"/><stop offset=".718" stop-color="#64002b"/><stop offset=".733" stop-color="#8e013c"/><stop offset=".741" stop-color="#aa0e45"/><stop offset=".756" stop-color="#dd4b4c"/><stop offset=".767" stop-color="#f57145"/><stop offset=".780" stop-color="#fdb466"/><stop offset=".788" stop-color="#fee898"/><stop offset=".793" stop-color="#fffebe"/><stop offset=".801" stop-color="#e7f599"/><stop offset=".811" stop-color="#a5dba4"/><stop offset=".834" stop-color="#5eb9a9"/><stop offset=".860" stop-color="#3389bd"/><stop offset=".909" stop-color="#5955a5"/><stop offset=".930" stop-color="#584a98"/><stop offset="1" stop-color="#433973"/></linearGradient><linearGradient id="h156" gradientUnits="userSpaceOnUse" x1="591" x2="975" y1="0" y2="0"><stop offset=".000" stop-color="#302850"/><stop offset=".372" stop-color="#3b3264"/><stop offset=".505" stop-color="#4e4286"/><stop offset=".555" stop-color="#5c52a3"/><stop offset=".596" stop-color="#3e79b6"/><stop offset=".607" stop-color="#348bbc"/><stop offset=".628" stop-color="#6ac4a5"/><stop offset=".638" stop-color="#a2daa4"/><stop offset=".643" stop-color="#d9f09b"/><stop offset=".646" stop-color="#eff9a6"/><stop offset=".648" stop-color="#feffbe"/><stop offset=".654" stop-color="#fed07e"/><stop offset=".656" stop-color="#fdad61"/><stop offset=".664" stop-color="#f06645"/><stop offset=".672" stop-color="#c9314c"/><stop offset=".680" stop-color="#980140"/><stop offset=".688" stop-color="#6d002e"/><stop offset=".698" stop-color="#5a0027"/><stop offset=".719" stop-color="#64002a"/><stop offset=".734" stop-color="#8d013b"/><stop offset=".742" stop-color="#a90d45"/><stop offset=".758" stop-color="#dc494c"/><stop offset=".768" stop-color="#f46e44"/><stop offset=".781" stop-color="#fdaf62"/><stop offset=".789" stop-color="#fee593"/><stop offset=".794" stop-color="#fffbb8"/><stop offset=".797" stop-color="#fafdb7"/><stop offset=".802" stop-color="#e9f69d"/><stop offset=".812" stop-color="#a8dca4"/><stop offset=".836" stop-color="#60bba8"/><stop offset=".865" stop-color="#3387bd"/><stop offset=".917" stop-color="#5b53a4"/><stop offset=".997" stop-color="#453a76"/><stop offset="1" stop-color="#453a75"/></linearGradient><linearGradient id="h157" gradientUnits="userSpaceOnUse" x1="594" x2="976" y1="0" y2="0"><stop offset=".000" stop-color="#302850"/><stop offset=".372" stop-color="#3b3264"/><stop offset=".503" stop-color="#4e4286"/><stop offset=".555" stop-color="#5b53a4"/><stop offset=".597" stop-color="#3b7cb7"/><stop offset=".605" stop-color="#338abc"/><stop offset=".626" stop-color="#68c3a5"/><stop offset=".636" stop-color="#a0d9a4"/><stop offset=".641" stop-color="#d5ee9b"/><stop offset=".644" stop-color="#edf8a3"/><stop offset=".647" stop-color="#fdfebb"/><stop offset=".652" stop-color="#fed481"/><stop offset=".654" stop-color="#fdb063"/><stop offset=".662" stop-color="#f16844"/><stop offset=".670" stop-color="#cb324d"/><stop offset=".678" stop-color="#9a0140"/><stop offset=".686" stop-color="#6e002e"/><stop offset=".696" stop-color="#5a0027"/><stop offset=".717" stop-color="#63002a"/><stop offset=".733" stop-color="#8b013a"/><stop offset=".738" stop-color="#9f0242"/><stop offset=".757" stop-color="#da464d"/><stop offset=".770" stop-color="#f57647"/><stop offset=".783" stop-color="#fdb96a"/><stop offset=".791" stop-color="#feea9c"/><stop offset=".796" stop-color="#feffbe"/><stop offset=".804" stop-color="#e6f598"/><stop offset=".814" stop-color="#a5dba4"/><stop offset=".838" stop-color="#5fbaa8"/><stop offset=".866" stop-color="#3387bd"/><stop offset=".919" stop-color="#5a54a4"/><stop offset=".942" stop-color="#574995"/><stop offset="1" stop-color="#463b78"/></linearGradient><linearGradient id="h158" gradientUnits="userSpaceOnUse" x1="597" x2="977" y1="0" y2="0"><stop offset=".000" stop-color="#302850"/><stop offset=".371" stop-color="#3b3264"/><stop offset=".503" stop-color="#4e4286"/><stop offset=".553" stop-color="#5c52a3"/><stop offset=".595" stop-color="#3c7bb7"/><stop offset=".603" stop-color="#3288bd"/><stop offset=".624" stop-color="#66c2a5"/><stop offset=".634" stop-color="#9ed8a4"/><stop offset=".637" stop-color="#b2e0a3"/><stop offset=".639" stop-color="#d1ec9c"/><stop offset=".642" stop-color="#ebf7a0"/><stop offset=".645" stop-color="#fbfdb8"/><stop offset=".647" stop-color="#fff0a6"/><stop offset=".650" stop-color="#fed884"/><stop offset=".653" stop-color="#fdb466"/><stop offset=".661" stop-color="#f26a44"/><stop offset=".668" stop-color="#cc344d"/><stop offset=".676" stop-color="#9b0141"/><stop offset=".684" stop-color="#6e002f"/><stop offset=".695" stop-color="#5b0027"/><stop offset=".716" stop-color="#63002a"/><stop offset=".732" stop-color="#880139"/><stop offset=".739" stop-color="#a40843"/><stop offset=".758" stop-color="#dd4b4c"/><stop offset=".768" stop-color="#f46f44"/><stop offset=".782" stop-color="#fdad61"/><stop offset=".789" stop-color="#fee28f"/><stop offset=".795" stop-color="#fff8b3"/><stop offset=".797" stop-color="#fcfebb"/><stop offset=".805" stop-color="#e2f499"/><stop offset=".816" stop-color="#a4daa4"/><stop offset=".839" stop-color="#5fbaa8"/><stop offset=".868" stop-color="#3288bd"/><stop offset=".921" stop-color="#5956a5"/><stop offset=".942" stop-color="#594b9a"/><stop offset="1" stop-color="#483d7c"/></linearGradient><linearGradient id="h159" gradientUnits="userSpaceOnUse" x1="599" x2="978" y1="0" y2="0"><stop offset=".000" stop-color="#302850"/><stop offset=".372" stop-color="#3b3264"/><stop offset=".501" stop-color="#4d4185"/><stop offset=".554" stop-color="#5b52a4"/><stop offset=".594" stop-color="#3d79b6"/><stop offset=".604" stop-color="#368cbb"/><stop offset=".623" stop-color="#64c0a6"/><stop offset=".636" stop-color="#addea4"/><stop offset=".641" stop-color="#eaf69e"/><stop offset=".644" stop-color="#f9fdb5"/><stop offset=".646" stop-color="#fff2aa"/><stop offset=".649" stop-color="#fedb87"/><stop offset=".652" stop-color="#fdb869"/><stop offset=".660" stop-color="#f36b43"/><stop offset=".668" stop-color="#cd354d"/><stop offset=".675" stop-color="#9c0141"/><stop offset=".683" stop-color="#6f002f"/><stop offset=".694" stop-color="#5b0027"/><stop offset=".715" stop-color="#63002a"/><stop offset=".731" stop-color="#860138"/><stop offset=".739" stop-color="#a20543"/><stop offset=".757" stop-color="#db474d"/><stop offset=".770" stop-color="#f57446"/><stop offset=".784" stop-color="#fdb265"/><stop offset=".792" stop-color="#fee593"/><stop offset=".797" stop-color="#fffab6"/><stop offset=".799" stop-color="#fbfdb9"/><stop offset=".807" stop-color="#e1f399"/><stop offset=".818" stop-color="#a4daa4"/><stop offset=".842" stop-color="#61bca8"/><stop offset=".873" stop-color="#3387bc"/><stop offset=".929" stop-color="#5a54a5"/><stop offset=".955" stop-color="#574996"/><stop offset="1" stop-color="#4b3f80"/></linearGradient><linearGradient id="h160" gradientUnits="userSpaceOnUse" x1="602" x2="979" y1="0" y2="0"><stop offset=".000" stop-color="#302850"/><stop offset=".374" stop-color="#3b3264"/><stop offset=".501" stop-color="#4d4184"/><stop offset=".554" stop-color="#5b53a4"/><stop offset=".594" stop-color="#3b7cb7"/><stop offset=".602" stop-color="#348abc"/><stop offset=".621" stop-color="#62bea7"/><stop offset=".634" stop-color="#aadca4"/><stop offset=".639" stop-color="#e7f69a"/><stop offset=".642" stop-color="#f7fcb2"/><stop offset=".645" stop-color="#fff5ae"/><stop offset=".647" stop-color="#fee08b"/><stop offset=".650" stop-color="#fdbc6c"/><stop offset=".658" stop-color="#f46d43"/><stop offset=".666" stop-color="#cf374e"/><stop offset=".674" stop-color="#9d0142"/><stop offset=".682" stop-color="#70002f"/><stop offset=".692" stop-color="#5c0027"/><stop offset=".714" stop-color="#63002a"/><stop offset=".729" stop-color="#840138"/><stop offset=".737" stop-color="#a00342"/><stop offset=".759" stop-color="#dd4a4c"/><stop offset=".769" stop-color="#f46c43"/><stop offset=".785" stop-color="#fdb667"/><stop offset=".793" stop-color="#fee695"/><stop offset=".798" stop-color="#fffab7"/><stop offset=".801" stop-color="#fbfdb9"/><stop offset=".809" stop-color="#e2f499"/><stop offset=".820" stop-color="#a6dba4"/><stop offset=".846" stop-color="#5eb9a9"/><stop offset=".878" stop-color="#3386bc"/><stop offset=".936" stop-color="#5a54a4"/><stop offset=".968" stop-color="#564893"/><stop offset="1" stop-color="#4e4185"/></linearGradient><linearGradient id="h161" gradientUnits="userSpaceOnUse" x1="604" x2="980" y1="0" y2="0"><stop offset=".000" stop-color="#30284f"/><stop offset=".375" stop-color="#3b3163"/><stop offset=".503" stop-color="#4d4184"/><stop offset=".556" stop-color="#5b53a4"/><stop offset=".593" stop-color="#3d7ab6"/><stop offset=".601" stop-color="#3288bd"/><stop offset=".620" stop-color="#60bba8"/><stop offset=".633" stop-color="#a6dba4"/><stop offset=".638" stop-color="#e3f499"/><stop offset=".641" stop-color="#f4fbae"/><stop offset=".644" stop-color="#fff9b5"/><stop offset=".646" stop-color="#fee391"/><stop offset=".652" stop-color="#fba25c"/><stop offset=".657" stop-color="#f47044"/><stop offset=".665" stop-color="#d1394e"/><stop offset=".673" stop-color="#9f0242"/><stop offset=".681" stop-color="#710030"/><stop offset=".691" stop-color="#5c0027"/><stop offset=".715" stop-color="#66002b"/><stop offset=".734" stop-color="#93013e"/><stop offset=".742" stop-color="#ab0f45"/><stop offset=".758" stop-color="#da454d"/><stop offset=".771" stop-color="#f46f44"/><stop offset=".787" stop-color="#fdb769"/><stop offset=".795" stop-color="#fee695"/><stop offset=".801" stop-color="#fffab6"/><stop offset=".803" stop-color="#fcfeba"/><stop offset=".811" stop-color="#e5f598"/><stop offset=".822" stop-color="#a8dca4"/><stop offset=".848" stop-color="#60bca8"/><stop offset=".883" stop-color="#3386bc"/><stop offset=".941" stop-color="#5956a5"/><stop offset=".968" stop-color="#594b9a"/><stop offset="1" stop-color="#51448b"/></linearGradient><linearGradient id="h162" gradientUnits="userSpaceOnUse" x1="607" x2="981" y1="0" y2="0"><stop offset=".000" stop-color="#30284f"/><stop offset=".374" stop-color="#3a3163"/><stop offset=".503" stop-color="#4d4083"/><stop offset=".556" stop-color="#5b53a4"/><stop offset=".594" stop-color="#3b7cb7"/><stop offset=".602" stop-color="#358bbc"/><stop offset=".620" stop-color="#66c2a5"/><stop offset=".631" stop-color="#a1d9a4"/><stop offset=".636" stop-color="#d9f09b"/><stop offset=".639" stop-color="#f0f9a7"/><stop offset=".642" stop-color="#fffebe"/><stop offset=".647" stop-color="#feca79"/><stop offset=".650" stop-color="#fca85e"/><stop offset=".655" stop-color="#f57647"/><stop offset=".663" stop-color="#d53e4f"/><stop offset=".671" stop-color="#a20543"/><stop offset=".679" stop-color="#730031"/><stop offset=".690" stop-color="#5d0028"/><stop offset=".714" stop-color="#66002b"/><stop offset=".733" stop-color="#90013c"/><stop offset=".741" stop-color="#a80c44"/><stop offset=".759" stop-color="#dc484c"/><stop offset=".773" stop-color="#f57145"/><stop offset=".789" stop-color="#fdb869"/><stop offset=".797" stop-color="#fee594"/><stop offset=".802" stop-color="#fff9b4"/><stop offset=".805" stop-color="#fdfebb"/><stop offset=".813" stop-color="#e7f59a"/><stop offset=".824" stop-color="#abdda4"/><stop offset=".853" stop-color="#5fbaa8"/><stop offset=".888" stop-color="#3387bc"/><stop offset=".949" stop-color="#5856a5"/><stop offset=".979" stop-color="#5a4c9b"/><stop offset="1" stop-color="#554792"/></linearGradient><linearGradient id="h163" gradientUnits="userSpaceOnUse" x1="610" x2="982" y1="0" y2="0"><stop offset=".000" stop-color="#2f284f"/><stop offset=".376" stop-color="#3a3162"/><stop offset=".503" stop-color="#4c4083"/><stop offset=".556" stop-color="#5b53a4"/><stop offset=".594" stop-color="#3a7eb8"/><stop offset=".599" stop-color="#3288bd"/><stop offset=".618" stop-color="#61bda7"/><stop offset=".632" stop-color="#abdda4"/><stop offset=".637" stop-color="#eaf69e"/><stop offset=".640" stop-color="#fafdb6"/><stop offset=".642" stop-color="#fff1a7"/><stop offset=".645" stop-color="#fed784"/><stop offset=".648" stop-color="#fdb264"/><stop offset=".656" stop-color="#f06745"/><stop offset=".664" stop-color="#c82f4c"/><stop offset=".669" stop-color="#a60a44"/><stop offset=".675" stop-color="#850138"/><stop offset=".683" stop-color="#66002b"/><stop offset=".702" stop-color="#5e0028"/><stop offset=".720" stop-color="#720030"/><stop offset=".737" stop-color="#9d0142"/><stop offset=".761" stop-color="#dd4a4c"/><stop offset=".774" stop-color="#f57346"/><stop offset=".790" stop-color="#fdb768"/><stop offset=".801" stop-color="#feeda2"/><stop offset=".806" stop-color="#feffbe"/><stop offset=".815" stop-color="#e9f69d"/><stop offset=".828" stop-color="#a6dba4"/><stop offset=".858" stop-color="#5eb9a9"/><stop offset=".892" stop-color="#3387bd"/><stop offset=".954" stop-color="#5759a7"/><stop offset=".992" stop-color="#5a4c9c"/><stop offset="1" stop-color="#594b99"/></linearGradient><linearGradient id="h164" gradientUnits="userSpaceOnUse" x1="612" x2="985" y1="0" y2="0"><stop offset=".000" stop-color="#2f284f"/><stop offset=".378" stop-color="#3a3162"/><stop offset=".501" stop-color="#4c4082"/><stop offset=".555" stop-color="#5b53a4"/><stop offset=".590" stop-color="#3d7ab6"/><stop offset=".598" stop-color="#3389bc"/><stop offset=".617" stop-color="#65c1a5"/><stop offset=".627" stop-color="#a1d9a4"/><stop offset=".633" stop-color="#dcf19a"/><stop offset=".638" stop-color="#fffcb9"/><stop offset=".641" stop-color="#fee695"/><stop offset=".646" stop-color="#fca45c"/><stop offset=".651" stop-color="#f47045"/><stop offset=".660" stop-color="#d0394e"/><stop offset=".668" stop-color="#9e0142"/><stop offset=".676" stop-color="#710030"/><stop offset=".686" stop-color="#5f0029"/><stop offset=".710" stop-color="#68002c"/><stop offset=".729" stop-color="#90013c"/><stop offset=".737" stop-color="#a60a44"/><stop offset=".759" stop-color="#de4b4c"/><stop offset=".772" stop-color="#f57346"/><stop offset=".788" stop-color="#fdb567"/><stop offset=".799" stop-color="#feec9e"/><stop offset=".804" stop-color="#fffebd"/><stop offset=".815" stop-color="#e3f499"/><stop offset=".826" stop-color="#aadda4"/><stop offset=".855" stop-color="#61bda7"/><stop offset=".893" stop-color="#3288bd"/><stop offset=".954" stop-color="#555ba8"/><stop offset="1" stop-color="#5c4d9e"/></linearGradient><linearGradient id="h165" gradientUnits="userSpaceOnUse" x1="615" x2="987" y1="0" y2="0"><stop offset=".000" stop-color="#2f284f"/><stop offset=".379" stop-color="#3a3162"/><stop offset=".500" stop-color="#4b3f81"/><stop offset=".554" stop-color="#5b53a4"/><stop offset=".589" stop-color="#3c7bb7"/><stop offset=".597" stop-color="#348bbc"/><stop offset=".616" stop-color="#69c3a5"/><stop offset=".626" stop-color="#a8dca4"/><stop offset=".632" stop-color="#e8f69b"/><stop offset=".634" stop-color="#f8fcb4"/><stop offset=".637" stop-color="#fff3aa"/><stop offset=".640" stop-color="#feda86"/><stop offset=".642" stop-color="#fdb466"/><stop offset=".651" stop-color="#f06744"/><stop offset=".659" stop-color="#c82f4c"/><stop offset=".664" stop-color="#a60a44"/><stop offset=".669" stop-color="#850138"/><stop offset=".677" stop-color="#67002c"/><stop offset=".696" stop-color="#610029"/><stop offset=".718" stop-color="#780133"/><stop offset=".734" stop-color="#a20643"/><stop offset=".755" stop-color="#da454d"/><stop offset=".772" stop-color="#f57346"/><stop offset=".788" stop-color="#fdb466"/><stop offset=".798" stop-color="#feea9c"/><stop offset=".804" stop-color="#fffcba"/><stop offset=".809" stop-color="#f4fbae"/><stop offset=".815" stop-color="#e7f599"/><stop offset=".828" stop-color="#a5dba4"/><stop offset=".858" stop-color="#60bba8"/><stop offset=".898" stop-color="#3486bc"/><stop offset=".962" stop-color="#545ca8"/><stop offset="1" stop-color="#5c51a3"/></linearGradient><linearGradient id="h166" gradientUnits="userSpaceOnUse" x1="618" x2="989" y1="0" y2="0"><stop offset=".000" stop-color="#2f284f"/><stop offset=".380" stop-color="#3a3161"/><stop offset=".501" stop-color="#4b3f81"/><stop offset=".553" stop-color="#5b52a4"/><stop offset=".588" stop-color="#3c7bb7"/><stop offset=".596" stop-color="#358bbc"/><stop offset=".615" stop-color="#6bc4a5"/><stop offset=".625" stop-color="#acdda4"/><stop offset=".631" stop-color="#ebf7a0"/><stop offset=".633" stop-color="#fbfeb9"/><stop offset=".636" stop-color="#feeea2"/><stop offset=".642" stop-color="#fdac60"/><stop offset=".647" stop-color="#f67948"/><stop offset=".655" stop-color="#d63f4f"/><stop offset=".663" stop-color="#a30743"/><stop offset=".671" stop-color="#770132"/><stop offset=".682" stop-color="#64002a"/><stop offset=".706" stop-color="#6c002e"/><stop offset=".725" stop-color="#90013c"/><stop offset=".733" stop-color="#a50944"/><stop offset=".755" stop-color="#db464d"/><stop offset=".771" stop-color="#f57446"/><stop offset=".787" stop-color="#fdb366"/><stop offset=".798" stop-color="#fee99a"/><stop offset=".803" stop-color="#fffbb8"/><stop offset=".806" stop-color="#fcfeba"/><stop offset=".814" stop-color="#e8f69b"/><stop offset=".827" stop-color="#a8dca4"/><stop offset=".860" stop-color="#5eb9a9"/><stop offset=".900" stop-color="#3386bc"/><stop offset=".965" stop-color="#525fa9"/><stop offset="1" stop-color="#5856a5"/></linearGradient><linearGradient id="h167" gradientUnits="userSpaceOnUse" x1="620" x2="992" y1="0" y2="0"><stop offset=".000" stop-color="#2f284f"/><stop offset=".382" stop-color="#3a3061"/><stop offset=".500" stop-color="#4b3f80"/><stop offset=".554" stop-color="#5b53a4"/><stop offset=".589" stop-color="#3a7eb8"/><stop offset=".594" stop-color="#3389bd"/><stop offset=".613" stop-color="#69c3a5"/><stop offset=".624" stop-color="#a9dca4"/><stop offset=".629" stop-color="#e9f69c"/><stop offset=".632" stop-color="#f9fdb6"/><stop offset=".634" stop-color="#fff1a7"/><stop offset=".637" stop-color="#fed683"/><stop offset=".640" stop-color="#fdb063"/><stop offset=".648" stop-color="#ef6545"/><stop offset=".656" stop-color="#c72e4c"/><stop offset=".661" stop-color="#a70b44"/><stop offset=".667" stop-color="#890139"/><stop offset=".675" stop-color="#6f002f"/><stop offset=".699" stop-color="#6d002e"/><stop offset=".720" stop-color="#8e013c"/><stop offset=".728" stop-color="#a30643"/><stop offset=".753" stop-color="#dc484c"/><stop offset=".769" stop-color="#f57647"/><stop offset=".785" stop-color="#fdb466"/><stop offset=".796" stop-color="#fee99a"/><stop offset=".801" stop-color="#fffab7"/><stop offset=".804" stop-color="#fcfeba"/><stop offset=".812" stop-color="#e9f69c"/><stop offset=".828" stop-color="#a2d9a4"/><stop offset=".858" stop-color="#60bba8"/><stop offset=".901" stop-color="#3387bc"/><stop offset=".965" stop-color="#4f62ab"/><stop offset="1" stop-color="#545ba8"/></linearGradient><linearGradient id="h168" gradientUnits="userSpaceOnUse" x1="623" x2="1078" y1="0" y2="0"><stop offset=".000" stop-color="#2f284e"/><stop offset=".312" stop-color="#393061"/><stop offset=".409" stop-color="#4b3f7f"/><stop offset=".453" stop-color="#5a54a4"/><stop offset=".479" stop-color="#3c7bb7"/><stop offset=".486" stop-color="#368cbb"/><stop offset=".499" stop-color="#64bfa6"/><stop offset=".508" stop-color="#a1d9a4"/><stop offset=".512" stop-color="#def29a"/><stop offset=".516" stop-color="#fffab6"/><stop offset=".519" stop-color="#fee491"/><stop offset=".521" stop-color="#fdc171"/><stop offset=".525" stop-color="#f8884f"/><stop offset=".527" stop-color="#f46e44"/><stop offset=".534" stop-color="#d1394e"/><stop offset=".541" stop-color="#a30743"/><stop offset=".547" stop-color="#7f0136"/><stop offset=".556" stop-color="#720030"/><stop offset=".576" stop-color="#7c0134"/><stop offset=".591" stop-color="#a00443"/><stop offset=".613" stop-color="#dc494c"/><stop offset=".626" stop-color="#f57647"/><stop offset=".640" stop-color="#fdb365"/><stop offset=".648" stop-color="#fee898"/><stop offset=".655" stop-color="#fdfebc"/><stop offset=".664" stop-color="#e1f399"/><stop offset=".675" stop-color="#a4daa4"/><stop offset=".701" stop-color="#5eb9a9"/><stop offset=".736" stop-color="#3387bd"/><stop offset=".789" stop-color="#4c67ad"/><stop offset=".895" stop-color="#5b52a4"/><stop offset="1" stop-color="#3e3469"/></linearGradient><linearGradient id="h169" gradientUnits="userSpaceOnUse" x1="626" x2="1099" y1="0" y2="0"><stop offset=".000" stop-color="#2f284e"/><stop offset=".302" stop-color="#393061"/><stop offset=".393" stop-color="#4a3e7f"/><stop offset=".433" stop-color="#5c52a4"/><stop offset=".461" stop-color="#397eb8"/><stop offset=".465" stop-color="#348abc"/><stop offset=".480" stop-color="#6ac3a5"/><stop offset=".488" stop-color="#a8dca4"/><stop offset=".493" stop-color="#e7f69a"/><stop offset=".495" stop-color="#f7fcb2"/><stop offset=".497" stop-color="#fff5ae"/><stop offset=".499" stop-color="#fedf8a"/><stop offset=".501" stop-color="#fdbb6c"/><stop offset=".507" stop-color="#f46f44"/><stop offset=".514" stop-color="#d53e4f"/><stop offset=".522" stop-color="#a00342"/><stop offset=".529" stop-color="#840137"/><stop offset=".543" stop-color="#7c0134"/><stop offset=".560" stop-color="#8f013c"/><stop offset=".569" stop-color="#a40743"/><stop offset=".590" stop-color="#dd4a4c"/><stop offset=".603" stop-color="#f57547"/><stop offset=".615" stop-color="#fdb163"/><stop offset=".624" stop-color="#fee696"/><stop offset=".630" stop-color="#ffffbe"/><stop offset=".638" stop-color="#e5f498"/><stop offset=".649" stop-color="#a6dba4"/><stop offset=".674" stop-color="#61bca7"/><stop offset=".712" stop-color="#3387bd"/><stop offset=".763" stop-color="#476db0"/><stop offset=".848" stop-color="#525faa"/><stop offset=".884" stop-color="#5a4c9c"/><stop offset=".960" stop-color="#40366d"/><stop offset="1" stop-color="#393061"/></linearGradient><linearGradient id="h170" gradientUnits="userSpaceOnUse" x1="628" x2="1100" y1="0" y2="0"><stop offset=".000" stop-color="#2f274e"/><stop offset=".307" stop-color="#393060"/><stop offset=".396" stop-color="#4a3e7e"/><stop offset=".436" stop-color="#5b53a4"/><stop offset=".464" stop-color="#3880b9"/><stop offset=".468" stop-color="#358bbc"/><stop offset=".483" stop-color="#6ac4a5"/><stop offset=".492" stop-color="#a6dba4"/><stop offset=".496" stop-color="#e0f399"/><stop offset=".500" stop-color="#fffcbb"/><stop offset=".504" stop-color="#fece7c"/><stop offset=".506" stop-color="#fdad60"/><stop offset=".513" stop-color="#f36b43"/><stop offset=".521" stop-color="#c8304c"/><stop offset=".530" stop-color="#9f0242"/><stop offset=".538" stop-color="#870139"/><stop offset=".559" stop-color="#8a013a"/><stop offset=".572" stop-color="#a10543"/><stop offset=".595" stop-color="#dc494c"/><stop offset=".608" stop-color="#f57246"/><stop offset=".621" stop-color="#fdac60"/><stop offset=".631" stop-color="#feeb9d"/><stop offset=".636" stop-color="#fffbb9"/><stop offset=".638" stop-color="#fbfeb9"/><stop offset=".646" stop-color="#dff299"/><stop offset=".657" stop-color="#a4daa4"/><stop offset=".682" stop-color="#62bda7"/><stop offset=".720" stop-color="#368cbb"/><stop offset=".771" stop-color="#3e79b6"/><stop offset=".839" stop-color="#456fb1"/><stop offset=".894" stop-color="#5c4d9e"/><stop offset=".966" stop-color="#423770"/><stop offset="1" stop-color="#3c3265"/></linearGradient><linearGradient id="h171" gradientUnits="userSpaceOnUse" x1="631" x2="1101" y1="0" y2="0"><stop offset=".000" stop-color="#2f274e"/><stop offset=".309" stop-color="#39305f"/><stop offset=".396" stop-color="#493d7d"/><stop offset=".436" stop-color="#5c52a3"/><stop offset=".464" stop-color="#3a7eb8"/><stop offset=".468" stop-color="#3288bd"/><stop offset=".485" stop-color="#6dc5a5"/><stop offset=".494" stop-color="#a5dba4"/><stop offset=".498" stop-color="#daf09a"/><stop offset=".500" stop-color="#eef8a5"/><stop offset=".502" stop-color="#fcfeba"/><stop offset=".504" stop-color="#fff1a7"/><stop offset=".506" stop-color="#fede89"/><stop offset=".511" stop-color="#fca55d"/><stop offset=".517" stop-color="#f26a44"/><stop offset=".526" stop-color="#cd354d"/><stop offset=".536" stop-color="#a00342"/><stop offset=".547" stop-color="#8d013b"/><stop offset=".568" stop-color="#95013e"/><stop offset=".579" stop-color="#a70b44"/><stop offset=".602" stop-color="#df4d4b"/><stop offset=".615" stop-color="#f57748"/><stop offset=".628" stop-color="#fdb063"/><stop offset=".636" stop-color="#fee593"/><stop offset=".643" stop-color="#fffdbc"/><stop offset=".653" stop-color="#def29a"/><stop offset=".664" stop-color="#a5dba4"/><stop offset=".691" stop-color="#62bda7"/><stop offset=".730" stop-color="#3d94b8"/><stop offset=".785" stop-color="#338abc"/><stop offset=".838" stop-color="#397fb9"/><stop offset=".906" stop-color="#5c4e9f"/><stop offset=".977" stop-color="#433871"/><stop offset="1" stop-color="#3e3469"/></linearGradient><linearGradient id="h172" gradientUnits="userSpaceOnUse" x1="634" x2="1101" y1="0" y2="0"><stop offset=".000" stop-color="#2f274e"/><stop offset=".310" stop-color="#39305f"/><stop offset=".398" stop-color="#493e7d"/><stop offset=".439" stop-color="#5b53a4"/><stop offset=".467" stop-color="#3980b9"/><stop offset=".471" stop-color="#348abc"/><stop offset=".488" stop-color="#6cc4a5"/><stop offset=".499" stop-color="#b4e1a2"/><stop offset=".503" stop-color="#e9f69c"/><stop offset=".505" stop-color="#f5fbb0"/><stop offset=".507" stop-color="#fffbb8"/><stop offset=".512" stop-color="#fed481"/><stop offset=".516" stop-color="#fba25b"/><stop offset=".522" stop-color="#f36b43"/><stop offset=".533" stop-color="#c9304c"/><stop offset=".544" stop-color="#a40743"/><stop offset=".561" stop-color="#95013e"/><stop offset=".580" stop-color="#a20643"/><stop offset=".600" stop-color="#c9314c"/><stop offset=".621" stop-color="#f57145"/><stop offset=".636" stop-color="#fdb365"/><stop offset=".645" stop-color="#fee594"/><stop offset=".651" stop-color="#fffdbc"/><stop offset=".662" stop-color="#e1f399"/><stop offset=".672" stop-color="#a9dca4"/><stop offset=".702" stop-color="#65c1a5"/><stop offset=".741" stop-color="#49a1b3"/><stop offset=".827" stop-color="#439bb5"/><stop offset=".857" stop-color="#3584bb"/><stop offset=".923" stop-color="#5c4e9f"/><stop offset=".994" stop-color="#433972"/><stop offset="1" stop-color="#423770"/></linearGradient><linearGradient id="h173" gradientUnits="userSpaceOnUse" x1="636" x2="1102" y1="0" y2="0"><stop offset=".000" stop-color="#2f274e"/><stop offset=".311" stop-color="#393060"/><stop offset=".399" stop-color="#493d7d"/><stop offset=".440" stop-color="#5c51a3"/><stop offset=".470" stop-color="#3a7eb8"/><stop offset=".474" stop-color="#3288bd"/><stop offset=".491" stop-color="#65c1a6"/><stop offset=".502" stop-color="#a2daa4"/><stop offset=".509" stop-color="#e8f69b"/><stop offset=".513" stop-color="#fffebd"/><stop offset=".517" stop-color="#fedc88"/><stop offset=".521" stop-color="#fca95f"/><stop offset=".530" stop-color="#f06745"/><stop offset=".541" stop-color="#ca314c"/><stop offset=".552" stop-color="#a90d44"/><stop offset=".569" stop-color="#9d0142"/><stop offset=".590" stop-color="#a90d45"/><stop offset=".616" stop-color="#de4b4c"/><stop offset=".629" stop-color="#f57145"/><stop offset=".644" stop-color="#fdb063"/><stop offset=".655" stop-color="#feea9c"/><stop offset=".661" stop-color="#feffbe"/><stop offset=".672" stop-color="#e1f399"/><stop offset=".685" stop-color="#a6dba4"/><stop offset=".715" stop-color="#6fc6a5"/><stop offset=".749" stop-color="#5db8a9"/><stop offset=".820" stop-color="#60bba8"/><stop offset=".871" stop-color="#3389bc"/><stop offset=".936" stop-color="#5e4fa2"/><stop offset="1" stop-color="#463b78"/></linearGradient><linearGradient id="h174" gradientUnits="userSpaceOnUse" x1="639" x2="1103" y1="0" y2="0"><stop offset=".000" stop-color="#2f284f"/><stop offset=".312" stop-color="#393061"/><stop offset=".403" stop-color="#4a3e7f"/><stop offset=".444" stop-color="#5b52a4"/><stop offset=".474" stop-color="#397eb8"/><stop offset=".478" stop-color="#3288bd"/><stop offset=".498" stop-color="#6dc5a5"/><stop offset=".509" stop-color="#acdda4"/><stop offset=".513" stop-color="#dff299"/><stop offset=".517" stop-color="#fafdb8"/><stop offset=".519" stop-color="#fff5af"/><stop offset=".524" stop-color="#fed07d"/><stop offset=".528" stop-color="#fba25c"/><stop offset=".534" stop-color="#f47045"/><stop offset=".547" stop-color="#ca324c"/><stop offset=".558" stop-color="#ac1045"/><stop offset=".580" stop-color="#a20543"/><stop offset=".601" stop-color="#b31847"/><stop offset=".623" stop-color="#df4d4b"/><stop offset=".636" stop-color="#f57245"/><stop offset=".651" stop-color="#fdad61"/><stop offset=".662" stop-color="#fee695"/><stop offset=".670" stop-color="#fefebd"/><stop offset=".681" stop-color="#e6f598"/><stop offset=".696" stop-color="#aadda4"/><stop offset=".724" stop-color="#86cea5"/><stop offset=".759" stop-color="#81cda5"/><stop offset=".808" stop-color="#90d3a4"/><stop offset=".838" stop-color="#76c8a5"/><stop offset=".862" stop-color="#55afad"/><stop offset=".892" stop-color="#3486bc"/><stop offset=".953" stop-color="#5d50a3"/><stop offset="1" stop-color="#4c4082"/></linearGradient><linearGradient id="h175" gradientUnits="userSpaceOnUse" x1="642" x2="1103" y1="0" y2="0"><stop offset=".000" stop-color="#302850"/><stop offset=".315" stop-color="#3a3162"/><stop offset=".408" stop-color="#4c4081"/><stop offset=".449" stop-color="#5a54a4"/><stop offset=".482" stop-color="#3683bb"/><stop offset=".486" stop-color="#378dbb"/><stop offset=".503" stop-color="#6ac3a5"/><stop offset=".514" stop-color="#a6dba4"/><stop offset=".521" stop-color="#eaf69e"/><stop offset=".525" stop-color="#fffcbb"/><stop offset=".529" stop-color="#fedc88"/><stop offset=".534" stop-color="#fdab5f"/><stop offset=".542" stop-color="#f26a44"/><stop offset=".555" stop-color="#c82f4c"/><stop offset=".568" stop-color="#aa0e45"/><stop offset=".594" stop-color="#a50944"/><stop offset=".614" stop-color="#be2449"/><stop offset=".631" stop-color="#e1514a"/><stop offset=".644" stop-color="#f57647"/><stop offset=".659" stop-color="#fdaf62"/><stop offset=".670" stop-color="#fee492"/><stop offset=".679" stop-color="#fffcbb"/><stop offset=".685" stop-color="#f5fbaf"/><stop offset=".696" stop-color="#e0f399"/><stop offset=".716" stop-color="#b2e0a3"/><stop offset=".740" stop-color="#a7dba4"/><stop offset=".764" stop-color="#b9e3a1"/><stop offset=".798" stop-color="#e0f399"/><stop offset=".818" stop-color="#d8ef9b"/><stop offset=".870" stop-color="#6ac4a5"/><stop offset=".911" stop-color="#3486bc"/><stop offset=".972" stop-color="#5c51a3"/><stop offset="1" stop-color="#544790"/></linearGradient><linearGradient id="h176" gradientUnits="userSpaceOnUse" x1="644" x2="1104" y1="0" y2="0"><stop offset=".000" stop-color="#302951"/><stop offset=".315" stop-color="#3c3265"/><stop offset=".411" stop-color="#4d4184"/><stop offset=".450" stop-color="#5c52a4"/><stop offset=".483" stop-color="#3b7cb7"/><stop offset=".489" stop-color="#338abc"/><stop offset=".509" stop-color="#6bc4a5"/><stop offset=".520" stop-color="#a6dba4"/><stop offset=".526" stop-color="#e9f69d"/><stop offset=".530" stop-color="#fffdbc"/><stop offset=".535" stop-color="#fede89"/><stop offset=".539" stop-color="#fdac60"/><stop offset=".548" stop-color="#f36b43"/><stop offset=".561" stop-color="#c9304c"/><stop offset=".574" stop-color="#aa0e45"/><stop offset=".600" stop-color="#a40843"/><stop offset=".620" stop-color="#be254a"/><stop offset=".637" stop-color="#e3534a"/><stop offset=".648" stop-color="#f57145"/><stop offset=".665" stop-color="#fdb163"/><stop offset=".678" stop-color="#fee898"/><stop offset=".689" stop-color="#ffffbf"/><stop offset=".713" stop-color="#e7f69a"/><stop offset=".739" stop-color="#e8f69b"/><stop offset=".770" stop-color="#ffffbe"/><stop offset=".796" stop-color="#fee797"/><stop offset=".815" stop-color="#feea9c"/><stop offset=".833" stop-color="#feffbd"/><stop offset=".848" stop-color="#e4f498"/><stop offset=".863" stop-color="#a5dba4"/><stop offset=".896" stop-color="#5ab5aa"/><stop offset=".926" stop-color="#3287bd"/><stop offset=".987" stop-color="#5a54a4"/><stop offset="1" stop-color="#5c4d9f"/></linearGradient><linearGradient id="h177" gradientUnits="userSpaceOnUse" x1="647" x2="1104" y1="0" y2="0"><stop offset=".000" stop-color="#312952"/><stop offset=".313" stop-color="#3d3367"/><stop offset=".411" stop-color="#4e4286"/><stop offset=".451" stop-color="#5c52a3"/><stop offset=".486" stop-color="#3b7cb7"/><stop offset=".492" stop-color="#3389bd"/><stop offset=".512" stop-color="#67c3a5"/><stop offset=".525" stop-color="#b1e0a3"/><stop offset=".530" stop-color="#e3f499"/><stop offset=".534" stop-color="#fcfeba"/><stop offset=".536" stop-color="#fff4ad"/><stop offset=".540" stop-color="#fecf7c"/><stop offset=".545" stop-color="#fba25b"/><stop offset=".551" stop-color="#f57145"/><stop offset=".565" stop-color="#cb334d"/><stop offset=".578" stop-color="#aa0f45"/><stop offset=".604" stop-color="#a20643"/><stop offset=".621" stop-color="#ba2049"/><stop offset=".639" stop-color="#e2514a"/><stop offset=".650" stop-color="#f47145"/><stop offset=".670" stop-color="#fdb96a"/><stop offset=".681" stop-color="#fee391"/><stop offset=".698" stop-color="#ffffbe"/><stop offset=".720" stop-color="#f8fcb3"/><stop offset=".737" stop-color="#fffdbc"/><stop offset=".761" stop-color="#fed985"/><stop offset=".781" stop-color="#fcaa5f"/><stop offset=".805" stop-color="#fa9857"/><stop offset=".827" stop-color="#fdad61"/><stop offset=".845" stop-color="#fee696"/><stop offset=".853" stop-color="#fffebd"/><stop offset=".867" stop-color="#dff299"/><stop offset=".880" stop-color="#a3daa4"/><stop offset=".908" stop-color="#5eb9a9"/><stop offset=".943" stop-color="#3486bc"/><stop offset="1" stop-color="#5857a6"/></linearGradient><linearGradient id="h178" gradientUnits="userSpaceOnUse" x1="651" x2="1105" y1="0" y2="0"><stop offset=".000" stop-color="#312a53"/><stop offset=".311" stop-color="#3e3468"/><stop offset=".412" stop-color="#4f4388"/><stop offset=".452" stop-color="#5b53a4"/><stop offset=".487" stop-color="#3c7cb7"/><stop offset=".493" stop-color="#3288bd"/><stop offset=".513" stop-color="#65c1a5"/><stop offset=".526" stop-color="#abdda4"/><stop offset=".531" stop-color="#ddf19a"/><stop offset=".535" stop-color="#f9fdb6"/><stop offset=".537" stop-color="#fff7b2"/><stop offset=".542" stop-color="#fed380"/><stop offset=".546" stop-color="#fca45d"/><stop offset=".553" stop-color="#f57245"/><stop offset=".566" stop-color="#cc344d"/><stop offset=".579" stop-color="#ab1045"/><stop offset=".604" stop-color="#a30743"/><stop offset=".621" stop-color="#bf254a"/><stop offset=".637" stop-color="#e35449"/><stop offset=".648" stop-color="#f57748"/><stop offset=".665" stop-color="#fdbc6c"/><stop offset=".676" stop-color="#fee593"/><stop offset=".694" stop-color="#fffebe"/><stop offset=".722" stop-color="#fffcba"/><stop offset=".744" stop-color="#fedc88"/><stop offset=".762" stop-color="#fca85e"/><stop offset=".791" stop-color="#f57748"/><stop offset=".811" stop-color="#f57547"/><stop offset=".833" stop-color="#fa9b58"/><stop offset=".841" stop-color="#fdb567"/><stop offset=".855" stop-color="#feec9f"/><stop offset=".861" stop-color="#ffffbe"/><stop offset=".872" stop-color="#e2f399"/><stop offset=".885" stop-color="#a3daa4"/><stop offset=".914" stop-color="#5eb9a9"/><stop offset=".949" stop-color="#3386bc"/><stop offset="1" stop-color="#545ca8"/></linearGradient><linearGradient id="h179" gradientUnits="userSpaceOnUse" x1="655" x2="1105" y1="0" y2="0"><stop offset=".000" stop-color="#322a53"/><stop offset=".309" stop-color="#3e3469"/><stop offset=".411" stop-color="#504389"/><stop offset=".449" stop-color="#5b53a4"/><stop offset=".484" stop-color="#3b7cb7"/><stop offset=".491" stop-color="#3389bd"/><stop offset=".511" stop-color="#66c2a5"/><stop offset=".524" stop-color="#afdfa3"/><stop offset=".529" stop-color="#e2f399"/><stop offset=".533" stop-color="#fbfeb9"/><stop offset=".536" stop-color="#fff4ad"/><stop offset=".540" stop-color="#fece7c"/><stop offset=".542" stop-color="#fdb366"/><stop offset=".551" stop-color="#f46f44"/><stop offset=".564" stop-color="#ca324c"/><stop offset=".578" stop-color="#ac1045"/><stop offset=".600" stop-color="#a40843"/><stop offset=".616" stop-color="#ba2049"/><stop offset=".631" stop-color="#e04e4b"/><stop offset=".642" stop-color="#f57145"/><stop offset=".660" stop-color="#fdb768"/><stop offset=".671" stop-color="#fee492"/><stop offset=".687" stop-color="#fffebd"/><stop offset=".711" stop-color="#fbfdb9"/><stop offset=".720" stop-color="#fffebd"/><stop offset=".742" stop-color="#fedc88"/><stop offset=".760" stop-color="#fca75e"/><stop offset=".789" stop-color="#f57446"/><stop offset=".809" stop-color="#f57245"/><stop offset=".831" stop-color="#fa9857"/><stop offset=".842" stop-color="#fdba6b"/><stop offset=".856" stop-color="#fff0a6"/><stop offset=".860" stop-color="#fffdbc"/><stop offset=".871" stop-color="#e6f598"/><stop offset=".884" stop-color="#a5dba4"/><stop offset=".913" stop-color="#5fbaa8"/><stop offset=".949" stop-color="#3387bd"/><stop offset="1" stop-color="#535da9"/></linearGradient><linearGradient id="h180" gradientUnits="userSpaceOnUse" x1="406" x2="1105" y1="0" y2="0"><stop offset=".000" stop-color="#2e274c"/><stop offset=".481" stop-color="#372e5c"/><stop offset=".592" stop-color="#463a76"/><stop offset=".637" stop-color="#5a4c9b"/><stop offset=".649" stop-color="#5759a7"/><stop offset=".671" stop-color="#3584bb"/><stop offset=".675" stop-color="#3c93b9"/><stop offset=".687" stop-color="#70c6a5"/><stop offset=".694" stop-color="#afdfa3"/><stop offset=".697" stop-color="#e2f399"/><stop offset=".700" stop-color="#fbfeb9"/><stop offset=".701" stop-color="#fff4ad"/><stop offset=".704" stop-color="#fece7c"/><stop offset=".705" stop-color="#fdb366"/><stop offset=".711" stop-color="#f46f44"/><stop offset=".720" stop-color="#ca324c"/><stop offset=".728" stop-color="#ac1045"/><stop offset=".742" stop-color="#a40843"/><stop offset=".753" stop-color="#ba2049"/><stop offset=".763" stop-color="#e04e4b"/><stop offset=".770" stop-color="#f57145"/><stop offset=".781" stop-color="#fdb768"/><stop offset=".788" stop-color="#fee492"/><stop offset=".798" stop-color="#fffebd"/><stop offset=".814" stop-color="#fbfdb9"/><stop offset=".820" stop-color="#fffebd"/><stop offset=".834" stop-color="#fedc88"/><stop offset=".845" stop-color="#fca75e"/><stop offset=".864" stop-color="#f57446"/><stop offset=".877" stop-color="#f57245"/><stop offset=".891" stop-color="#fa9857"/><stop offset=".898" stop-color="#fdba6b"/><stop offset=".907" stop-color="#fff0a6"/><stop offset=".910" stop-color="#fffdbc"/><stop offset=".917" stop-color="#e6f598"/><stop offset=".926" stop-color="#a5dba4"/><stop offset=".944" stop-color="#5fbaa8"/><stop offset=".967" stop-color="#3387bd"/><stop offset="1" stop-color="#535da9"/></linearGradient><linearGradient id="h181" gradientUnits="userSpaceOnUse" x1="406" x2="1105" y1="0" y2="0"><stop offset=".000" stop-color="#2e274c"/><stop offset=".481" stop-color="#372e5c"/><stop offset=".592" stop-color="#463a76"/><stop offset=".637" stop-color="#5a4c9b"/><stop offset=".649" stop-color="#5759a7"/><stop offset=".671" stop-color="#3584bb"/><stop offset=".675" stop-color="#3c93b9"/><stop offset=".687" stop-color="#70c6a5"/><stop offset=".694" stop-color="#afdfa3"/><stop offset=".697" stop-color="#e2f399"/><stop offset=".700" stop-color="#fbfeb9"/><stop offset=".701" stop-color="#fff4ad"/><stop offset=".704" stop-color="#fece7c"/><stop offset=".705" stop-color="#fdb366"/><stop offset=".711" stop-color="#f46f44"/><stop offset=".720" stop-color="#ca324c"/><stop offset=".728" stop-color="#ac1045"/><stop offset=".742" stop-color="#a40843"/><stop offset=".753" stop-color="#ba2049"/><stop offset=".763" stop-color="#e04e4b"/><stop offset=".770" stop-color="#f57145"/><stop offset=".781" stop-color="#fdb768"/><stop offset=".788" stop-color="#fee492"/><stop offset=".798" stop-color="#fffebd"/><stop offset=".814" stop-color="#fbfdb9"/><stop offset=".820" stop-color="#fffebd"/><stop offset=".834" stop-color="#fedc88"/><stop offset=".845" stop-color="#fca75e"/><stop offset=".864" stop-color="#f57446"/><stop offset=".877" stop-color="#f57245"/><stop offset=".891" stop-color="#fa9857"/><stop offset=".898" stop-color="#fdba6b"/><stop offset=".907" stop-color="#fff0a6"/><stop offset=".910" stop-color="#fffdbc"/><stop offset=".917" stop-color="#e6f598"/><stop offset=".926" stop-color="#a5dba4"/><stop offset=".944" stop-color="#5fbaa8"/><stop offset=".967" stop-color="#3387bd"/><stop offset="1" stop-color="#535da9"/></linearGradient><linearGradient id="h182" gradientUnits="userSpaceOnUse" x1="406" x2="1105" y1="0" y2="0"><stop offset=".000" stop-color="#2e274c"/><stop offset=".481" stop-color="#372e5c"/><stop offset=".592" stop-color="#463a76"/><stop offset=".637" stop-color="#5a4c9b"/><stop offset=".649" stop-color="#5759a7"/><stop offset=".671" stop-color="#3584bb"/><stop offset=".675" stop-color="#3c93b9"/><stop offset=".687" stop-color="#70c6a5"/><stop offset=".694" stop-color="#afdfa3"/><stop offset=".697" stop-color="#e2f399"/><stop offset=".700" stop-color="#fbfeb9"/><stop offset=".701" stop-color="#fff4ad"/><stop offset=".704" stop-color="#fece7c"/><stop offset=".705" stop-color="#fdb366"/><stop offset=".711" stop-color="#f46f44"/><stop offset=".720" stop-color="#ca324c"/><stop offset=".728" stop-color="#ac1045"/><stop offset=".742" stop-color="#a40843"/><stop offset=".753" stop-color="#ba2049"/><stop offset=".763" stop-color="#e04e4b"/><stop offset=".770" stop-color="#f57145"/><stop offset=".781" stop-color="#fdb768"/><stop offset=".788" stop-color="#fee492"/><stop offset=".798" stop-color="#fffebd"/><stop offset=".814" stop-color="#fbfdb9"/><stop offset=".820" stop-color="#fffebd"/><stop offset=".834" stop-color="#fedc88"/><stop offset=".845" stop-color="#fca75e"/><stop offset=".864" stop-color="#f57446"/><stop offset=".877" stop-color="#f57245"/><stop offset=".891" stop-color="#fa9857"/><stop offset=".898" stop-color="#fdba6b"/><stop offset=".907" stop-color="#fff0a6"/><stop offset=".910" stop-color="#fffdbc"/><stop offset=".917" stop-color="#e6f598"/><stop offset=".926" stop-color="#a5dba4"/><stop offset=".944" stop-color="#5fbaa8"/><stop offset=".967" stop-color="#3387bd"/><stop offset="1" stop-color="#535da9"/></linearGradient>
<filter id="hblur" x="-5%" y="-5%" width="110%" height="110%"><feGaussianBlur stdDeviation="0 2"/></filter></defs>
<g clip-path="url(#hclip)"><g filter="url(#hblur)"><rect x="406" y="78" width="699" height="4.6" fill="url(#h0)"/><rect x="417" y="82" width="471" height="4.6" fill="url(#h1)"/><rect x="416" y="86" width="474" height="4.6" fill="url(#h2)"/><rect x="416" y="90" width="475" height="4.6" fill="url(#h3)"/><rect x="416" y="94" width="476" height="4.6" fill="url(#h4)"/><rect x="416" y="98" width="478" height="4.6" fill="url(#h5)"/><rect x="415" y="102" width="480" height="4.6" fill="url(#h6)"/><rect x="415" y="106" width="482" height="4.6" fill="url(#h7)"/><rect x="415" y="110" width="483" height="4.6" fill="url(#h8)"/><rect x="415" y="114" width="484" height="4.6" fill="url(#h9)"/><rect x="414" y="118" width="487" height="4.6" fill="url(#h10)"/><rect x="414" y="122" width="488" height="4.6" fill="url(#h11)"/><rect x="414" y="126" width="489" height="4.6" fill="url(#h12)"/><rect x="414" y="130" width="491" height="4.6" fill="url(#h13)"/><rect x="414" y="134" width="492" height="4.6" fill="url(#h14)"/><rect x="413" y="138" width="494" height="4.6" fill="url(#h15)"/><rect x="413" y="142" width="495" height="4.6" fill="url(#h16)"/><rect x="413" y="146" width="496" height="4.6" fill="url(#h17)"/><rect x="413" y="150" width="497" height="4.6" fill="url(#h18)"/><rect x="412" y="154" width="498" height="4.6" fill="url(#h19)"/><rect x="412" y="158" width="499" height="4.6" fill="url(#h20)"/><rect x="412" y="162" width="499" height="4.6" fill="url(#h21)"/><rect x="412" y="166" width="499" height="4.6" fill="url(#h22)"/><rect x="411" y="170" width="500" height="4.6" fill="url(#h23)"/><rect x="411" y="174" width="500" height="4.6" fill="url(#h24)"/><rect x="411" y="178" width="500" height="4.6" fill="url(#h25)"/><rect x="411" y="182" width="500" height="4.6" fill="url(#h26)"/><rect x="411" y="186" width="500" height="4.6" fill="url(#h27)"/><rect x="410" y="190" width="501" height="4.6" fill="url(#h28)"/><rect x="410" y="194" width="501" height="4.6" fill="url(#h29)"/><rect x="410" y="198" width="501" height="4.6" fill="url(#h30)"/><rect x="410" y="202" width="501" height="4.6" fill="url(#h31)"/><rect x="409" y="206" width="502" height="4.6" fill="url(#h32)"/><rect x="409" y="210" width="502" height="4.6" fill="url(#h33)"/><rect x="409" y="214" width="501" height="4.6" fill="url(#h34)"/><rect x="409" y="218" width="501" height="4.6" fill="url(#h35)"/><rect x="408" y="222" width="502" height="4.6" fill="url(#h36)"/><rect x="408" y="226" width="502" height="4.6" fill="url(#h37)"/><rect x="408" y="230" width="501" height="4.6" fill="url(#h38)"/><rect x="408" y="234" width="501" height="4.6" fill="url(#h39)"/><rect x="408" y="238" width="501" height="4.6" fill="url(#h40)"/><rect x="407" y="242" width="501" height="4.6" fill="url(#h41)"/><rect x="407" y="246" width="501" height="4.6" fill="url(#h42)"/><rect x="407" y="250" width="500" height="4.6" fill="url(#h43)"/><rect x="407" y="254" width="500" height="4.6" fill="url(#h44)"/><rect x="406" y="258" width="500" height="4.6" fill="url(#h45)"/><rect x="406" y="262" width="500" height="4.6" fill="url(#h46)"/><rect x="406" y="266" width="499" height="4.6" fill="url(#h47)"/><rect x="406" y="270" width="498" height="4.6" fill="url(#h48)"/><rect x="406" y="274" width="498" height="4.6" fill="url(#h49)"/><rect x="406" y="278" width="498" height="4.6" fill="url(#h50)"/><rect x="406" y="282" width="497" height="4.6" fill="url(#h51)"/><rect x="406" y="286" width="497" height="4.6" fill="url(#h52)"/><rect x="406" y="290" width="496" height="4.6" fill="url(#h53)"/><rect x="406" y="294" width="496" height="4.6" fill="url(#h54)"/><rect x="406" y="298" width="496" height="4.6" fill="url(#h55)"/><rect x="406" y="302" width="496" height="4.6" fill="url(#h56)"/><rect x="406" y="306" width="496" height="4.6" fill="url(#h57)"/><rect x="406" y="310" width="495" height="4.6" fill="url(#h58)"/><rect x="406" y="314" width="495" height="4.6" fill="url(#h59)"/><rect x="406" y="318" width="495" height="4.6" fill="url(#h60)"/><rect x="406" y="322" width="495" height="4.6" fill="url(#h61)"/><rect x="406" y="326" width="495" height="4.6" fill="url(#h62)"/><rect x="406" y="330" width="495" height="4.6" fill="url(#h63)"/><rect x="406" y="334" width="495" height="4.6" fill="url(#h64)"/><rect x="406" y="338" width="495" height="4.6" fill="url(#h65)"/><rect x="406" y="342" width="495" height="4.6" fill="url(#h66)"/><rect x="406" y="346" width="495" height="4.6" fill="url(#h67)"/><rect x="406" y="350" width="495" height="4.6" fill="url(#h68)"/><rect x="406" y="354" width="495" height="4.6" fill="url(#h69)"/><rect x="406" y="358" width="495" height="4.6" fill="url(#h70)"/><rect x="406" y="362" width="495" height="4.6" fill="url(#h71)"/><rect x="406" y="366" width="495" height="4.6" fill="url(#h72)"/><rect x="406" y="370" width="495" height="4.6" fill="url(#h73)"/><rect x="406" y="374" width="495" height="4.6" fill="url(#h74)"/><rect x="406" y="378" width="495" height="4.6" fill="url(#h75)"/><rect x="406" y="382" width="495" height="4.6" fill="url(#h76)"/><rect x="406" y="386" width="495" height="4.6" fill="url(#h77)"/><rect x="406" y="390" width="495" height="4.6" fill="url(#h78)"/><rect x="406" y="394" width="495" height="4.6" fill="url(#h79)"/><rect x="406" y="398" width="495" height="4.6" fill="url(#h80)"/><rect x="406" y="402" width="495" height="4.6" fill="url(#h81)"/><rect x="406" y="406" width="495" height="4.6" fill="url(#h82)"/><rect x="406" y="410" width="495" height="4.6" fill="url(#h83)"/><rect x="406" y="414" width="495" height="4.6" fill="url(#h84)"/><rect x="406" y="418" width="495" height="4.6" fill="url(#h85)"/><rect x="406" y="422" width="495" height="4.6" fill="url(#h86)"/><rect x="406" y="426" width="495" height="4.6" fill="url(#h87)"/><rect x="406" y="430" width="495" height="4.6" fill="url(#h88)"/><rect x="406" y="434" width="495" height="4.6" fill="url(#h89)"/><rect x="406" y="438" width="495" height="4.6" fill="url(#h90)"/><rect x="406" y="442" width="495" height="4.6" fill="url(#h91)"/><rect x="406" y="446" width="495" height="4.6" fill="url(#h92)"/><rect x="406" y="450" width="495" height="4.6" fill="url(#h93)"/><rect x="406" y="454" width="495" height="4.6" fill="url(#h94)"/><rect x="406" y="458" width="495" height="4.6" fill="url(#h95)"/><rect x="406" y="462" width="495" height="4.6" fill="url(#h96)"/><rect x="406" y="466" width="495" height="4.6" fill="url(#h97)"/><rect x="406" y="470" width="495" height="4.6" fill="url(#h98)"/><rect x="406" y="474" width="495" height="4.6" fill="url(#h99)"/><rect x="406" y="478" width="495" height="4.6" fill="url(#h100)"/><rect x="406" y="482" width="495" height="4.6" fill="url(#h101)"/><rect x="406" y="486" width="495" height="4.6" fill="url(#h102)"/><rect x="406" y="490" width="496" height="4.6" fill="url(#h103)"/><rect x="406" y="494" width="496" height="4.6" fill="url(#h104)"/><rect x="406" y="498" width="497" height="4.6" fill="url(#h105)"/><rect x="406" y="502" width="499" height="4.6" fill="url(#h106)"/><rect x="406" y="506" width="500" height="4.6" fill="url(#h107)"/><rect x="406" y="510" width="503" height="4.6" fill="url(#h108)"/><rect x="406" y="514" width="505" height="4.6" fill="url(#h109)"/><rect x="406" y="518" width="508" height="4.6" fill="url(#h110)"/><rect x="406" y="522" width="511" height="4.6" fill="url(#h111)"/><rect x="406" y="526" width="515" height="4.6" fill="url(#h112)"/><rect x="406" y="530" width="519" height="4.6" fill="url(#h113)"/><rect x="406" y="534" width="523" height="4.6" fill="url(#h114)"/><rect x="406" y="538" width="528" height="4.6" fill="url(#h115)"/><rect x="406" y="542" width="533" height="4.6" fill="url(#h116)"/><rect x="406" y="546" width="537" height="4.6" fill="url(#h117)"/><rect x="406" y="550" width="541" height="4.6" fill="url(#h118)"/><rect x="406" y="554" width="544" height="4.6" fill="url(#h119)"/><rect x="409" y="558" width="544" height="4.6" fill="url(#h120)"/><rect x="414" y="562" width="541" height="4.6" fill="url(#h121)"/><rect x="419" y="566" width="537" height="4.6" fill="url(#h122)"/><rect x="425" y="570" width="532" height="4.6" fill="url(#h123)"/><rect x="430" y="574" width="528" height="4.6" fill="url(#h124)"/><rect x="435" y="578" width="524" height="4.6" fill="url(#h125)"/><rect x="441" y="582" width="518" height="4.6" fill="url(#h126)"/><rect x="446" y="586" width="513" height="4.6" fill="url(#h127)"/><rect x="451" y="590" width="509" height="4.6" fill="url(#h128)"/><rect x="456" y="594" width="504" height="4.6" fill="url(#h129)"/><rect x="462" y="598" width="498" height="4.6" fill="url(#h130)"/><rect x="467" y="602" width="494" height="4.6" fill="url(#h131)"/><rect x="472" y="606" width="489" height="4.6" fill="url(#h132)"/><rect x="478" y="610" width="483" height="4.6" fill="url(#h133)"/><rect x="483" y="614" width="479" height="4.6" fill="url(#h134)"/><rect x="488" y="618" width="474" height="4.6" fill="url(#h135)"/><rect x="493" y="622" width="469" height="4.6" fill="url(#h136)"/><rect x="499" y="626" width="463" height="4.6" fill="url(#h137)"/><rect x="504" y="630" width="459" height="4.6" fill="url(#h138)"/><rect x="509" y="634" width="454" height="4.6" fill="url(#h139)"/><rect x="515" y="638" width="448" height="4.6" fill="url(#h140)"/><rect x="520" y="642" width="444" height="4.6" fill="url(#h141)"/><rect x="525" y="646" width="439" height="4.6" fill="url(#h142)"/><rect x="530" y="650" width="435" height="4.6" fill="url(#h143)"/><rect x="536" y="654" width="429" height="4.6" fill="url(#h144)"/><rect x="541" y="658" width="425" height="4.6" fill="url(#h145)"/><rect x="546" y="662" width="421" height="4.6" fill="url(#h146)"/><rect x="552" y="666" width="416" height="4.6" fill="url(#h147)"/><rect x="557" y="670" width="411" height="4.6" fill="url(#h148)"/><rect x="562" y="674" width="407" height="4.6" fill="url(#h149)"/><rect x="567" y="678" width="403" height="4.6" fill="url(#h150)"/><rect x="573" y="682" width="399" height="4.6" fill="url(#h151)"/><rect x="578" y="686" width="395" height="4.6" fill="url(#h152)"/><rect x="583" y="690" width="390" height="2.6" fill="url(#h153)"/><rect x="586" y="692" width="388" height="2.6" fill="url(#h154)"/><rect x="589" y="694" width="386" height="2.6" fill="url(#h155)"/><rect x="591" y="696" width="384" height="2.6" fill="url(#h156)"/><rect x="594" y="698" width="382" height="2.6" fill="url(#h157)"/><rect x="597" y="700" width="380" height="2.6" fill="url(#h158)"/><rect x="599" y="702" width="379" height="2.6" fill="url(#h159)"/><rect x="602" y="704" width="377" height="2.6" fill="url(#h160)"/><rect x="604" y="706" width="376" height="2.6" fill="url(#h161)"/><rect x="607" y="708" width="374" height="2.6" fill="url(#h162)"/><rect x="610" y="710" width="372" height="2.6" fill="url(#h163)"/><rect x="612" y="712" width="373" height="2.6" fill="url(#h164)"/><rect x="615" y="714" width="372" height="2.6" fill="url(#h165)"/><rect x="618" y="716" width="371" height="2.6" fill="url(#h166)"/><rect x="620" y="718" width="372" height="2.6" fill="url(#h167)"/><rect x="623" y="720" width="455" height="2.6" fill="url(#h168)"/><rect x="626" y="722" width="473" height="2.6" fill="url(#h169)"/><rect x="628" y="724" width="472" height="2.6" fill="url(#h170)"/><rect x="631" y="726" width="470" height="2.6" fill="url(#h171)"/><rect x="634" y="728" width="467" height="2.6" fill="url(#h172)"/><rect x="636" y="730" width="466" height="2.6" fill="url(#h173)"/><rect x="639" y="732" width="464" height="2.6" fill="url(#h174)"/><rect x="642" y="734" width="461" height="2.6" fill="url(#h175)"/><rect x="644" y="736" width="460" height="2.6" fill="url(#h176)"/><rect x="647" y="738" width="457" height="2.6" fill="url(#h177)"/><rect x="651" y="740" width="454" height="2.6" fill="url(#h178)"/><rect x="655" y="742" width="450" height="2.6" fill="url(#h179)"/><rect x="406" y="744" width="699" height="2.6" fill="url(#h180)"/><rect x="406" y="746" width="699" height="2.6" fill="url(#h181)"/><rect x="406" y="748" width="699" height="2.6" fill="url(#h182)"/></g></g>
<g fill="#fff" stroke="#000" stroke-width="2.2"><rect x="576.3" y="93.1" width="11" height="11"/><rect x="615.3" y="115.8" width="11" height="11"/><rect x="647.7" y="139.2" width="11" height="11"/><rect x="682.8" y="160.9" width="11" height="11"/><rect x="708.8" y="183.6" width="11" height="11"/><rect x="726.3" y="206.4" width="11" height="11"/><rect x="736" y="228.4" width="11" height="11"/><rect x="747.4" y="251.2" width="11" height="11"/><rect x="755.5" y="273.9" width="11" height="11"/><rect x="764.6" y="296" width="11" height="11"/><rect x="768.5" y="318.7" width="11" height="11"/><rect x="777.6" y="342.1" width="11" height="11"/><rect x="781.5" y="362.5" width="11" height="11"/><rect x="788.3" y="385.9" width="11" height="11"/><rect x="793.2" y="408.1" width="11" height="11"/><rect x="798" y="430.2" width="11" height="11"/><rect x="802.6" y="451.3" width="11" height="11"/><rect x="805.5" y="465.3" width="11" height="11"/><rect x="810.4" y="479.6" width="11" height="11"/><rect x="814.6" y="498.1" width="11" height="11"/><rect x="817.2" y="515.3" width="11" height="11"/><rect x="818.5" y="532.1" width="11" height="11"/><rect x="819.8" y="550.3" width="11" height="11"/><rect x="821.4" y="567.9" width="11" height="11"/><rect x="824.3" y="588.6" width="11" height="11"/><rect x="828.5" y="607.5" width="11" height="11"/><rect x="834.7" y="626.3" width="11" height="11"/><rect x="842.2" y="645.1" width="11" height="11"/><rect x="849.3" y="662.7" width="11" height="11"/><rect x="856.1" y="678.2" width="11" height="11"/><rect x="864.3" y="693.8" width="11" height="11"/><rect x="870.8" y="706.8" width="11" height="11"/><rect x="880.2" y="715.6" width="11" height="11"/><rect x="888" y="720.1" width="11" height="11"/><rect x="894.5" y="724.7" width="11" height="11"/><rect x="905.8" y="719.8" width="11" height="11"/><rect x="924.3" y="729.5" width="11" height="11"/><rect x="1000.9" y="733.1" width="11" height="11"/></g>
<line x1="412.4" y1="86.4" x2="1097.6" y2="86.4" stroke="#000" stroke-width="2"/>
<line x1="412.4" y1="741.6" x2="1097.6" y2="741.6" stroke="#000" stroke-width="2"/>
<line x1="413.4" y1="85.4" x2="413.4" y2="742.6" stroke="#000" stroke-width="2"/>
<line x1="1096.6" y1="85.4" x2="1096.6" y2="742.6" stroke="#000" stroke-width="2"/>
<line x1="475.6" y1="741.6" x2="475.6" y2="749.6" stroke="#000" stroke-width="2"/>
<line x1="649.3" y1="741.6" x2="649.3" y2="749.6" stroke="#000" stroke-width="2"/>
<line x1="823" y1="741.6" x2="823" y2="749.6" stroke="#000" stroke-width="2"/>
<line x1="996.7" y1="741.6" x2="996.7" y2="749.6" stroke="#000" stroke-width="2"/>
<line x1="562.5" y1="741.6" x2="562.5" y2="745.9" stroke="#000" stroke-width="2"/>
<line x1="736.1" y1="741.6" x2="736.1" y2="745.9" stroke="#000" stroke-width="2"/>
<line x1="909.9" y1="741.6" x2="909.9" y2="745.9" stroke="#000" stroke-width="2"/>
<line x1="1083.5" y1="741.6" x2="1083.5" y2="745.9" stroke="#000" stroke-width="2"/>
<text x="475.6" y="789.2" font-size="44" text-anchor="middle" fill="#000">-3.0</text>
<text x="649.3" y="789.2" font-size="44" text-anchor="middle" fill="#000">-1.5</text>
<text x="823" y="789.2" font-size="44" text-anchor="middle" fill="#000">0.0</text>
<text x="996.7" y="789.2" font-size="44" text-anchor="middle" fill="#000">1.5</text>
<line x1="413.4" y1="644.6" x2="405.4" y2="644.6" stroke="#000" stroke-width="2"/>
<line x1="413.4" y1="520.5" x2="405.4" y2="520.5" stroke="#000" stroke-width="2"/>
<line x1="413.4" y1="396.4" x2="405.4" y2="396.4" stroke="#000" stroke-width="2"/>
<line x1="413.4" y1="272.3" x2="405.4" y2="272.3" stroke="#000" stroke-width="2"/>
<line x1="413.4" y1="148.2" x2="405.4" y2="148.2" stroke="#000" stroke-width="2"/>
<line x1="413.4" y1="706.6" x2="409.1" y2="706.6" stroke="#000" stroke-width="2"/>
<line x1="413.4" y1="582.5" x2="409.1" y2="582.5" stroke="#000" stroke-width="2"/>
<line x1="413.4" y1="458.4" x2="409.1" y2="458.4" stroke="#000" stroke-width="2"/>
<line x1="413.4" y1="334.4" x2="409.1" y2="334.4" stroke="#000" stroke-width="2"/>
<line x1="413.4" y1="210.2" x2="409.1" y2="210.2" stroke="#000" stroke-width="2"/>
<line x1="413.4" y1="86.2" x2="409.1" y2="86.2" stroke="#000" stroke-width="2"/>
<text x="399.4" y="657.6" font-size="43.5" text-anchor="end" fill="#000">-0.5</text>
<text x="399.4" y="533.5" font-size="43.5" text-anchor="end" fill="#000">0.0</text>
<text x="399.4" y="409.4" font-size="43.5" text-anchor="end" fill="#000">0.5</text>
<text x="399.4" y="285.4" font-size="43.5" text-anchor="end" fill="#000">1.0</text>
<text x="399.4" y="161.3" font-size="43.5" text-anchor="end" fill="#000">1.5</text>
<text x="295" y="414" font-size="52" text-anchor="middle" fill="#000" transform="rotate(-90 295 414)"><tspan font-family="'Liberation Serif', serif" font-size="52">δ</tspan>V<tspan font-size="35.4" dy="14">R</tspan><tspan font-size="35.4" dy="-36.4">T</tspan><tspan dy="22.4"> (V)</tspan></text>
<text x="754.7" y="868.4" font-size="52" text-anchor="middle" fill="#000"><tspan font-family="'Liberation Serif', serif" font-size="52">δ</tspan>V<tspan font-size="35.4" dy="14">R</tspan><tspan font-size="35.4" dy="-36.4">B</tspan><tspan dy="22.4"> (V)</tspan></text>
<text x="278.7" y="68" font-size="40" text-anchor="start" fill="#000" font-weight="bold">a</text>
<g id="colorbar">
<defs><linearGradient id="cb" x1="0" y1="1" x2="0" y2="0"><stop offset="0" stop-color="#2c2549"/><stop offset="0.1" stop-color="#5e4fa2"/><stop offset="0.2" stop-color="#3288bd"/><stop offset="0.3" stop-color="#66c2a5"/><stop offset="0.4" stop-color="#abdda4"/><stop offset="0.45" stop-color="#e6f598"/><stop offset="0.5" stop-color="#ffffbf"/><stop offset="0.55" stop-color="#fee08b"/><stop offset="0.6" stop-color="#fdae61"/><stop offset="0.7" stop-color="#f46d43"/><stop offset="0.8" stop-color="#d53e4f"/><stop offset="0.9" stop-color="#9e0142"/><stop offset="1" stop-color="#4a0020"/></linearGradient></defs>
<rect x="172.5" y="196" width="16" height="519" fill="url(#cb)"/>
<line x1="172.5" y1="196" x2="172.5" y2="715" stroke="#222" stroke-width="1"/>
<line x1="188.5" y1="196" x2="188.5" y2="715" stroke="#222" stroke-width="1"/>
<line x1="180.5" y1="189" x2="180.5" y2="196" stroke="#222" stroke-width="1"/>
<line x1="180.5" y1="715" x2="180.5" y2="721.5" stroke="#222" stroke-width="1"/>
<text x="166.2" y="113.3" font-size="43" text-anchor="middle" fill="#000">R<tspan font-size="28.4" dy="11.6">xx</tspan><tspan font-size="22.4" fill="#444" font-family="'DejaVu Sans', sans-serif" dx="0.4" dy="-4.3">□</tspan><tspan dy="-7.3" dx="-0.4"> (k</tspan><tspan font-family="'Liberation Serif', serif" font-size="47.3">Ω</tspan>)</text>
<text x="181.8" y="173.4" font-size="43" text-anchor="middle" fill="#000">13.6</text>
<text x="180.5" y="766.3" font-size="43" text-anchor="middle" fill="#000">0.2</text>
</g>
</g>
<g id="panel-b">
<line x1="392.9" y1="941" x2="1099.5" y2="941" stroke="#000" stroke-width="2"/>
<line x1="392.9" y1="1592.4" x2="1099.5" y2="1592.4" stroke="#000" stroke-width="2"/>
<line x1="393.9" y1="940" x2="393.9" y2="1593.4" stroke="#000" stroke-width="2"/>
<line x1="1098.5" y1="940" x2="1098.5" y2="1593.4" stroke="#000" stroke-width="2"/>
<line x1="393.8" y1="1592.4" x2="393.8" y2="1603.2" stroke="#000" stroke-width="2"/>
<line x1="543.5" y1="1592.4" x2="543.5" y2="1603.2" stroke="#000" stroke-width="2"/>
<line x1="693.1" y1="1592.4" x2="693.1" y2="1603.2" stroke="#000" stroke-width="2"/>
<line x1="842.8" y1="1592.4" x2="842.8" y2="1603.2" stroke="#000" stroke-width="2"/>
<line x1="992.4" y1="1592.4" x2="992.4" y2="1603.2" stroke="#000" stroke-width="2"/>
<line x1="468.7" y1="1592.4" x2="468.7" y2="1597.6" stroke="#000" stroke-width="2"/>
<line x1="618.3" y1="1592.4" x2="618.3" y2="1597.6" stroke="#000" stroke-width="2"/>
<line x1="768" y1="1592.4" x2="768" y2="1597.6" stroke="#000" stroke-width="2"/>
<line x1="917.6" y1="1592.4" x2="917.6" y2="1597.6" stroke="#000" stroke-width="2"/>
<line x1="1067.3" y1="1592.4" x2="1067.3" y2="1597.6" stroke="#000" stroke-width="2"/>
<text x="393.8" y="1649.7" font-size="45.5" text-anchor="middle" fill="#000">-3</text>
<text x="543.5" y="1649.7" font-size="45.5" text-anchor="middle" fill="#000">-2</text>
<text x="693.1" y="1649.7" font-size="45.5" text-anchor="middle" fill="#000">-1</text>
<text x="842.8" y="1649.7" font-size="45.5" text-anchor="middle" fill="#000">0</text>
<text x="992.4" y="1649.7" font-size="45.5" text-anchor="middle" fill="#000">1</text>
<line x1="393.9" y1="1592.8" x2="383.1" y2="1592.8" stroke="#000" stroke-width="2"/>
<line x1="393.9" y1="1484.2" x2="383.1" y2="1484.2" stroke="#000" stroke-width="2"/>
<line x1="393.9" y1="1375.7" x2="383.1" y2="1375.7" stroke="#000" stroke-width="2"/>
<line x1="393.9" y1="1267.2" x2="383.1" y2="1267.2" stroke="#000" stroke-width="2"/>
<line x1="393.9" y1="1158.6" x2="383.1" y2="1158.6" stroke="#000" stroke-width="2"/>
<line x1="393.9" y1="1050.1" x2="383.1" y2="1050.1" stroke="#000" stroke-width="2"/>
<line x1="393.9" y1="941.5" x2="383.1" y2="941.5" stroke="#000" stroke-width="2"/>
<line x1="393.9" y1="1538.5" x2="388.7" y2="1538.5" stroke="#000" stroke-width="2"/>
<line x1="393.9" y1="1430" x2="388.7" y2="1430" stroke="#000" stroke-width="2"/>
<line x1="393.9" y1="1321.4" x2="388.7" y2="1321.4" stroke="#000" stroke-width="2"/>
<line x1="393.9" y1="1212.9" x2="388.7" y2="1212.9" stroke="#000" stroke-width="2"/>
<line x1="393.9" y1="1104.3" x2="388.7" y2="1104.3" stroke="#000" stroke-width="2"/>
<line x1="393.9" y1="995.8" x2="388.7" y2="995.8" stroke="#000" stroke-width="2"/>
<text x="376.3" y="1606.5" font-size="45.5" text-anchor="end" fill="#000">-1.0</text>
<text x="376.3" y="1497.9" font-size="45.5" text-anchor="end" fill="#000">-0.5</text>
<text x="376.3" y="1389.4" font-size="45.5" text-anchor="end" fill="#000">0.0</text>
<text x="376.3" y="1280.8" font-size="45.5" text-anchor="end" fill="#000">0.5</text>
<text x="376.3" y="1172.3" font-size="45.5" text-anchor="end" fill="#000">1.0</text>
<text x="376.3" y="1063.7" font-size="45.5" text-anchor="end" fill="#000">1.5</text>
<text x="376.3" y="955.1" font-size="45.5" text-anchor="end" fill="#000">2.0</text>
<text x="272" y="1267" font-size="57" text-anchor="middle" fill="#000" transform="rotate(-90 272 1267)"><tspan font-family="'Liberation Serif', serif" font-size="57">δ</tspan>V<tspan font-size="38.8" dy="15.4">R</tspan><tspan font-size="38.8" dy="-39.9">T</tspan><tspan dy="24.5">(V)</tspan></text>
<text x="746" y="1739.5" font-size="53" text-anchor="middle" fill="#000"><tspan font-family="'Liberation Serif', serif" font-size="53">δ</tspan>V<tspan font-size="36.0" dy="14.3">R</tspan><tspan font-size="36.0" dy="-37.1">B</tspan><tspan dy="22.8"> (V)</tspan></text>
<text x="278" y="872.7" font-size="40" text-anchor="start" fill="#000" font-weight="bold">b</text>
<g fill="none" stroke="#f00" stroke-width="3.8"><circle cx="486.2" cy="964.0" r="6.4"/><circle cx="531.1" cy="985.3" r="6.4"/><circle cx="581.7" cy="1005.7" r="6.4"/><circle cx="623.3" cy="1025.4" r="6.4"/><circle cx="669.0" cy="1045.6" r="6.4"/><circle cx="660.4" cy="1068.7" r="6.4"/><circle cx="680.9" cy="1090.7" r="6.4"/><circle cx="703.0" cy="1062.7" r="6.4"/><circle cx="725.4" cy="1084.5" r="6.4"/><circle cx="739.5" cy="1103.7" r="6.4"/><circle cx="703.0" cy="1112.0" r="6.4"/><circle cx="717.1" cy="1131.9" r="6.4"/><circle cx="729.9" cy="1152.3" r="6.4"/><circle cx="742.7" cy="1176.7" r="6.4"/><circle cx="751.7" cy="1195.9" r="6.4"/><circle cx="764.8" cy="1215.6" r="6.4"/><circle cx="771.2" cy="1234.8" r="6.4"/></g>
<g fill="none" stroke="#000" stroke-width="3.8"><circle cx="404.2" cy="1020.8" r="6.4"/><circle cx="570.5" cy="1032.9" r="6.4"/><circle cx="624.7" cy="1045.6" r="6.4"/><circle cx="667.5" cy="1057.3" r="6.4"/><circle cx="725.4" cy="1062.7" r="6.4"/><circle cx="690.2" cy="1070.0" r="6.4"/><circle cx="704.3" cy="1074.0" r="6.4"/><circle cx="702.8" cy="1084.5" r="6.4"/><circle cx="716.2" cy="1087.7" r="6.4"/><circle cx="754.6" cy="1092.2" r="6.4"/><circle cx="711.4" cy="1099.9" r="6.4"/><circle cx="728.6" cy="1103.7" r="6.4"/><circle cx="718.4" cy="1115.2" r="6.4"/><circle cx="735.7" cy="1120.3" r="6.4"/><circle cx="725.4" cy="1126.7" r="6.4"/><circle cx="777.3" cy="1126.7" r="6.4"/><circle cx="730.3" cy="1140.4" r="6.4"/><circle cx="747.2" cy="1140.4" r="6.4"/><circle cx="737.0" cy="1154.9" r="6.4"/><circle cx="752.7" cy="1156.8" r="6.4"/><circle cx="792.4" cy="1161.6" r="6.4"/><circle cx="744.7" cy="1170.3" r="6.4"/><circle cx="759.1" cy="1173.9" r="6.4"/><circle cx="752.7" cy="1185.3" r="6.4"/><circle cx="765.1" cy="1191.1" r="6.4"/><circle cx="806.1" cy="1196.1" r="6.4"/><circle cx="761.9" cy="1203.6" r="6.4"/><circle cx="772.2" cy="1208.7" r="6.4"/><circle cx="777.0" cy="1225.2" r="6.4"/><circle cx="785.0" cy="1244.0" r="6.4"/><circle cx="790.2" cy="1261.1" r="6.4"/><circle cx="795.5" cy="1278.3" r="6.4"/><circle cx="799.4" cy="1294.1" r="6.4"/><circle cx="803.9" cy="1310.3" r="6.4"/><circle cx="810.0" cy="1325.1" r="6.4"/><circle cx="816.7" cy="1339.8" r="6.4"/><circle cx="825.0" cy="1353.2" r="6.4"/><circle cx="835.2" cy="1364.1" r="6.4"/><circle cx="820.5" cy="1230.7" r="6.4"/><circle cx="818.8" cy="1256.2" r="6.4"/><circle cx="826.0" cy="1284.4" r="6.4"/><circle cx="832.4" cy="1311.0" r="6.4"/><circle cx="835.9" cy="1334.7" r="6.4"/><circle cx="841.6" cy="1351.3" r="6.4"/><circle cx="845.5" cy="1361.6" r="6.4"/><circle cx="841.5" cy="1402.0" r="6.4"/><circle cx="870.2" cy="1402.0" r="6.4"/><circle cx="845.3" cy="1421.6" r="6.4"/><circle cx="851.1" cy="1437.9" r="6.4"/><circle cx="856.2" cy="1454.0" r="6.4"/><circle cx="864.2" cy="1469.0" r="6.4"/><circle cx="864.2" cy="1485.0" r="6.4"/><circle cx="877.0" cy="1487.3" r="6.4"/><circle cx="869.9" cy="1497.8" r="6.4"/><circle cx="885.3" cy="1503.5" r="6.4"/><circle cx="874.4" cy="1508.0" r="6.4"/><circle cx="878.3" cy="1514.4" r="6.4"/><circle cx="893.6" cy="1517.6" r="6.4"/><circle cx="881.5" cy="1520.8" r="6.4"/><circle cx="885.3" cy="1525.9" r="6.4"/><circle cx="889.1" cy="1531.1" r="6.4"/><circle cx="905.1" cy="1531.7" r="6.4"/><circle cx="893.0" cy="1536.8" r="6.4"/><circle cx="896.2" cy="1543.2" r="6.4"/><circle cx="914.5" cy="1542.3" r="6.4"/><circle cx="901.9" cy="1552.2" r="6.4"/><circle cx="914.1" cy="1552.2" r="6.4"/><circle cx="925.0" cy="1550.3" r="6.4"/><circle cx="933.9" cy="1555.4" r="6.4"/><circle cx="942.9" cy="1558.6" r="6.4"/><circle cx="957.6" cy="1554.8" r="6.4"/><circle cx="908.3" cy="1561.8" r="6.4"/><circle cx="911.5" cy="1574.3" r="6.4"/><circle cx="981.6" cy="1563.7" r="6.4"/><circle cx="1081.6" cy="1567.9" r="6.4"/></g>
<g fill="none" stroke="#f00" stroke-width="3.8"><circle cx="717.1" cy="1108.2" r="6.4"/><circle cx="749.1" cy="1124.8" r="6.4"/><circle cx="753.0" cy="1124.2" r="6.4"/><circle cx="761.9" cy="1142.7" r="6.4"/><circle cx="764.5" cy="1144.0" r="6.4"/><circle cx="769.6" cy="1162.0" r="6.4"/><circle cx="774.7" cy="1163.9" r="6.4"/><circle cx="776.7" cy="1180.5" r="6.4"/><circle cx="781.1" cy="1184.4" r="6.4"/><circle cx="784.3" cy="1197.8" r="6.4"/><circle cx="791.4" cy="1204.8" r="6.4"/><circle cx="791.2" cy="1217.9" r="6.4"/><circle cx="799.4" cy="1223.3" r="6.4"/><circle cx="795.8" cy="1235.7" r="6.4"/><circle cx="807.1" cy="1242.5" r="6.4"/><circle cx="802.3" cy="1254.9" r="6.4"/><circle cx="808.3" cy="1273.5" r="6.4"/><circle cx="812.2" cy="1268.1" r="6.4"/><circle cx="813.8" cy="1291.8" r="6.4"/><circle cx="819.2" cy="1310.0" r="6.4"/><circle cx="826.3" cy="1301.4" r="6.4"/><circle cx="824.3" cy="1327.0" r="6.4"/><circle cx="830.1" cy="1343.2" r="6.4"/><circle cx="835.9" cy="1360.3" r="6.4"/><circle cx="843.3" cy="1375.3" r="6.4"/><circle cx="850.6" cy="1389.7" r="6.4"/><circle cx="855.7" cy="1403.8" r="6.4"/><circle cx="861.2" cy="1415.8" r="6.4"/><circle cx="864.4" cy="1428.4" r="6.4"/><circle cx="870.6" cy="1438.3" r="6.4"/><circle cx="873.8" cy="1449.1" r="6.4"/><circle cx="878.3" cy="1460.4" r="6.4"/><circle cx="890.7" cy="1459.4" r="6.4"/><circle cx="885.5" cy="1471.9" r="6.4"/><circle cx="901.9" cy="1472.4" r="6.4"/><circle cx="893.4" cy="1486.5" r="6.4"/><circle cx="916.3" cy="1487.3" r="6.4"/><circle cx="928.2" cy="1500.3" r="6.4"/><circle cx="937.8" cy="1508.7" r="6.4"/><circle cx="946.1" cy="1515.7" r="6.4"/><circle cx="950.6" cy="1520.8" r="6.4"/><circle cx="961.2" cy="1528.8" r="6.4"/><circle cx="971.7" cy="1537.7" r="6.4"/><circle cx="987.3" cy="1546.8" r="6.4"/><circle cx="998.2" cy="1569.9" r="6.4"/></g>
</g>
<g id="panel-c">
<clipPath id="clipC"><rect x="1232.5" y="95.8" width="416.5" height="644.8000000000001"/></clipPath><g clip-path="url(#clipC)">
<polyline points="1231.3,533.2 1238.1,520.8 1240.6,516.1 1247.0,503.8 1249.8,498.4 1255.4,487.8 1259.1,481.1 1263.2,473.8 1268.3,465.3 1270.3,462.2 1276.8,453.4 1277.6,452.4 1282.5,447.4 1286.9,444.1 1287.4,443.8 1291.4,442.0 1294.4,441.4 1295.8,441.3 1296.1,441.3 1297.3,441.4 1300.2,442.1 1304.3,444.3 1305.4,445.2 1309.2,448.7 1314.7,455.8 1314.9,456.1 1321.4,467.0 1323.9,472.0 1328.5,481.5 1333.2,492.1 1336.3,499.4 1342.4,514.4 1344.7,519.9 1351.7,537.4 1353.6,542.1 1361.0,559.8 1363.1,564.8 1370.2,580.7 1373.2,587.0 1379.5,599.8 1383.8,607.9 1388.8,616.9 1394.8,626.9 1398.0,631.8 1406.4,643.6 1407.3,644.8 1416.5,656.0 1418.4,658.1 1425.8,665.7 1430.9,670.4 1435.1,673.9 1443.8,680.6 1444.3,681.0 1453.6,687.1 1457.2,689.2 1462.9,692.3 1471.0,696.2 1472.1,696.7 1481.4,700.5 1485.2,702.0 1490.6,703.9 1499.8,706.7 1499.9,706.7 1509.2,709.2 1514.9,710.6 1518.4,711.4 1527.7,713.3 1530.3,713.8 1537.0,714.9 1546.1,716.4 1546.2,716.4 1555.5,717.6 1562.3,718.5 1564.7,718.8 1574.0,719.8 1578.9,720.3 1583.3,720.7 1592.5,721.5" fill="none" stroke="#000" stroke-width="1.7" stroke-linejoin="round"/>
<polyline points="1231.3,617.3 1233.0,615.8 1240.5,608.5 1243.0,606.0 1249.8,598.6 1252.8,595.1 1259.0,587.3 1262.2,583.0 1268.2,574.3 1271.3,569.6 1277.5,559.3 1280.1,554.7 1286.7,541.9 1288.5,538.2 1295.9,521.6 1296.6,520.1 1304.3,500.6 1305.2,498.1 1311.6,479.9 1314.4,471.5 1318.6,458.8 1323.7,442.6 1325.1,438.0 1331.2,418.6 1332.9,413.3 1336.9,401.4 1342.1,387.3 1342.1,387.2 1346.8,376.6 1351.0,369.2 1351.4,368.6 1354.6,364.8 1357.5,362.6 1359.6,361.9 1360.6,361.8 1360.7,361.8 1361.8,361.9 1363.9,363.1 1366.8,366.4 1369.8,372.0 1370.4,373.3 1374.6,384.7 1379.1,400.3 1379.3,401.2 1384.5,422.9 1388.3,440.2 1390.2,449.0 1396.3,478.3 1397.5,484.2 1402.8,509.0 1406.8,526.7 1409.8,539.6 1416.0,564.4 1417.1,568.5 1424.8,594.8 1425.2,596.1 1432.9,617.9 1434.5,622.0 1441.3,637.7 1443.7,642.7 1450.1,654.4 1453.0,659.1 1459.2,668.2 1462.2,672.1 1468.6,679.5 1471.4,682.4 1478.4,688.7 1480.7,690.6 1488.4,696.2 1489.9,697.1 1498.8,702.2 1499.1,702.3 1508.4,706.6 1509.5,707.1 1517.6,710.1 1520.5,711.0 1526.8,712.9 1531.7,714.2 1536.1,715.2 1543.3,716.8 1545.3,717.2 1554.5,718.8 1555.1,718.9 1563.8,720.2 1567.2,720.7 1573.0,721.4 1579.5,722.1 1582.3,722.4 1591.5,723.2" fill="none" stroke="#000" stroke-width="1.7" stroke-linejoin="round"/>
<polyline points="1231.3,659.7 1233.1,658.8 1240.5,654.8 1242.9,653.5 1249.7,649.4 1252.4,647.7 1258.9,643.5 1261.8,641.5 1268.1,636.9 1271.0,634.7 1277.3,629.6 1280.0,627.4 1286.6,621.5 1288.8,619.4 1295.8,612.4 1297.3,610.8 1305.0,602.2 1305.7,601.3 1313.8,591.0 1314.2,590.5 1321.7,579.8 1323.4,577.2 1329.4,567.5 1332.6,561.9 1336.9,553.9 1341.8,544.0 1344.1,539.0 1351.0,523.0 1351.1,522.7 1357.9,504.8 1360.2,498.1 1364.4,485.4 1369.4,468.7 1370.6,464.5 1376.6,442.3 1378.6,434.3 1382.3,419.2 1387.8,396.0 1387.9,395.6 1392.9,373.2 1397.1,354.9 1397.8,351.8 1402.3,332.6 1406.3,317.3 1406.5,316.4 1410.4,303.4 1413.9,293.8 1415.5,290.2 1417.0,287.3 1419.6,283.5 1421.8,281.6 1423.4,281.0 1424.2,280.9 1424.7,281.0 1425.0,281.1 1426.6,282.7 1428.8,287.4 1431.4,296.8 1433.9,308.9 1434.5,312.3 1438.0,334.8 1441.9,363.9 1443.1,373.8 1446.1,398.4 1450.6,436.4 1452.3,450.4 1455.5,475.5 1460.6,513.5 1461.5,519.8 1466.1,548.8 1470.7,574.9 1471.8,580.2 1477.8,607.3 1479.9,615.8 1484.0,630.1 1489.1,645.3 1490.5,648.9 1497.3,664.3 1498.4,666.4 1504.3,676.7 1507.6,681.6 1511.5,686.7 1516.8,692.6 1519.0,694.7 1526.0,700.7 1526.7,701.2 1534.6,706.3 1535.2,706.7 1542.7,710.5 1544.4,711.2 1551.1,713.8 1553.6,714.7 1559.6,716.5 1562.8,717.4 1568.4,718.7 1572.0,719.5 1577.4,720.5 1581.2,721.1 1586.6,722.0 1590.4,722.5" fill="none" stroke="#000" stroke-width="1.7" stroke-linejoin="round"/>
<polyline points="1231.3,690.3 1240.5,687.7 1249.7,684.9 1258.8,681.8 1268.0,678.4 1277.2,674.7 1286.4,670.7 1293.2,667.4 1295.6,666.3 1299.9,664.0 1304.8,661.4 1306.5,660.4 1313.0,656.6 1313.9,656.0 1319.4,652.5 1323.1,650.1 1325.7,648.3 1331.9,643.8 1332.3,643.5 1337.9,639.1 1341.5,636.2 1343.9,634.2 1349.7,629.0 1350.7,628.1 1355.5,623.5 1359.9,619.1 1361.1,617.8 1366.6,611.7 1369.0,608.8 1372.0,605.2 1377.2,598.4 1378.2,597.1 1382.4,591.1 1387.4,583.4 1387.4,583.3 1392.3,574.9 1396.6,566.8 1397.1,565.8 1401.7,555.9 1405.8,546.2 1406.3,545.0 1410.6,532.9 1414.9,519.4 1414.9,519.2 1419.0,504.4 1423.0,487.8 1424.1,482.4 1426.8,469.3 1430.4,449.0 1433.3,431.3 1434.0,427.1 1437.3,403.9 1440.5,380.0 1442.5,364.6 1443.5,356.3 1446.4,333.7 1449.0,313.1 1451.5,295.5 1451.7,294.4 1453.8,281.3 1455.8,270.7 1457.6,263.6 1459.2,259.3 1460.5,257.2 1460.9,256.8 1461.4,256.5 1461.9,256.4 1462.3,256.6 1463.3,258.2 1464.6,263.0 1466.1,272.7 1467.9,288.6 1470.0,311.6 1470.0,312.2 1472.3,341.4 1474.7,376.8 1477.4,415.7 1479.2,441.9 1480.2,455.9 1483.3,495.0 1486.4,531.2 1488.4,550.7 1489.8,563.5 1493.3,591.5 1497.0,615.1 1497.6,618.4 1500.8,634.6 1504.8,650.7 1506.8,657.4 1508.9,663.7 1513.1,674.3 1515.9,680.1 1517.5,682.9 1522.0,689.9 1525.1,693.8 1526.7,695.5 1531.5,700.2 1534.3,702.5 1536.4,704.0 1541.4,707.2 1543.5,708.4 1546.5,709.9 1551.8,712.1 1552.7,712.5 1557.2,714.0 1561.9,715.5 1562.7,715.7 1568.3,717.1 1571.0,717.7 1574.0,718.3 1579.9,719.4 1580.2,719.4 1585.8,720.3 1589.4,720.8" fill="none" stroke="#000" stroke-width="1.7" stroke-linejoin="round"/>
<polyline points="1231.3,700.6 1240.5,698.8 1249.6,696.8 1258.8,694.6 1267.9,692.2 1277.1,689.6 1286.2,686.8 1295.4,683.7 1304.5,680.3 1313.7,676.5 1322.9,672.4 1332.0,667.9 1341.2,662.9 1349.3,658.1 1350.3,657.5 1354.6,654.8 1359.5,651.5 1359.7,651.4 1364.7,647.8 1368.6,644.9 1369.7,644.1 1374.6,640.3 1377.8,637.7 1379.4,636.3 1384.1,632.3 1386.9,629.7 1388.7,628.1 1393.3,623.7 1396.1,620.9 1397.7,619.2 1402.1,614.6 1405.3,611.1 1406.4,609.8 1410.6,604.8 1414.4,599.9 1414.7,599.5 1418.7,594.0 1422.6,588.1 1423.6,586.6 1426.4,581.9 1430.1,575.1 1432.7,569.8 1433.7,567.6 1437.2,559.4 1440.7,550.2 1441.9,546.5 1444.0,539.8 1447.2,527.9 1450.2,514.3 1451.0,510.5 1453.2,498.9 1456.1,481.3 1458.8,461.5 1460.2,450.3 1461.4,439.8 1463.9,416.4 1466.2,392.2 1468.5,368.1 1469.3,358.4 1470.5,345.4 1472.4,325.3 1474.2,308.6 1475.8,295.9 1477.2,287.2 1478.4,281.9 1478.5,281.7 1479.4,279.3 1480.2,278.5 1480.5,278.4 1480.9,278.5 1481.6,279.6 1482.6,282.8 1483.8,289.4 1485.2,300.4 1486.8,316.6 1487.7,326.4 1488.6,338.2 1490.5,364.9 1492.6,395.7 1494.8,429.1 1496.8,458.7 1497.1,463.4 1499.6,497.2 1502.2,529.0 1505.0,558.0 1506.0,567.6 1507.8,583.8 1510.8,606.2 1513.9,625.4 1515.1,632.0 1517.1,641.5 1520.4,655.0 1523.8,666.2 1524.3,667.6 1527.3,675.4 1530.9,683.1 1533.4,687.6 1534.6,689.5 1538.4,694.8 1542.3,699.3 1542.6,699.5 1546.4,703.0 1550.5,706.1 1551.7,707.0 1554.6,708.8 1558.9,711.0 1560.9,711.9 1563.3,713.0 1567.8,714.6 1570.1,715.4 1572.3,716.1 1576.9,717.3 1579.2,717.9 1581.6,718.5 1586.4,719.4 1588.4,719.8" fill="none" stroke="#000" stroke-width="1.7" stroke-linejoin="round"/>
<polyline points="1231.3,714.3 1240.4,713.4 1249.6,712.4 1258.7,711.3 1267.8,710.1 1276.9,708.8 1286.1,707.4 1295.2,705.9 1304.3,704.2 1313.5,702.3 1322.6,700.2 1331.7,698.0 1340.8,695.5 1350.0,692.7 1359.1,689.6 1368.2,686.3 1377.4,682.5 1386.5,678.4 1395.6,673.9 1401.4,670.8 1404.7,668.9 1405.6,668.4 1409.8,665.9 1413.9,663.4 1413.9,663.4 1417.9,660.8 1421.8,658.2 1423.0,657.3 1425.7,655.4 1429.5,652.6 1432.1,650.7 1433.3,649.8 1437.0,646.9 1440.6,643.9 1441.3,643.3 1444.1,640.8 1447.6,637.6 1450.4,634.8 1451.0,634.3 1454.3,630.8 1457.5,627.1 1459.5,624.7 1460.7,623.2 1463.8,619.0 1466.8,614.5 1468.6,611.3 1469.7,609.4 1472.6,603.8 1475.3,597.4 1477.8,590.8 1478.0,590.2 1480.6,581.8 1483.1,572.3 1485.5,561.3 1486.9,553.8 1487.8,548.8 1490.0,534.6 1492.1,519.0 1494.1,502.3 1496.0,484.8 1496.0,484.7 1497.8,467.5 1499.5,451.1 1501.1,436.5 1502.5,424.5 1503.8,415.3 1504.9,409.0 1505.2,407.9 1505.9,405.2 1506.7,403.3 1507.3,402.7 1507.6,402.6 1507.9,402.7 1508.5,403.6 1509.3,406.2 1510.2,411.6 1511.4,420.5 1512.7,433.4 1514.1,450.6 1514.3,453.0 1515.7,471.6 1517.3,495.3 1519.1,520.6 1521.0,546.2 1523.0,570.8 1523.4,575.0 1525.2,593.6 1527.4,614.0 1529.7,631.7 1532.1,646.9 1532.5,649.5 1534.6,659.7 1537.2,670.3 1539.8,679.1 1541.7,684.1 1542.6,686.3 1545.5,692.3 1548.4,697.2 1550.8,700.5 1551.4,701.3 1554.5,704.6 1557.6,707.5 1559.9,709.2 1560.9,709.9 1564.2,711.9 1567.6,713.6 1569.1,714.3 1571.1,715.1 1574.6,716.4 1578.2,717.5 1578.2,717.5 1581.9,718.5 1585.6,719.4 1587.3,719.7" fill="none" stroke="#000" stroke-width="1.7" stroke-linejoin="round"/>
<polyline points="1377.0,718.3 1384.0,717.7 1390.9,717.0 1397.9,716.2 1404.8,715.4 1411.7,714.5 1418.7,713.4 1425.6,712.3 1432.6,711.0 1434.2,710.7 1439.4,709.6 1439.5,709.6 1444.5,708.4 1446.4,708.0 1449.6,707.2 1453.4,706.1 1454.5,705.8 1459.4,704.4 1460.3,704.1 1464.2,702.8 1467.3,701.7 1468.9,701.1 1473.6,699.3 1474.2,699.0 1478.1,697.3 1481.1,695.9 1482.6,695.2 1486.9,692.9 1488.1,692.2 1491.2,690.3 1495.0,687.9 1495.4,687.6 1499.5,684.5 1502.0,682.5 1503.5,681.2 1507.4,677.4 1508.9,675.9 1511.2,673.2 1515.0,668.4 1515.8,667.2 1518.6,662.9 1522.1,656.5 1522.8,655.1 1525.5,649.1 1528.8,640.4 1529.7,637.6 1532.0,630.0 1535.1,617.7 1536.7,610.4 1538.1,603.2 1540.9,586.3 1543.6,566.9 1543.6,566.6 1546.2,544.3 1548.7,519.8 1550.5,500.0 1551.1,493.7 1553.3,467.3 1555.4,441.9 1557.3,419.0 1557.5,416.9 1559.1,399.9 1560.6,385.2 1562.1,375.1 1563.3,369.0 1564.3,365.9 1564.4,365.6 1565.0,364.9 1565.4,364.8 1565.7,364.9 1566.4,365.8 1567.4,368.5 1568.7,374.1 1570.1,383.3 1571.4,394.0 1571.7,396.7 1573.4,414.3 1575.3,435.6 1577.4,459.6 1578.3,469.9 1579.6,485.0 1582.0,510.6 1584.5,535.2 1585.2,542.3 1587.1,558.0 1589.8,578.7 1592.2,594.2 1592.7,597.1 1595.6,613.1 1598.7,626.9 1599.1,628.6 1601.9,638.9 1605.2,649.2 1606.1,651.5 1608.6,658.0 1612.1,665.6 1613.0,667.3 1615.8,672.2 1619.5,678.0 1619.9,678.6 1623.3,683.0 1626.9,687.0 1627.2,687.4 1631.2,691.2 1633.8,693.4 1635.3,694.6 1639.5,697.6 1640.8,698.5 1643.8,700.3 1647.7,702.5" fill="none" stroke="#000" stroke-width="1.7" stroke-linejoin="round"/>
<polyline points="1382.2,716.3 1389.1,715.5 1395.9,714.8 1402.7,713.9 1409.5,713.0 1416.3,711.9 1423.1,710.8 1429.9,709.5 1436.7,708.1 1443.5,706.6 1448.6,705.3 1450.3,704.8 1454.0,703.8 1457.1,702.9 1459.4,702.2 1463.9,700.7 1464.7,700.4 1469.9,698.6 1470.7,698.2 1475.0,696.5 1477.5,695.4 1480.0,694.3 1484.3,692.2 1485.0,691.9 1489.8,689.3 1491.1,688.5 1494.6,686.4 1498.0,684.2 1499.2,683.3 1503.8,679.9 1504.8,679.2 1508.3,676.2 1511.6,673.2 1512.7,672.0 1517.0,667.4 1518.4,665.8 1521.2,662.3 1525.2,656.7 1525.3,656.5 1529.3,650.0 1532.0,644.9 1533.2,642.5 1537.0,633.8 1538.8,629.0 1540.6,623.7 1544.2,611.8 1545.6,606.5 1547.7,597.8 1551.0,581.1 1552.4,573.1 1554.2,561.4 1557.4,537.9 1559.2,521.5 1560.4,510.4 1563.2,478.5 1566.0,442.3 1566.0,441.3 1568.6,402.4 1571.0,360.0 1572.8,326.6 1573.3,317.0 1575.5,275.7 1577.5,238.5 1579.4,207.4 1579.6,203.2 1581.0,183.5 1582.5,167.0 1583.8,157.0 1584.8,152.1 1585.6,150.4 1586.0,150.2 1586.3,150.3 1586.4,150.4 1587.1,151.1 1588.1,153.3 1589.4,158.0 1590.9,165.9 1592.6,177.8 1593.2,183.4 1594.4,194.0 1596.4,214.7 1598.6,239.5 1600.1,257.1 1600.9,267.9 1603.4,298.8 1606.0,331.1 1606.9,341.7 1608.7,363.7 1611.6,395.6 1613.7,417.2 1614.6,426.1 1617.7,454.6 1620.5,477.4 1620.9,480.8 1624.3,504.6 1627.3,523.4 1627.7,526.0 1631.3,545.1 1634.1,558.1 1635.0,562.0 1638.8,577.1 1640.9,584.7 1642.7,590.5 1646.7,602.4 1647.7,605.2" fill="none" stroke="#000" stroke-width="1.7" stroke-linejoin="round"/>
<polyline points="1387.4,718.5 1394.1,718.0 1400.8,717.4 1407.5,716.8 1414.1,716.2 1420.8,715.4 1427.5,714.6 1434.2,713.8 1440.8,712.8 1447.5,711.7 1454.2,710.6 1460.9,709.2 1462.5,708.9 1467.5,707.8 1468.5,707.6 1474.2,706.2 1474.3,706.2 1480.1,704.6 1480.9,704.4 1485.8,702.9 1487.5,702.3 1491.3,701.1 1494.2,700.0 1496.8,699.0 1500.9,697.4 1502.2,696.9 1507.5,694.4 1507.6,694.4 1512.7,691.8 1514.2,691.0 1517.8,688.9 1520.9,687.0 1522.8,685.7 1527.6,682.3 1527.7,682.2 1532.5,678.3 1534.3,676.7 1537.2,673.9 1540.9,669.9 1541.7,669.0 1546.2,663.5 1547.6,661.6 1550.6,657.2 1554.3,651.0 1554.8,650.0 1558.9,641.6 1560.9,637.0 1563.0,631.9 1566.9,620.6 1567.6,618.0 1570.6,607.1 1574.3,591.2 1574.3,591.2 1577.8,572.3 1581.0,551.7 1581.2,550.0 1584.5,523.9 1587.6,493.6 1587.6,493.0 1590.6,459.3 1593.4,421.6 1594.3,408.5 1596.1,381.5 1598.6,340.9 1601.0,302.0 1601.0,301.8 1603.2,266.7 1605.2,237.3 1607.0,214.8 1607.7,208.1 1608.6,199.2 1610.0,189.7 1611.2,185.1 1612.0,183.5 1612.4,183.3 1612.8,183.4 1613.7,184.0 1614.3,184.9 1614.8,185.8 1616.2,189.5 1617.8,195.7 1619.6,205.1 1621.0,213.9 1621.6,218.1 1623.8,234.9 1626.2,255.4 1627.7,269.2 1628.7,279.2 1631.4,305.6 1634.2,333.8 1634.4,334.9 1637.2,363.0 1640.4,392.3 1641.0,398.3 1643.6,420.9 1647.0,448.2 1647.7,453.5" fill="none" stroke="#000" stroke-width="1.7" stroke-linejoin="round"/>
<polyline points="1390.6,720.6 1397.2,720.2 1403.8,719.8 1410.4,719.4 1416.9,718.9 1423.5,718.4 1430.1,717.9 1436.7,717.3 1443.3,716.6 1449.9,715.9 1456.5,715.1 1463.1,714.3 1469.7,713.4 1476.3,712.3 1477.2,712.2 1482.9,711.2 1483.6,711.0 1489.5,709.9 1490.0,709.8 1496.1,708.5 1496.2,708.5 1502.4,707.0 1502.7,706.9 1508.4,705.4 1509.2,705.1 1514.4,703.6 1515.8,703.1 1520.2,701.6 1522.4,700.8 1525.9,699.5 1529.0,698.2 1531.6,697.1 1535.6,695.2 1537.1,694.5 1542.2,691.8 1542.5,691.6 1547.8,688.4 1548.8,687.7 1553.0,684.8 1555.4,682.9 1558.1,680.7 1562.0,677.2 1563.0,676.2 1567.9,671.0 1568.6,670.2 1572.6,665.1 1575.2,661.5 1577.2,658.4 1581.7,650.6 1581.8,650.4 1586.0,641.5 1588.4,635.8 1590.2,630.9 1594.3,618.3 1595.0,616.1 1598.3,603.5 1601.5,588.6 1602.1,585.9 1605.8,565.1 1608.1,549.4 1609.3,540.8 1612.7,512.8 1614.7,493.3 1615.9,481.0 1619.0,446.0 1621.3,416.6 1621.9,409.0 1624.6,371.4 1627.2,335.4 1627.9,325.5 1629.6,302.9 1631.8,275.7 1633.8,254.9 1634.5,248.1 1635.5,240.5 1637.0,231.8 1638.2,227.5 1639.1,226.1 1639.6,225.9 1640.0,226.0 1640.9,226.6 1641.1,226.8 1642.2,228.5 1643.7,232.5 1645.4,239.2 1647.4,249.3 1647.7,251.1" fill="none" stroke="#000" stroke-width="1.7" stroke-linejoin="round"/>
<polyline points="1361.4,723.7 1368.8,723.4 1376.1,723.1 1383.4,722.7 1390.8,722.3 1398.1,721.9 1405.5,721.4 1412.8,720.8 1420.1,720.2 1427.5,719.5 1434.8,718.6 1442.2,717.7 1449.5,716.6 1452.8,716.1 1456.5,715.4 1456.8,715.4 1460.2,714.7 1463.8,714.0 1464.2,713.9 1467.4,713.2 1470.8,712.4 1471.5,712.2 1474.3,711.5 1477.6,710.5 1478.9,710.1 1481.0,709.4 1484.2,708.3 1486.2,707.5 1487.4,707.0 1490.5,705.6 1493.6,704.1 1493.6,704.1 1496.6,702.5 1499.5,700.6 1500.9,699.6 1502.3,698.5 1505.1,696.1 1507.9,693.4 1508.2,693.0 1510.5,690.3 1513.1,686.8 1515.6,682.7 1515.6,682.6 1518.0,677.9 1520.4,672.3 1522.7,666.0 1522.9,665.2 1524.9,658.6 1527.0,650.3 1529.0,640.9 1530.3,634.7 1531.0,630.6 1532.9,619.4 1534.6,607.9 1536.3,596.2 1537.6,587.2 1537.9,585.0 1539.4,574.8 1540.8,565.9 1542.0,558.8 1543.2,553.5 1544.2,549.9 1544.9,547.9 1545.0,547.7 1545.7,546.6 1546.3,546.3 1546.5,546.2 1546.8,546.3 1547.3,546.9 1548.0,548.8 1548.9,552.5 1549.9,558.7 1551.0,567.6 1552.3,579.1 1552.3,579.1 1553.6,592.8 1555.1,607.9 1556.7,623.4 1558.4,638.6 1559.6,648.5 1560.2,652.6 1562.0,665.1 1564.0,675.9 1566.0,685.0 1567.0,688.6 1568.1,692.6 1570.3,698.7 1572.6,703.8 1574.3,706.7 1575.0,707.8 1577.4,711.1 1579.9,713.8 1581.6,715.2 1582.5,715.9 1585.2,717.7 1587.9,719.1 1589.0,719.6 1590.7,720.3 1593.5,721.3 1596.3,722.1 1596.5,722.1 1599.5,722.8 1602.5,723.4 1603.7,723.6 1605.6,723.9 1608.8,724.3 1611.0,724.5 1612.1,724.6 1615.4,725.0 1618.3,725.2 1618.8,725.2 1622.2,725.5 1625.7,725.7 1625.7,725.7 1629.2,725.9 1632.8,726.0 1633.0,726.0 1636.5,726.2 1640.2,726.3 1640.4,726.3 1647.7,726.5" fill="none" stroke="#00f" stroke-width="1.7" stroke-linejoin="round"/>
</g>
<line x1="1231.5" y1="95.8" x2="1650" y2="95.8" stroke="#000" stroke-width="2"/>
<line x1="1231.5" y1="740.6" x2="1650" y2="740.6" stroke="#000" stroke-width="2"/>
<line x1="1232.5" y1="94.8" x2="1232.5" y2="741.6" stroke="#000" stroke-width="2"/>
<line x1="1649" y1="94.8" x2="1649" y2="741.6" stroke="#000" stroke-width="2"/>
<line x1="1231.3" y1="740.6" x2="1231.3" y2="747.8" stroke="#000" stroke-width="2"/>
<line x1="1335.4" y1="740.6" x2="1335.4" y2="747.8" stroke="#000" stroke-width="2"/>
<line x1="1439.5" y1="740.6" x2="1439.5" y2="747.8" stroke="#000" stroke-width="2"/>
<line x1="1543.6" y1="740.6" x2="1543.6" y2="747.8" stroke="#000" stroke-width="2"/>
<line x1="1647.7" y1="740.6" x2="1647.7" y2="747.8" stroke="#000" stroke-width="2"/>
<line x1="1283.3" y1="740.6" x2="1283.3" y2="744.1" stroke="#000" stroke-width="2"/>
<line x1="1387.4" y1="740.6" x2="1387.4" y2="744.1" stroke="#000" stroke-width="2"/>
<line x1="1491.5" y1="740.6" x2="1491.5" y2="744.1" stroke="#000" stroke-width="2"/>
<line x1="1595.6" y1="740.6" x2="1595.6" y2="744.1" stroke="#000" stroke-width="2"/>
<text x="1231.3" y="782.1" font-size="38.5" text-anchor="middle" fill="#000">-3</text>
<text x="1335.4" y="782.1" font-size="38.5" text-anchor="middle" fill="#000">-2</text>
<text x="1439.5" y="782.1" font-size="38.5" text-anchor="middle" fill="#000">-1</text>
<text x="1543.6" y="782.1" font-size="38.5" text-anchor="middle" fill="#000">0</text>
<text x="1647.7" y="782.1" font-size="38.5" text-anchor="middle" fill="#000">1</text>
<line x1="1232.5" y1="740.6" x2="1226" y2="740.6" stroke="#000" stroke-width="2"/>
<line x1="1232.5" y1="525.6" x2="1226" y2="525.6" stroke="#000" stroke-width="2"/>
<line x1="1232.5" y1="310.6" x2="1226" y2="310.6" stroke="#000" stroke-width="2"/>
<line x1="1232.5" y1="95.6" x2="1226" y2="95.6" stroke="#000" stroke-width="2"/>
<line x1="1232.5" y1="633.1" x2="1229" y2="633.1" stroke="#000" stroke-width="2"/>
<line x1="1232.5" y1="418.1" x2="1229" y2="418.1" stroke="#000" stroke-width="2"/>
<line x1="1232.5" y1="203.1" x2="1229" y2="203.1" stroke="#000" stroke-width="2"/>
<text x="1221.5" y="751.9" font-size="37.5" text-anchor="end" fill="#000">0</text>
<text x="1221.5" y="536.9" font-size="37.5" text-anchor="end" fill="#000">5</text>
<text x="1221.5" y="321.9" font-size="37.5" text-anchor="end" fill="#000">10</text>
<text x="1221.5" y="106.9" font-size="37.5" text-anchor="end" fill="#000">15</text>
<text x="1156.5" y="416.4" font-size="43" text-anchor="middle" fill="#000" transform="rotate(-90 1156.5 416.4)">R<tspan font-size="28.4" dy="11.6">xx</tspan><tspan font-size="22.4" fill="#444" font-family="'DejaVu Sans', sans-serif" dx="0.4" dy="-4.3">□</tspan><tspan dy="-7.3" dx="-0.4"> (k</tspan><tspan font-family="'Liberation Serif', serif" font-size="47.3">Ω</tspan>)</text>
<text x="1440" y="848" font-size="42" text-anchor="middle" fill="#000"><tspan font-family="'Liberation Serif', serif" font-size="42">δ</tspan>V<tspan font-size="28.6" dy="11.3">R</tspan><tspan font-size="28.6" dy="-29.4">B</tspan><tspan dy="18.1"> (V)</tspan></text>
<text x="1151" y="68.5" font-size="40" text-anchor="start" fill="#000" font-weight="bold">c</text>
</g>
<g id="panel-d">
<clipPath id="clipD"><rect x="1819.9" y="103.2" width="429.4000000000001" height="640.0999999999999"/></clipPath><g clip-path="url(#clipD)">
<polyline points="1819.9,347.1 1821.7,343.8 1823.4,340.5 1825.2,337.2 1827.0,334.0 1828.8,330.7 1830.6,327.5 1832.3,324.4 1834.0,321.2 1835.7,318.0 1837.4,314.9 1839.1,311.9 1840.9,309.0 1842.6,306.2 1844.3,303.4 1846.0,300.7 1847.7,298.1 1849.4,295.7 1851.2,293.6 1852.5,291.9 1853.9,290.3 1855.3,288.7 1856.6,287.3 1858.0,286.2 1859.4,285.3 1860.4,284.8 1861.4,284.3 1862.5,283.9 1863.5,283.6 1864.5,283.4 1865.6,283.3 1866.6,283.3 1867.6,283.6 1868.6,283.9 1869.7,284.3 1870.7,284.8 1871.7,285.3 1872.8,286.0 1873.8,287.0 1874.8,288.2 1875.8,289.5 1876.9,291.0 1877.9,292.5 1878.4,293.4 1878.9,294.3 1879.4,295.4 1880.0,296.5 1880.5,297.6 1881.0,298.7 1881.8,300.6 1882.7,302.5 1883.6,304.5 1884.4,306.6 1885.3,308.7 1886.1,311.0 1887.2,314.0 1888.2,317.2 1889.2,320.6 1890.2,324.1 1891.3,327.8 1892.3,331.6 1893.3,335.6 1894.4,339.9 1895.4,344.3 1896.4,348.9 1897.4,353.6 1898.5,358.4 1899.5,363.3 1900.5,368.4 1901.6,373.7 1902.6,379.0 1903.6,384.2 1904.7,389.2 1905.9,394.9 1907.1,400.3 1908.3,405.6 1909.5,411.0 1910.7,416.5 1911.9,422.3 1913.1,428.5 1914.3,434.8 1915.5,441.4 1916.7,448.0 1917.9,454.7 1919.1,461.4 1920.4,469.2 1921.8,477.1 1923.2,485.1 1924.5,493.0 1925.9,501.0 1927.3,508.8 1928.7,516.5 1930.0,524.3 1931.4,532.1 1932.8,539.7 1934.1,547.0 1935.5,554.0 1936.9,560.7 1938.3,567.3 1939.6,573.6 1941.0,579.7 1942.4,585.6 1943.7,591.1 1945.5,597.6 1947.2,603.7 1948.9,609.6 1950.6,615.3 1952.3,620.7 1954.0,626.0 1955.7,631.3 1957.5,636.4 1959.2,641.4 1960.9,646.2 1962.6,650.7 1964.3,654.9 1966.0,658.7 1967.8,662.4 1969.5,665.9 1971.2,669.2 1972.9,672.3 1974.6,675.4 1976.3,678.5 1978.0,681.5 1979.8,684.4 1981.5,687.1 1983.2,689.6 1984.9,691.9 1986.6,693.9 1988.3,695.8 1990.0,697.6 1991.8,699.3 1993.5,700.8 1995.2,702.2 1998.6,704.7 2002.0,707.1 2005.5,709.2 2008.9,711.2 2012.3,712.9 2015.8,714.5 2019.2,716.0 2022.6,717.4 2026.0,718.7 2029.5,719.9 2032.9,720.9 2036.3,721.7 2043.2,723.2 2050.1,724.4 2056.9,725.5 2063.8,726.5 2070.6,727.2 2077.5,727.9 2087.8,728.7 2098.1,729.4 2108.4,730.0 2118.6,730.5 2128.9,731.0 2139.2,731.4 2151.6,731.9 2163.9,732.3 2176.3,732.7 2188.6,733.0 2200.9,733.3 2213.3,733.5" fill="none" stroke="#000" stroke-width="1.7" stroke-linejoin="round"/>
<polyline points="1819.9,549.9 1821.7,546.2 1823.4,542.3 1825.2,538.2 1827.0,534.0 1828.8,529.7 1830.6,525.2 1832.3,520.8 1834.0,516.2 1835.7,511.4 1837.4,506.5 1839.1,501.5 1840.9,496.4 1842.6,491.3 1844.3,486.1 1846.0,480.7 1847.7,475.2 1849.4,469.5 1851.2,463.5 1852.5,458.5 1853.9,453.2 1855.3,447.7 1856.6,442.0 1858.0,436.3 1859.4,430.6 1860.4,426.3 1861.4,422.2 1862.5,418.0 1863.5,413.5 1864.5,408.8 1865.6,403.6 1866.6,397.8 1867.6,391.3 1868.6,384.4 1869.7,377.1 1870.7,369.8 1871.7,362.5 1872.8,355.3 1873.8,348.1 1874.8,340.7 1875.8,333.2 1876.9,325.4 1877.9,317.2 1878.6,311.4 1879.3,305.1 1880.0,298.6 1880.6,292.1 1881.3,285.9 1882.0,280.2 1882.7,274.9 1883.4,269.8 1884.1,264.9 1884.8,260.2 1885.4,255.7 1886.1,251.4 1886.8,247.2 1887.5,243.1 1888.2,239.1 1888.9,235.3 1889.6,231.9 1890.2,228.7 1890.9,225.9 1891.6,223.2 1892.3,220.7 1893.0,218.3 1893.7,216.2 1894.4,214.3 1895.0,212.6 1895.7,211.0 1896.4,209.5 1897.1,208.2 1897.8,207.1 1898.5,206.1 1899.1,205.4 1899.6,204.7 1900.2,204.0 1900.8,203.5 1901.4,203.2 1902.0,203.0 1902.6,203.2 1903.2,203.7 1903.8,204.4 1904.4,205.2 1905.1,206.2 1905.7,207.1 1906.4,208.4 1907.1,210.0 1907.7,211.8 1908.4,213.8 1909.1,216.1 1909.8,218.5 1910.5,221.2 1911.2,224.3 1911.9,227.8 1912.5,231.5 1913.2,235.2 1913.9,239.0 1914.6,242.9 1915.3,247.0 1916.0,251.3 1916.7,255.6 1917.3,259.7 1918.0,263.7 1918.5,266.5 1919.1,269.2 1919.6,271.7 1920.1,274.4 1920.6,277.2 1921.1,280.2 1921.8,284.6 1922.5,289.5 1923.2,294.6 1923.9,299.9 1924.5,305.5 1925.2,311.0 1925.9,316.9 1926.6,323.0 1927.3,329.3 1928.0,335.6 1928.7,342.0 1929.3,348.1 1930.0,354.1 1930.7,360.1 1931.4,366.0 1932.1,371.8 1932.8,377.5 1933.5,383.1 1934.1,388.5 1934.8,393.9 1935.5,399.1 1936.2,404.3 1936.9,409.2 1937.6,413.9 1938.6,420.6 1939.6,426.7 1940.7,432.6 1941.7,438.5 1942.7,444.6 1943.7,451.2 1944.8,458.2 1945.8,465.7 1946.8,473.5 1947.9,481.3 1948.9,489.0 1949.9,496.4 1950.9,503.6 1952.0,510.8 1953.0,517.8 1954.0,524.7 1955.1,531.3 1956.1,537.6 1957.5,545.5 1958.8,553.2 1960.2,560.6 1961.6,567.6 1962.9,574.4 1964.3,580.8 1966.0,588.4 1967.8,595.8 1969.5,602.8 1971.2,609.5 1972.9,615.9 1974.6,621.9 1976.3,627.7 1978.0,633.2 1979.8,638.5 1981.5,643.5 1983.2,648.3 1984.9,652.8 1986.6,657.1 1988.3,661.1 1990.0,665.0 1991.8,668.7 1993.5,672.2 1995.2,675.4 1996.9,678.6 1998.6,681.6 2000.3,684.5 2002.0,687.2 2003.8,689.6 2005.5,691.9 2007.2,693.9 2008.9,695.8 2010.6,697.5 2012.3,699.2 2014.0,700.7 2015.8,702.2 2019.2,705.0 2022.6,707.8 2026.0,710.3 2029.5,712.7 2032.9,714.8 2036.3,716.6 2039.8,718.1 2043.2,719.6 2046.6,720.9 2050.1,722.0 2053.5,723.0 2056.9,723.8 2063.8,725.0 2070.6,726.1 2077.5,727.0 2084.3,727.8 2091.2,728.4 2098.1,728.9 2117.3,730.0 2136.5,731.0 2155.7,731.9 2174.9,732.5 2194.1,732.9 2213.3,733.0" fill="none" stroke="#000" stroke-width="1.7" stroke-linejoin="round"/>
<polyline points="1819.9,664.1 1823.4,662.7 1826.9,661.1 1830.4,659.3 1833.9,657.3 1837.4,655.1 1840.9,652.8 1844.3,650.4 1847.7,647.7 1851.2,644.8 1854.6,641.6 1858.0,638.1 1861.4,634.3 1864.2,630.8 1866.9,627.0 1869.7,622.7 1872.4,618.0 1875.2,612.9 1877.9,607.5 1879.6,603.9 1881.3,600.0 1883.0,595.7 1884.8,591.1 1886.5,586.2 1888.2,580.8 1889.6,576.1 1890.9,571.0 1892.3,565.4 1893.7,559.4 1895.0,552.9 1896.4,545.8 1897.4,540.0 1898.5,533.5 1899.5,526.5 1900.5,519.0 1901.6,511.0 1902.6,502.6 1903.3,496.6 1904.0,490.1 1904.7,483.2 1905.3,476.1 1906.0,468.8 1906.7,461.4 1907.2,455.7 1907.7,449.5 1908.3,443.3 1908.8,437.2 1909.3,431.5 1909.8,426.5 1910.3,422.3 1910.8,418.7 1911.3,415.4 1911.9,412.0 1912.4,408.2 1912.9,403.6 1913.6,395.9 1914.3,386.3 1914.9,375.5 1915.6,364.1 1916.3,352.7 1917.0,341.9 1917.7,331.5 1918.4,321.1 1919.1,310.6 1919.7,300.2 1920.4,290.0 1921.1,280.2 1921.6,272.9 1922.1,265.6 1922.7,258.4 1923.2,251.5 1923.7,245.0 1924.2,239.0 1924.7,233.4 1925.2,228.0 1925.7,222.9 1926.3,218.2 1926.8,213.9 1927.3,210.2 1927.8,206.9 1928.3,203.9 1928.8,201.0 1929.3,198.5 1929.9,196.4 1930.4,194.8 1931.0,193.3 1931.5,191.8 1932.1,190.6 1932.7,189.5 1933.3,188.9 1933.9,188.6 1934.5,188.8 1935.1,189.4 1935.7,190.2 1936.3,191.3 1937.0,192.5 1937.6,193.8 1938.3,195.5 1938.9,197.8 1939.6,200.6 1940.3,203.7 1941.0,206.9 1941.7,210.2 1942.4,213.7 1943.1,217.5 1943.7,221.6 1944.4,225.9 1945.1,230.4 1945.8,234.9 1946.5,239.6 1947.2,244.6 1947.9,249.7 1948.5,255.0 1949.2,260.3 1949.9,265.8 1950.6,271.4 1951.3,277.1 1952.0,283.0 1952.7,288.9 1953.3,294.9 1954.0,300.8 1954.7,306.6 1955.4,312.3 1956.1,318.1 1956.8,323.9 1957.5,329.8 1958.1,335.7 1958.8,341.8 1959.5,348.0 1960.2,354.3 1960.9,360.5 1961.6,366.7 1962.3,372.8 1962.9,378.9 1963.6,385.1 1964.3,391.3 1965.0,397.3 1965.7,402.8 1966.4,407.8 1967.4,414.0 1968.4,419.5 1969.5,424.4 1970.5,429.4 1971.5,434.7 1972.6,440.9 1973.6,448.2 1974.6,456.7 1975.6,465.7 1976.7,475.0 1977.7,484.0 1978.7,492.3 1980.1,502.7 1981.5,512.8 1982.8,522.6 1984.2,532.1 1985.6,541.2 1987.0,549.9 1988.3,558.3 1989.7,566.4 1991.1,574.2 1992.4,581.7 1993.8,588.7 1995.2,595.2 1996.9,602.7 1998.6,609.9 2000.3,616.6 2002.0,622.9 2003.8,628.8 2005.5,634.3 2007.2,639.4 2008.9,644.3 2010.6,648.9 2012.3,653.2 2014.0,657.2 2015.8,661.0 2017.5,664.6 2019.2,667.9 2020.9,671.0 2022.6,674.0 2024.3,676.8 2026.0,679.5 2027.8,682.2 2029.5,684.9 2031.2,687.4 2032.9,689.8 2034.6,692.0 2036.3,694.0 2039.8,697.6 2043.2,700.9 2046.6,704.0 2050.1,706.8 2053.5,709.3 2056.9,711.4 2060.3,713.4 2063.8,715.2 2067.2,716.8 2070.6,718.3 2074.1,719.6 2077.5,720.7 2084.3,722.6 2091.2,724.4 2098.1,725.9 2104.9,727.2 2111.8,728.2 2118.6,728.9 2134.4,730.1 2150.2,731.1 2166.0,731.9 2181.7,732.5 2197.5,732.9 2213.3,733.0" fill="none" stroke="#000" stroke-width="1.7" stroke-linejoin="round"/>
<polyline points="1819.9,711.9 1825.1,711.1 1830.3,710.3 1835.5,709.4 1840.7,708.4 1845.9,707.4 1851.2,706.3 1856.3,705.2 1861.4,704.0 1866.6,702.7 1871.7,701.3 1876.9,699.8 1882.0,698.1 1885.4,696.8 1888.9,695.3 1892.3,693.7 1895.7,692.0 1899.2,690.0 1902.6,687.8 1905.3,685.8 1908.1,683.4 1910.8,680.8 1913.6,677.9 1916.3,674.7 1919.1,671.3 1921.5,668.1 1923.9,664.6 1926.3,660.7 1928.7,656.4 1931.1,651.7 1933.5,646.6 1935.2,642.6 1936.9,638.1 1938.6,633.2 1940.3,627.8 1942.0,622.0 1943.7,615.8 1945.1,610.3 1946.5,604.3 1947.9,597.8 1949.2,590.7 1950.6,583.0 1952.0,574.6 1953.0,567.7 1954.0,560.0 1955.1,551.6 1956.1,542.7 1957.1,533.1 1958.1,523.2 1959.0,514.0 1959.9,503.7 1960.7,492.7 1961.6,481.7 1962.4,471.1 1963.3,461.4 1964.3,450.8 1965.3,440.7 1966.4,431.0 1967.4,421.6 1968.4,412.5 1969.5,403.6 1970.0,399.2 1970.5,394.9 1971.0,390.6 1971.5,386.5 1972.0,382.6 1972.6,379.0 1973.1,375.5 1973.6,372.1 1974.1,368.8 1974.6,365.7 1975.1,362.9 1975.6,360.4 1976.2,358.1 1976.7,355.8 1977.2,353.7 1977.7,351.8 1978.2,350.3 1978.7,349.1 1979.3,348.1 1979.9,347.1 1980.5,346.3 1981.1,345.6 1981.6,345.2 1982.2,345.0 1982.8,345.1 1983.5,345.5 1984.1,346.0 1984.7,346.6 1985.3,347.3 1985.9,348.1 1986.6,349.2 1987.3,350.6 1988.0,352.4 1988.7,354.3 1989.4,356.3 1990.0,358.4 1990.7,360.4 1991.4,362.6 1992.1,365.0 1992.8,367.4 1993.5,370.0 1994.2,372.8 1994.8,375.7 1995.5,379.0 1996.2,382.4 1996.9,385.9 1997.6,389.6 1998.3,393.4 1999.0,397.1 1999.6,401.0 2000.3,404.9 2001.0,409.1 2001.7,413.4 2002.4,418.0 2003.2,424.4 2004.1,431.4 2005.0,438.8 2005.8,446.5 2006.7,454.1 2007.5,461.4 2008.6,470.1 2009.6,478.8 2010.6,487.5 2011.6,496.1 2012.7,504.6 2013.7,512.9 2015.1,523.8 2016.4,534.9 2017.8,545.7 2019.2,556.1 2020.6,565.8 2021.9,574.6 2023.3,582.6 2024.7,590.0 2026.0,597.0 2027.4,603.6 2028.8,609.8 2030.2,615.8 2031.9,622.8 2033.6,629.6 2035.3,636.0 2037.0,642.0 2038.7,647.6 2040.5,652.8 2042.2,657.6 2043.9,662.1 2045.6,666.3 2047.3,670.3 2049.0,674.0 2050.7,677.5 2052.8,681.5 2054.9,685.4 2056.9,689.1 2059.0,692.5 2061.0,695.5 2063.1,698.1 2065.5,700.7 2067.9,703.0 2070.3,705.1 2072.7,707.1 2075.1,708.8 2077.5,710.4 2080.9,712.6 2084.3,714.6 2087.8,716.4 2091.2,718.1 2094.6,719.5 2098.1,720.7 2104.9,722.7 2111.8,724.4 2118.6,725.9 2125.5,727.2 2132.4,728.2 2139.2,728.9 2151.6,730.0 2163.9,731.0 2176.3,731.8 2188.6,732.5 2200.9,732.9 2213.3,733.0" fill="none" stroke="#000" stroke-width="1.7" stroke-linejoin="round"/>
<polyline points="1819.9,718.6 1828.5,718.2 1837.2,717.7 1845.8,717.0 1854.4,716.2 1863.1,715.4 1871.7,714.5 1878.6,713.8 1885.4,713.0 1892.3,712.1 1899.2,711.0 1906.0,709.8 1912.9,708.4 1917.0,707.3 1921.1,705.9 1925.2,704.3 1929.3,702.4 1933.5,700.3 1937.6,698.1 1940.3,696.3 1943.1,694.3 1945.8,692.0 1948.5,689.5 1951.3,686.7 1954.0,683.7 1956.4,680.8 1958.8,677.5 1961.2,673.9 1963.6,669.9 1966.0,665.6 1968.4,661.0 1970.2,657.4 1971.9,653.5 1973.6,649.2 1975.3,644.5 1977.0,639.6 1978.7,634.3 1980.1,629.7 1981.5,624.6 1982.8,619.2 1984.2,613.5 1985.6,607.5 1987.0,601.4 1988.3,594.8 1989.7,587.7 1991.1,580.4 1992.4,572.8 1993.8,565.4 1995.2,558.1 1996.6,551.1 1997.9,543.9 1999.3,536.8 2000.7,529.9 2002.0,523.3 2003.4,517.0 2004.3,513.2 2005.1,509.4 2006.0,505.7 2006.8,502.3 2007.7,499.1 2008.6,496.4 2009.1,494.9 2009.6,493.5 2010.1,492.1 2010.6,490.9 2011.1,490.0 2011.6,489.2 2012.1,488.7 2012.5,488.2 2013.0,487.8 2013.4,487.5 2013.9,487.2 2014.3,487.2 2014.9,487.2 2015.5,487.5 2016.1,487.8 2016.7,488.2 2017.2,488.7 2017.8,489.2 2018.5,490.0 2019.2,491.0 2019.9,492.1 2020.6,493.5 2021.2,494.9 2021.9,496.4 2023.0,498.8 2024.0,501.4 2025.0,504.3 2026.0,507.5 2027.1,511.1 2028.1,514.9 2029.1,519.5 2030.2,524.8 2031.2,530.7 2032.2,537.0 2033.3,543.5 2034.3,549.9 2035.3,556.5 2036.3,563.4 2037.4,570.5 2038.4,577.6 2039.4,584.5 2040.5,591.1 2041.5,597.4 2042.5,603.6 2043.5,609.6 2044.6,615.4 2045.6,620.9 2046.6,626.0 2048.3,634.0 2050.1,641.7 2051.8,648.9 2053.5,655.6 2055.2,661.7 2056.9,667.2 2058.6,672.2 2060.3,676.8 2062.1,681.1 2063.8,685.1 2065.5,688.7 2067.2,691.9 2068.9,694.8 2070.6,697.6 2072.3,700.1 2074.1,702.4 2075.8,704.5 2077.5,706.3 2080.9,709.5 2084.3,712.4 2087.8,715.1 2091.2,717.3 2094.6,719.2 2098.1,720.7 2104.9,723.0 2111.8,725.0 2118.6,726.8 2125.5,728.2 2132.4,729.2 2139.2,730.0 2151.6,730.9 2163.9,731.8 2176.3,732.5 2188.6,733.0 2200.9,733.3 2213.3,733.5" fill="none" stroke="#000" stroke-width="1.7" stroke-linejoin="round"/>
<polyline points="1819.9,733.0 1838.8,733.0 1857.7,732.8 1876.7,732.4 1895.6,732.0 1914.5,731.5 1933.5,731.0 1947.2,730.4 1960.9,729.7 1974.6,728.7 1988.3,727.5 2002.0,726.2 2015.8,724.8 2022.6,724.1 2029.5,723.3 2036.3,722.5 2043.2,721.4 2050.1,720.2 2056.9,718.6 2060.3,717.6 2063.8,716.3 2067.2,714.7 2070.6,712.8 2074.1,710.7 2077.5,708.4 2079.9,706.5 2082.3,704.3 2084.7,701.7 2087.1,698.8 2089.5,695.5 2091.9,691.9 2093.6,688.9 2095.3,685.3 2097.0,681.3 2098.8,676.9 2100.5,672.2 2102.2,667.2 2103.6,663.0 2104.9,658.6 2106.3,653.7 2107.7,648.5 2109.0,642.7 2110.4,636.3 2111.4,631.0 2112.5,624.9 2113.5,618.3 2114.5,611.0 2115.6,603.3 2116.6,595.2 2117.3,589.2 2118.0,582.6 2118.6,575.6 2119.3,568.3 2120.0,561.1 2120.7,554.0 2121.4,546.9 2122.1,539.6 2122.8,532.2 2123.4,525.1 2124.1,518.5 2124.8,512.9 2125.5,507.9 2126.2,503.1 2126.9,498.7 2127.6,494.7 2128.2,491.2 2128.9,488.2 2129.6,485.5 2130.3,483.0 2131.0,480.8 2131.7,478.8 2132.4,477.1 2133.0,475.8 2134.1,474.3 2135.1,472.9 2136.1,471.7 2137.2,470.8 2138.2,470.1 2139.2,469.7 2140.6,469.4 2142.0,469.1 2143.3,468.9 2144.7,468.8 2146.1,468.7 2147.4,468.6 2149.2,468.7 2150.9,468.8 2152.6,468.9 2154.3,469.1 2156.0,469.4 2157.7,469.7 2158.6,470.0 2159.5,470.8 2160.3,471.8 2161.2,473.0 2162.0,474.4 2162.9,475.8 2163.6,477.2 2164.3,479.0 2164.9,481.0 2165.6,483.2 2166.3,485.7 2167.0,488.2 2167.7,491.0 2168.4,494.1 2169.1,497.5 2169.7,501.1 2170.4,504.9 2171.1,508.8 2172.0,514.0 2172.8,519.8 2173.7,525.8 2174.5,532.0 2175.4,538.0 2176.3,543.7 2177.3,550.3 2178.3,556.9 2179.3,563.3 2180.4,569.5 2181.4,575.4 2182.4,580.8 2183.8,587.5 2185.2,593.8 2186.5,599.8 2187.9,605.4 2189.3,610.8 2190.7,615.8 2192.4,621.7 2194.1,627.3 2195.8,632.6 2197.5,637.6 2199.2,642.3 2200.9,646.6 2203.0,651.5 2205.1,656.0 2207.1,660.3 2209.2,664.2 2211.2,667.9 2213.3,671.3 2215.7,675.0 2218.1,678.6 2220.5,681.9 2222.9,684.9 2225.3,687.6 2227.7,689.8 2231.3,692.9 2234.9,695.7 2238.5,698.2 2242.1,700.4 2245.7,702.1 2249.3,703.2" fill="none" stroke="#000" stroke-width="1.7" stroke-linejoin="round"/>
<polyline points="1819.9,734.1 1852.5,733.8 1885.2,733.2 1917.8,732.1 1950.5,730.7 1983.1,728.9 2015.8,726.9 2024.3,726.2 2032.9,725.2 2041.5,724.0 2050.1,722.5 2058.6,720.7 2067.2,718.6 2070.6,717.6 2074.1,716.3 2077.5,714.7 2080.9,712.8 2084.3,710.7 2087.8,708.4 2090.5,706.1 2093.3,703.3 2096.0,700.1 2098.8,696.4 2101.5,692.3 2104.2,687.8 2106.3,684.0 2108.4,679.8 2110.4,675.0 2112.5,669.6 2114.5,663.6 2116.6,656.9 2118.0,651.7 2119.3,645.6 2120.7,638.7 2122.1,631.4 2123.4,623.6 2124.8,615.8 2125.8,609.8 2126.9,603.5 2127.9,597.0 2128.9,590.0 2130.0,582.6 2131.0,574.6 2131.8,567.3 2132.7,559.4 2133.6,550.9 2134.4,541.9 2135.3,532.7 2136.1,523.2 2136.8,515.2 2137.5,506.8 2138.2,498.0 2138.9,489.1 2139.6,480.3 2140.2,471.7 2140.8,465.2 2141.3,458.4 2141.8,451.6 2142.3,445.2 2142.8,439.5 2143.3,434.7 2144.0,429.6 2144.7,425.3 2145.4,421.5 2146.1,417.8 2146.8,414.1 2147.4,409.8 2148.0,406.1 2148.5,402.1 2149.0,398.0 2149.5,394.0 2150.0,390.3 2150.5,387.2 2151.0,384.4 2151.6,381.7 2152.1,379.2 2152.6,377.0 2153.1,375.2 2153.6,373.8 2154.2,372.5 2154.9,371.3 2155.5,370.2 2156.1,369.4 2156.7,368.9 2157.3,368.7 2157.9,368.8 2158.5,369.2 2159.1,369.7 2159.7,370.3 2160.2,371.0 2160.8,371.7 2161.5,372.7 2162.2,373.9 2162.9,375.3 2163.6,376.7 2164.3,377.9 2164.9,379.0 2165.6,379.8 2166.3,380.7 2167.0,381.5 2167.7,382.1 2168.4,382.7 2169.1,383.1 2169.7,383.3 2170.4,383.6 2171.1,383.8 2171.8,383.9 2172.5,384.1 2173.2,384.1 2174.0,384.0 2174.9,383.6 2175.7,383.1 2176.6,382.4 2177.5,381.7 2178.3,381.0 2179.2,380.2 2180.0,379.2 2180.9,378.1 2181.7,377.0 2182.6,375.8 2183.5,374.8 2184.3,373.9 2185.2,372.9 2186.0,372.0 2186.9,371.1 2187.7,370.3 2188.6,369.7 2189.1,369.4 2189.6,369.0 2190.1,368.7 2190.7,368.5 2191.2,368.3 2191.7,368.3 2192.2,368.4 2192.7,368.8 2193.2,369.3 2193.7,370.1 2194.3,370.9 2194.8,371.7 2195.3,372.9 2195.8,374.4 2196.3,376.3 2196.8,378.4 2197.3,380.7 2197.9,383.1 2198.4,385.7 2198.9,388.7 2199.4,392.1 2199.9,395.7 2200.4,399.6 2200.9,403.6 2201.4,407.2 2201.8,411.2 2202.2,415.5 2202.6,419.9 2203.0,424.2 2203.4,428.3 2204.4,437.6 2205.3,446.9 2206.3,456.0 2207.3,464.9 2208.2,473.6 2209.2,482.0 2210.0,489.3 2210.9,496.5 2211.7,503.5 2212.6,510.2 2213.5,516.8 2214.3,523.2 2215.5,531.9 2216.7,540.4 2217.9,548.7 2219.1,556.6 2220.3,563.9 2221.5,570.5 2222.9,577.3 2224.3,583.6 2225.6,589.5 2227.0,595.1 2228.4,600.4 2229.8,605.5 2231.1,610.4 2232.5,615.3 2233.9,619.9 2235.2,624.2 2236.6,628.4 2238.0,632.2 2239.9,637.2 2241.8,642.0 2243.6,646.5 2245.5,650.7 2247.4,654.5 2249.3,657.9" fill="none" stroke="#000" stroke-width="1.7" stroke-linejoin="round"/>
<polyline points="1819.9,734.7 1862.8,734.4 1905.7,733.4 1948.7,731.8 1991.6,729.5 2034.6,726.5 2077.5,722.8 2082.6,722.1 2087.8,721.0 2092.9,719.7 2098.1,718.2 2103.2,716.4 2108.4,714.5 2111.8,713.1 2115.2,711.4 2118.6,709.5 2122.1,707.4 2125.5,704.9 2128.9,702.2 2131.3,700.0 2133.7,697.5 2136.1,694.6 2138.5,691.3 2140.9,687.7 2143.3,683.7 2145.0,680.4 2146.8,676.7 2148.5,672.5 2150.2,667.8 2151.9,662.6 2153.6,656.9 2155.0,651.8 2156.4,645.8 2157.7,639.2 2159.1,632.0 2160.5,624.1 2161.9,615.8 2162.7,610.2 2163.6,604.1 2164.4,597.5 2165.3,590.4 2166.1,582.8 2167.0,574.6 2167.7,567.5 2168.4,559.7 2169.1,551.2 2169.7,542.3 2170.4,532.9 2171.1,523.2 2171.6,515.6 2172.1,507.5 2172.7,499.1 2173.2,490.3 2173.7,481.2 2174.2,471.7 2174.9,458.7 2175.6,445.1 2176.3,430.9 2176.9,415.9 2177.6,400.0 2178.3,383.1 2178.7,373.4 2179.0,362.6 2179.3,351.2 2179.7,340.0 2180.0,329.8 2180.4,321.3 2180.8,312.8 2181.2,304.9 2181.6,297.8 2182.0,291.3 2182.4,285.4 2182.8,280.2 2183.3,275.0 2183.7,270.2 2184.2,265.8 2184.6,261.8 2185.1,258.4 2185.5,255.5 2185.9,253.2 2186.3,251.1 2186.7,249.3 2187.2,247.6 2187.6,246.3 2188.0,245.2 2188.3,244.5 2188.7,243.7 2189.0,243.1 2189.4,242.6 2189.7,242.2 2190.0,242.1 2190.5,242.3 2190.9,242.9 2191.4,243.8 2191.8,244.9 2192.3,246.0 2192.7,247.3 2193.2,248.9 2193.7,251.1 2194.3,253.6 2194.8,256.3 2195.3,259.0 2195.8,261.7 2196.3,264.3 2196.8,267.2 2197.3,270.0 2197.9,272.9 2198.4,275.6 2198.9,278.1 2199.6,281.2 2200.3,284.3 2200.9,287.1 2201.6,289.8 2202.3,292.3 2203.0,294.6 2203.7,296.7 2204.4,298.7 2205.1,300.6 2205.7,302.3 2206.4,303.7 2207.1,304.9 2207.8,305.9 2208.5,306.8 2209.2,307.7 2209.9,308.4 2210.5,308.8 2211.2,309.0 2211.9,309.0 2212.6,308.9 2213.3,308.7 2214.0,308.5 2214.7,308.2 2215.3,308.0 2216.2,307.4 2217.1,306.5 2217.9,305.2 2218.8,303.8 2219.6,302.3 2220.5,300.8 2221.4,299.1 2222.2,297.2 2223.1,295.1 2223.9,292.9 2224.8,290.7 2225.6,288.4 2226.5,286.0 2227.4,283.4 2228.2,280.8 2229.1,278.2 2229.9,275.9 2230.8,274.0 2231.4,272.9 2231.9,271.7 2232.5,270.6 2233.1,269.7 2233.7,269.1 2234.3,268.9 2234.7,269.1 2235.2,269.6 2235.6,270.5 2236.1,271.5 2236.5,272.7 2237.0,274.0 2237.5,275.8 2238.0,278.3 2238.5,281.2 2239.0,284.7 2239.5,288.5 2240.0,292.5 2240.6,297.2 2241.1,302.9 2241.6,309.3 2242.1,316.3 2242.6,323.8 2243.1,331.6 2243.6,339.0 2244.0,347.2 2244.5,355.9 2244.9,365.0 2245.4,374.1 2245.8,383.1 2246.1,390.0 2246.5,397.3 2246.8,404.6 2247.2,411.7 2247.5,418.3 2247.9,424.2 2248.2,429.0 2248.5,433.6 2248.8,437.9 2249.1,441.9 2249.4,445.6 2249.7,448.9" fill="none" stroke="#000" stroke-width="1.7" stroke-linejoin="round"/>
<polyline points="1819.9,735.1 1869.7,734.9 1919.5,734.2 1969.3,732.9 2019.1,731.0 2068.8,728.3 2118.6,724.8 2123.8,724.1 2128.9,722.9 2134.1,721.2 2139.2,719.2 2144.4,717.0 2149.5,714.5 2152.9,712.7 2156.4,710.6 2159.8,708.1 2163.2,705.2 2166.7,701.9 2170.1,698.1 2172.1,695.4 2174.2,692.1 2176.3,688.3 2178.3,683.9 2180.4,678.9 2182.4,673.4 2183.8,669.0 2185.2,663.9 2186.5,658.0 2187.9,651.4 2189.3,644.1 2190.7,636.3 2191.5,631.0 2192.4,625.1 2193.2,618.6 2194.1,611.5 2194.9,603.7 2195.8,595.2 2196.4,588.4 2197.0,580.8 2197.7,572.5 2198.3,563.5 2198.9,553.9 2199.5,543.7 2199.9,536.5 2200.3,528.8 2200.7,520.4 2201.2,511.6 2201.6,502.2 2202.0,492.3 2202.3,483.1 2202.7,472.7 2203.0,461.8 2203.3,450.8 2203.7,440.2 2204.0,430.6 2204.4,422.1 2204.7,414.3 2205.1,406.8 2205.4,399.4 2205.7,391.6 2206.1,383.1 2206.4,373.4 2206.8,362.8 2207.1,351.7 2207.5,340.7 2207.8,330.4 2208.1,321.3 2208.5,313.4 2208.8,306.0 2209.2,299.0 2209.5,292.4 2209.9,286.2 2210.2,280.2 2210.5,274.5 2210.9,269.1 2211.2,263.9 2211.6,259.0 2211.9,254.1 2212.3,249.3 2212.6,244.6 2212.9,240.0 2213.3,235.4 2213.6,231.0 2214.0,226.7 2214.3,222.6 2214.7,218.5 2215.0,214.5 2215.3,210.6 2215.7,206.8 2216.0,203.3 2216.4,199.9 2216.7,196.7 2217.1,193.6 2217.4,190.6 2217.8,187.8 2218.1,185.4 2218.4,183.5 2218.8,181.6 2219.3,179.8 2219.7,178.2 2220.1,176.9 2220.5,175.9 2220.9,175.2 2221.4,174.9 2221.8,174.5 2222.2,174.2 2222.7,174.0 2223.1,173.9 2223.6,173.8 2224.0,174.0 2224.4,174.7 2224.8,175.7 2225.2,176.8 2225.6,178.1 2226.0,179.4 2226.5,180.9 2226.9,182.8 2227.4,184.9 2227.8,187.1 2228.3,189.5 2228.7,191.7 2229.2,194.3 2229.8,197.0 2230.3,199.8 2230.8,202.6 2231.3,205.4 2231.8,208.2 2232.3,211.0 2232.8,213.9 2233.4,216.8 2233.9,219.6 2234.4,222.3 2234.9,224.6 2235.6,227.5 2236.3,230.1 2237.0,232.6 2237.6,234.9 2238.3,237.1 2239.0,239.0 2239.5,240.4 2240.0,241.7 2240.6,242.9 2241.1,244.1 2241.6,245.2 2242.1,246.2 2242.6,247.3 2243.1,248.3 2243.6,249.2 2244.2,250.1 2244.7,251.0 2245.2,251.8" fill="none" stroke="#000" stroke-width="1.7" stroke-linejoin="round"/>
<polyline points="1819.9,727.9 1828.5,727.8 1837.2,727.6 1845.8,727.5 1854.4,727.3 1863.1,727.1 1871.7,726.9 1882.0,726.6 1892.3,726.3 1902.6,726.1 1912.9,725.7 1923.2,725.3 1933.5,724.8 1940.3,724.4 1947.2,723.8 1954.0,723.1 1960.9,722.3 1967.8,721.5 1974.6,720.7 1981.5,719.9 1988.3,719.0 1995.2,718.1 2002.0,717.0 2008.9,715.9 2015.8,714.5 2019.2,713.8 2022.6,712.9 2026.0,712.0 2029.5,710.9 2032.9,709.7 2036.3,708.4 2039.1,707.1 2041.8,705.6 2044.6,704.0 2047.3,702.1 2050.1,700.1 2052.8,698.1 2055.2,696.1 2057.6,693.9 2060.0,691.6 2062.4,689.1 2064.8,686.4 2067.2,683.7 2068.9,681.6 2070.6,679.3 2072.3,677.0 2074.1,674.5 2075.8,671.9 2077.5,669.3 2079.2,666.5 2080.9,663.5 2082.6,660.4 2084.3,657.2 2086.1,654.0 2087.8,650.7 2089.1,648.0 2090.5,645.0 2091.9,642.0 2093.3,639.1 2094.6,636.5 2096.0,634.3 2096.9,633.1 2097.7,631.9 2098.6,630.8 2099.4,629.9 2100.3,629.1 2101.2,628.5 2101.7,628.3 2102.2,628.0 2102.7,627.8 2103.2,627.6 2103.7,627.5 2104.2,627.5 2104.9,627.5 2105.6,627.6 2106.3,627.8 2107.0,628.0 2107.7,628.3 2108.4,628.5 2109.4,629.1 2110.4,630.0 2111.4,631.2 2112.5,632.5 2113.5,633.9 2114.5,635.3 2115.9,637.4 2117.3,639.9 2118.6,642.5 2120.0,645.3 2121.4,648.1 2122.8,650.7 2124.5,653.9 2126.2,657.1 2127.9,660.2 2129.6,663.3 2131.3,666.3 2133.0,669.3 2134.8,672.2 2136.5,675.1 2138.2,677.9 2139.9,680.7 2141.6,683.3 2143.3,685.7 2145.4,688.5 2147.4,691.1 2149.5,693.6 2151.6,696.0 2153.6,698.2 2155.7,700.1 2158.1,702.2 2160.5,704.1 2162.9,705.9 2165.3,707.6 2167.7,709.1 2170.1,710.4 2173.5,712.1 2176.9,713.7 2180.4,715.2 2183.8,716.5 2187.2,717.6 2190.7,718.6 2194.1,719.5 2197.5,720.3 2200.9,721.0 2204.4,721.6 2207.8,722.2 2211.2,722.8 2214.7,723.3 2218.1,723.8 2221.5,724.2 2225.0,724.6 2228.4,725.0 2231.8,725.2 2233.9,725.4 2235.9,725.5 2238.0,725.6 2240.0,725.7 2242.1,725.8 2244.2,725.8" fill="none" stroke="#00f" stroke-width="1.7" stroke-linejoin="round"/>
</g>
<line x1="1818.9" y1="103.2" x2="2250.3" y2="103.2" stroke="#000" stroke-width="2"/>
<line x1="1818.9" y1="743.3" x2="2250.3" y2="743.3" stroke="#000" stroke-width="2"/>
<line x1="1819.9" y1="102.2" x2="1819.9" y2="744.3" stroke="#000" stroke-width="2"/>
<line x1="2249.3" y1="102.2" x2="2249.3" y2="744.3" stroke="#000" stroke-width="2"/>
<line x1="1820" y1="743.3" x2="1820" y2="750.5" stroke="#000" stroke-width="2"/>
<line x1="1962.8" y1="743.3" x2="1962.8" y2="750.5" stroke="#000" stroke-width="2"/>
<line x1="2105.7" y1="743.3" x2="2105.7" y2="750.5" stroke="#000" stroke-width="2"/>
<line x1="2248.5" y1="743.3" x2="2248.5" y2="750.5" stroke="#000" stroke-width="2"/>
<line x1="1891.4" y1="743.3" x2="1891.4" y2="746.8" stroke="#000" stroke-width="2"/>
<line x1="2034.3" y1="743.3" x2="2034.3" y2="746.8" stroke="#000" stroke-width="2"/>
<line x1="2177.1" y1="743.3" x2="2177.1" y2="746.8" stroke="#000" stroke-width="2"/>
<text x="1820" y="783.9" font-size="36.3" text-anchor="middle" fill="#000">-1.0</text>
<text x="1962.8" y="783.9" font-size="36.3" text-anchor="middle" fill="#000">-0.5</text>
<text x="2105.7" y="783.9" font-size="36.3" text-anchor="middle" fill="#000">0.0</text>
<text x="2248.5" y="783.9" font-size="36.3" text-anchor="middle" fill="#000">0.5</text>
<line x1="1819.9" y1="743.3" x2="1813.4" y2="743.3" stroke="#000" stroke-width="2"/>
<line x1="1819.9" y1="597.9" x2="1813.4" y2="597.9" stroke="#000" stroke-width="2"/>
<line x1="1819.9" y1="452.6" x2="1813.4" y2="452.6" stroke="#000" stroke-width="2"/>
<line x1="1819.9" y1="307.2" x2="1813.4" y2="307.2" stroke="#000" stroke-width="2"/>
<line x1="1819.9" y1="161.9" x2="1813.4" y2="161.9" stroke="#000" stroke-width="2"/>
<line x1="1819.9" y1="670.6" x2="1816.4" y2="670.6" stroke="#000" stroke-width="2"/>
<line x1="1819.9" y1="525.3" x2="1816.4" y2="525.3" stroke="#000" stroke-width="2"/>
<line x1="1819.9" y1="379.9" x2="1816.4" y2="379.9" stroke="#000" stroke-width="2"/>
<line x1="1819.9" y1="234.6" x2="1816.4" y2="234.6" stroke="#000" stroke-width="2"/>
<text x="1808.4" y="754.4" font-size="37" text-anchor="end" fill="#000">0</text>
<text x="1808.4" y="609" font-size="37" text-anchor="end" fill="#000">5</text>
<text x="1808.4" y="463.7" font-size="37" text-anchor="end" fill="#000">10</text>
<text x="1808.4" y="318.3" font-size="37" text-anchor="end" fill="#000">15</text>
<text x="1808.4" y="173" font-size="37" text-anchor="end" fill="#000">20</text>
<text x="1745" y="422.1" font-size="42.4" text-anchor="middle" fill="#000" transform="rotate(-90 1745 422.1)">R<tspan font-size="28.0" dy="11.4">xx</tspan><tspan font-size="22.0" fill="#444" font-family="'DejaVu Sans', sans-serif" dx="0.4" dy="-4.2">□</tspan><tspan dy="-7.2" dx="-0.4"> (k</tspan><tspan font-family="'Liberation Serif', serif" font-size="46.6">Ω</tspan>)</text>
<text x="2034.7" y="850.4" font-size="45.4" text-anchor="middle" fill="#000"><tspan font-family="'Liberation Serif', serif" font-size="45.4">δ</tspan>V<tspan font-size="30.9" dy="12.3">R</tspan><tspan font-size="30.9" dy="-31.8">B</tspan><tspan dy="19.5"> (V)</tspan></text>
<text x="1730.5" y="68.5" font-size="40" text-anchor="start" fill="#000" font-weight="bold">d</text>
</g>
<g id="panel-e">
<clipPath id="clipE"><rect x="1245.4" y="944.6" width="346.6999999999998" height="637.4"/></clipPath><g clip-path="url(#clipE)">
<polyline points="1245.4,1504.6 1250.3,1504.2 1255.2,1503.9 1260.1,1503.5 1265.0,1503.1 1270.0,1502.6 1274.9,1502.2 1279.9,1501.8 1284.8,1501.3 1289.8,1500.9 1294.8,1500.4 1299.8,1499.8 1304.8,1499.2 1309.8,1498.5 1314.7,1497.7 1319.7,1496.7 1324.7,1495.6 1329.7,1494.5 1334.7,1493.2 1338.0,1492.3 1341.3,1491.3 1344.6,1490.2 1348.0,1489.0 1351.3,1487.7 1354.6,1486.3 1357.9,1484.7 1361.3,1483.0 1364.6,1481.1 1367.9,1479.0 1371.2,1476.7 1374.6,1474.3 1377.2,1472.2 1379.9,1469.8 1382.5,1467.3 1385.2,1464.5 1387.8,1461.5 1390.5,1458.3 1392.8,1455.3 1395.2,1452.0 1397.5,1448.5 1399.8,1444.7 1402.1,1440.6 1404.5,1436.4 1406.1,1433.2 1407.8,1429.9 1409.4,1426.3 1411.1,1422.6 1412.8,1418.6 1414.4,1414.5 1416.1,1410.1 1417.7,1405.5 1419.4,1400.5 1421.1,1395.4 1422.7,1390.1 1424.4,1384.6 1425.7,1380.0 1427.1,1375.3 1428.4,1370.3 1429.7,1365.2 1431.0,1360.0 1432.4,1354.7 1433.4,1350.6 1434.4,1346.6 1435.4,1342.4 1436.4,1338.0 1437.4,1333.5 1438.3,1328.8 1439.3,1323.6 1440.3,1318.2 1441.3,1312.4 1442.3,1306.6 1443.3,1300.7 1444.3,1294.9 1445.2,1290.1 1446.0,1285.4 1446.8,1280.6 1447.7,1275.8 1448.5,1270.9 1449.3,1265.9 1450.1,1261.0 1451.0,1256.0 1451.8,1251.0 1452.6,1245.8 1453.5,1240.2 1454.3,1234.0 1455.3,1225.6 1456.3,1216.1 1457.3,1205.8 1458.3,1195.2 1459.3,1184.5 1460.3,1174.2 1461.3,1164.3 1462.3,1154.3 1463.3,1144.3 1464.3,1134.4 1465.3,1124.4 1466.3,1114.4 1467.3,1104.0 1468.3,1093.0 1469.3,1082.1 1470.2,1071.7 1471.2,1062.3 1472.2,1054.6 1472.7,1051.4 1473.2,1048.4 1473.7,1045.7 1474.2,1043.2 1474.7,1040.8 1475.2,1038.7 1475.6,1037.3 1475.9,1035.9 1476.2,1034.6 1476.6,1033.4 1476.9,1032.5 1477.2,1031.7 1477.6,1031.1 1477.9,1030.5 1478.2,1029.9 1478.6,1029.5 1478.9,1029.2 1479.2,1029.1 1479.6,1029.2 1479.9,1029.5 1480.2,1030.0 1480.5,1030.5 1480.9,1031.1 1481.2,1031.7 1481.7,1032.5 1482.2,1033.5 1482.7,1034.5 1483.2,1035.7 1483.7,1037.1 1484.2,1038.7 1485.2,1043.3 1486.2,1050.0 1487.2,1058.1 1488.2,1067.1 1489.2,1076.1 1490.2,1084.5 1491.2,1092.6 1492.2,1100.7 1493.2,1109.0 1494.2,1117.4 1495.2,1125.9 1496.2,1134.4 1497.5,1145.9 1498.8,1157.7 1500.2,1169.6 1501.5,1181.4 1502.8,1193.0 1504.1,1204.1 1505.8,1217.7 1507.5,1230.9 1509.1,1243.9 1510.8,1256.6 1512.4,1268.9 1514.1,1280.9 1515.1,1288.0 1516.1,1294.9 1517.1,1301.6 1518.1,1308.2 1519.1,1314.6 1520.1,1320.8 1521.4,1328.7 1522.7,1336.5 1524.1,1344.0 1525.4,1351.2 1526.7,1358.1 1528.1,1364.6 1529.4,1370.9 1530.7,1376.9 1532.0,1382.7 1533.4,1388.3 1534.7,1393.5 1536.0,1398.5 1537.7,1404.5 1539.4,1410.3 1541.0,1415.8 1542.7,1421.0 1544.3,1425.9 1546.0,1430.4 1548.0,1435.5 1550.0,1440.3 1552.0,1444.7 1554.0,1448.9 1556.0,1452.8 1558.0,1456.4 1560.6,1460.8 1563.3,1464.9 1565.9,1468.7 1568.6,1472.3 1571.3,1475.5 1573.9,1478.3 1577.0,1481.2 1580.0,1484.0 1583.1,1486.5 1586.1,1488.8 1589.2,1490.7 1592.3,1492.2" fill="none" stroke="#000" stroke-width="1.7" stroke-linejoin="round"/>
<polyline points="1245.4,1111.8 1247.0,1112.2 1248.6,1112.5 1250.2,1112.8 1251.7,1113.2 1253.3,1113.5 1254.9,1113.8 1258.3,1114.5 1261.6,1115.1 1264.9,1115.7 1268.2,1116.4 1271.5,1117.2 1274.9,1118.0 1278.2,1119.1 1281.5,1120.4 1284.8,1121.9 1288.2,1123.5 1291.5,1125.0 1294.8,1126.4 1296.8,1127.2 1298.8,1128.1 1300.8,1128.9 1302.8,1129.7 1304.8,1130.4 1306.8,1131.0 1308.1,1131.2 1309.4,1131.4 1310.8,1131.6 1312.1,1131.8 1313.4,1132.1 1314.7,1132.4 1316.4,1133.0 1318.1,1134.0 1319.7,1135.3 1321.4,1136.6 1323.1,1138.0 1324.7,1139.3 1327.0,1141.1 1329.4,1143.0 1331.7,1144.8 1334.0,1146.7 1336.3,1148.6 1338.7,1150.3 1341.3,1152.2 1344.0,1154.0 1346.6,1155.7 1349.3,1157.4 1352.0,1159.3 1354.6,1161.3 1357.9,1164.1 1361.3,1167.2 1364.6,1170.6 1367.9,1173.9 1371.2,1177.2 1374.6,1180.2 1377.9,1183.0 1381.2,1185.8 1384.5,1188.4 1387.8,1191.0 1391.2,1193.6 1394.5,1196.2 1397.8,1198.7 1401.1,1201.3 1404.5,1203.8 1407.8,1206.2 1411.1,1208.7 1414.4,1211.1 1417.7,1213.5 1421.1,1215.9 1424.4,1218.3 1427.7,1220.6 1431.0,1222.9 1434.4,1225.1 1436.7,1226.5 1439.0,1228.0 1441.3,1229.4 1443.7,1230.7 1446.0,1232.1 1448.3,1233.4 1449.6,1234.3 1451.0,1235.2 1452.3,1236.0 1453.6,1236.8 1455.0,1237.5 1456.3,1238.0 1457.5,1238.4 1458.6,1238.7 1459.8,1239.0 1460.9,1239.2 1462.1,1239.4 1463.3,1239.4 1464.1,1239.4 1464.9,1239.2 1465.8,1238.9 1466.6,1238.5 1467.4,1238.1 1468.3,1237.6 1468.9,1237.2 1469.6,1236.6 1470.2,1235.9 1470.9,1235.1 1471.6,1234.1 1472.2,1233.0 1472.7,1232.1 1473.2,1230.9 1473.7,1229.5 1474.2,1227.9 1474.7,1226.1 1475.2,1224.1 1475.6,1222.5 1475.9,1220.5 1476.2,1218.2 1476.6,1215.7 1476.9,1213.0 1477.2,1210.1 1477.5,1208.0 1477.7,1205.6 1477.9,1203.0 1478.2,1200.2 1478.4,1197.3 1478.6,1194.2 1478.8,1191.3 1479.0,1188.3 1479.2,1185.0 1479.4,1181.6 1479.6,1178.0 1479.8,1174.2 1480.6,1134.4 1481.4,1054.6 1481.8,927.0 1483.0,927.0 1483.1,1374.6 1483.2,1456.8 1484.2,1374.6 1485.2,1334.7 1486.6,1314.8 1487.0,1311.2 1487.5,1307.6 1487.9,1304.4 1488.3,1301.4 1488.8,1298.9 1489.2,1296.9 1489.9,1294.3 1490.5,1292.0 1491.2,1290.0 1491.8,1288.3 1492.5,1286.9 1493.2,1285.9 1494.0,1284.9 1494.8,1284.1 1495.7,1283.3 1496.5,1282.8 1497.3,1282.3 1498.2,1281.9 1499.2,1281.6 1500.2,1281.2 1501.1,1280.9 1502.1,1280.7 1503.1,1280.6 1504.1,1280.5 1505.5,1280.6 1506.8,1280.7 1508.1,1281.0 1509.5,1281.3 1510.8,1281.6 1512.1,1281.9 1514.1,1282.5 1516.1,1283.2 1518.1,1284.0 1520.1,1285.0 1522.1,1285.9 1524.1,1286.9 1526.4,1288.1 1528.7,1289.3 1531.1,1290.6 1533.4,1292.0 1535.7,1293.4 1538.0,1294.9 1540.7,1296.7 1543.3,1298.6 1546.0,1300.7 1548.7,1302.8 1551.3,1304.8 1554.0,1306.8 1557.3,1309.2 1560.6,1311.6 1563.9,1313.9 1567.3,1316.2 1570.6,1318.5 1573.9,1320.8 1577.0,1322.9 1580.0,1325.0 1583.1,1327.0 1586.1,1329.1 1589.2,1331.1 1592.3,1333.1" fill="none" stroke="#f00" stroke-width="1.7" stroke-linejoin="round"/>
</g>
<line x1="1244.4" y1="944.6" x2="1593.1" y2="944.6" stroke="#000" stroke-width="2"/>
<line x1="1244.4" y1="1582" x2="1593.1" y2="1582" stroke="#000" stroke-width="2"/>
<line x1="1245.4" y1="943.6" x2="1245.4" y2="1583" stroke="#000" stroke-width="2"/>
<line x1="1592.1" y1="943.6" x2="1592.1" y2="1583" stroke="#f00" stroke-width="2"/>
<line x1="1244.9" y1="1582" x2="1244.9" y2="1589.2" stroke="#000" stroke-width="2"/>
<line x1="1360.4" y1="1582" x2="1360.4" y2="1589.2" stroke="#000" stroke-width="2"/>
<line x1="1475.9" y1="1582" x2="1475.9" y2="1589.2" stroke="#000" stroke-width="2"/>
<line x1="1591.4" y1="1582" x2="1591.4" y2="1589.2" stroke="#000" stroke-width="2"/>
<line x1="1302.7" y1="1582" x2="1302.7" y2="1585.5" stroke="#000" stroke-width="2"/>
<line x1="1418.2" y1="1582" x2="1418.2" y2="1585.5" stroke="#000" stroke-width="2"/>
<line x1="1533.7" y1="1582" x2="1533.7" y2="1585.5" stroke="#000" stroke-width="2"/>
<text x="1244.9" y="1622.7" font-size="38" text-anchor="middle" fill="#000">-1.0</text>
<text x="1360.4" y="1622.7" font-size="38" text-anchor="middle" fill="#000">-0.5</text>
<text x="1475.9" y="1622.7" font-size="38" text-anchor="middle" fill="#000">0.0</text>
<text x="1591.4" y="1622.7" font-size="38" text-anchor="middle" fill="#000">0.5</text>
<line x1="1245.4" y1="1582" x2="1238.4" y2="1582" stroke="#000" stroke-width="2"/>
<line x1="1245.4" y1="1263.2" x2="1238.4" y2="1263.2" stroke="#000" stroke-width="2"/>
<line x1="1245.4" y1="944.5" x2="1238.4" y2="944.5" stroke="#000" stroke-width="2"/>
<line x1="1245.4" y1="1422.6" x2="1241.9" y2="1422.6" stroke="#000" stroke-width="2"/>
<line x1="1245.4" y1="1103.9" x2="1241.9" y2="1103.9" stroke="#000" stroke-width="2"/>
<text x="1234.1" y="1593.2" font-size="37.5" text-anchor="end" fill="#000">0</text>
<text x="1234.1" y="1274.5" font-size="37.5" text-anchor="end" fill="#000">3</text>
<text x="1234.1" y="955.8" font-size="37.5" text-anchor="end" fill="#000">5</text>
<line x1="1592.1" y1="1581.9" x2="1599.1" y2="1581.9" stroke="#f00" stroke-width="2"/>
<line x1="1592.1" y1="1422.6" x2="1599.1" y2="1422.6" stroke="#f00" stroke-width="2"/>
<line x1="1592.1" y1="1263.3" x2="1599.1" y2="1263.3" stroke="#f00" stroke-width="2"/>
<line x1="1592.1" y1="1104" x2="1599.1" y2="1104" stroke="#f00" stroke-width="2"/>
<line x1="1592.1" y1="944.7" x2="1599.1" y2="944.7" stroke="#f00" stroke-width="2"/>
<line x1="1592.1" y1="1502.2" x2="1595.6" y2="1502.2" stroke="#f00" stroke-width="2"/>
<line x1="1592.1" y1="1343" x2="1595.6" y2="1343" stroke="#f00" stroke-width="2"/>
<line x1="1592.1" y1="1183.6" x2="1595.6" y2="1183.6" stroke="#f00" stroke-width="2"/>
<line x1="1592.1" y1="1024.3" x2="1595.6" y2="1024.3" stroke="#f00" stroke-width="2"/>
<text x="1598.8" y="1593" font-size="37" text-anchor="start" fill="#f00">-4</text>
<text x="1598.8" y="1433.7" font-size="37" text-anchor="start" fill="#f00">-2</text>
<text x="1598.8" y="1274.4" font-size="37" text-anchor="start" fill="#f00">0</text>
<text x="1598.8" y="1115.1" font-size="37" text-anchor="start" fill="#f00">2</text>
<text x="1598.8" y="955.8" font-size="37" text-anchor="start" fill="#f00">4</text>
<text x="1190" y="1262.4" font-size="42.8" text-anchor="middle" fill="#000" transform="rotate(-90 1190 1262.4)">R<tspan font-size="28.2" dy="11.6">xx</tspan><tspan font-size="22.3" fill="#444" font-family="'DejaVu Sans', sans-serif" dx="0.4" dy="-4.3">□</tspan><tspan dy="-7.3" dx="-0.4"> (k</tspan><tspan font-family="'Liberation Serif', serif" font-size="47.1">Ω</tspan>)</text>
<text x="1418" y="1690.3" font-size="44.2" text-anchor="middle" fill="#000"><tspan font-family="'Liberation Serif', serif" font-size="44.2">δ</tspan>V<tspan font-size="30.1" dy="11.9">R</tspan><tspan font-size="30.1" dy="-30.9">B</tspan><tspan dy="19"> (V)</tspan></text>
<text x="1693" y="1245.5" font-size="43.1" text-anchor="middle" fill="#f00" transform="rotate(-90 1693 1245.5)">(eR<tspan font-size="29.3" dy="12.1">H</tspan><tspan dy="-12.1">)</tspan><tspan font-size="29.3" dy="-20.3">-1</tspan><tspan dy="20.3"> (x 10</tspan><tspan font-size="29.3" dy="-20.3">13</tspan><tspan dy="20.3"> cm</tspan><tspan font-size="29.3" dy="-20.3">-2</tspan><tspan dy="20.3">)</tspan></text>
<text x="1151" y="889.5" font-size="40" text-anchor="start" fill="#000" font-weight="bold">e</text>
</g>
<g id="panel-f">
<clipPath id="clipF"><rect x="1851.6" y="939.3" width="316.0" height="637.1000000000001"/></clipPath><g clip-path="url(#clipF)">
<polyline points="1851.6,1550.0 1858.4,1549.4 1865.2,1548.7 1872.0,1547.9 1878.8,1547.1 1885.6,1546.2 1892.4,1545.2 1899.5,1544.1 1906.6,1543.0 1913.7,1541.8 1920.8,1540.4 1927.9,1538.8 1935.0,1537.0 1940.0,1535.5 1945.0,1533.7 1950.0,1531.6 1955.0,1529.3 1960.0,1526.7 1965.0,1524.0 1968.3,1522.0 1971.7,1519.8 1975.0,1517.3 1978.3,1514.7 1981.7,1511.9 1985.0,1509.0 1987.5,1506.9 1989.9,1504.7 1992.4,1502.5 1994.9,1499.9 1997.4,1497.0 1999.8,1493.6 2001.5,1490.9 2003.1,1487.4 2004.7,1483.5 2006.4,1479.3 2008.0,1474.7 2009.6,1470.1 2011.0,1466.1 2012.3,1461.9 2013.6,1457.3 2014.9,1452.5 2016.2,1447.6 2017.5,1442.6 2018.5,1438.7 2019.5,1434.7 2020.5,1430.5 2021.4,1426.2 2022.4,1421.7 2023.4,1417.0 2024.4,1412.1 2025.4,1406.8 2026.3,1401.4 2027.3,1395.7 2028.3,1389.8 2029.3,1383.6 2030.1,1378.3 2030.9,1372.9 2031.8,1367.2 2032.6,1361.2 2033.4,1354.9 2034.2,1348.2 2034.9,1342.5 2035.5,1336.3 2036.2,1329.7 2036.8,1322.9 2037.5,1315.9 2038.1,1308.9 2038.6,1303.6 2039.1,1297.9 2039.6,1292.2 2040.1,1286.5 2040.6,1280.9 2041.1,1275.5 2041.5,1271.7 2041.9,1268.3 2042.3,1265.0 2042.7,1261.5 2043.1,1257.3 2043.4,1252.2 2043.7,1247.6 2044.0,1241.5 2044.2,1234.7 2044.5,1227.6 2044.8,1220.8 2045.0,1214.9 2045.5,1205.6 2046.0,1197.1 2046.5,1189.1 2047.0,1181.4 2047.5,1173.7 2048.0,1165.8 2048.5,1157.5 2048.9,1149.0 2049.4,1140.5 2049.9,1132.2 2050.4,1124.2 2050.9,1116.7 2051.4,1109.5 2051.9,1102.5 2052.4,1095.8 2052.9,1089.3 2053.4,1083.2 2053.9,1077.4 2054.3,1071.9 2054.8,1066.6 2055.3,1061.5 2055.8,1056.7 2056.3,1052.2 2056.8,1047.9 2057.3,1043.6 2057.8,1039.4 2058.3,1035.3 2058.8,1031.6 2059.3,1028.5 2059.8,1026.3 2060.1,1025.1 2060.4,1024.1 2060.7,1023.1 2061.1,1022.4 2061.4,1021.8 2061.7,1021.4 2062.0,1021.1 2062.4,1020.9 2062.7,1020.7 2063.0,1020.5 2063.4,1020.4 2063.7,1020.4 2064.0,1020.5 2064.3,1020.7 2064.7,1021.0 2065.0,1021.4 2065.3,1021.9 2065.6,1022.3 2066.1,1023.2 2066.6,1024.4 2067.1,1025.8 2067.6,1027.2 2068.1,1028.8 2068.6,1030.2 2069.2,1032.2 2069.9,1034.2 2070.6,1036.4 2071.2,1038.4 2071.9,1040.3 2072.5,1042.0 2073.3,1043.8 2074.2,1045.6 2075.0,1047.2 2075.8,1048.6 2076.6,1049.9 2077.4,1050.8 2078.3,1051.7 2079.1,1052.5 2079.9,1053.2 2080.7,1053.8 2081.5,1054.2 2082.3,1054.4 2083.2,1054.3 2084.0,1054.1 2084.8,1053.9 2085.6,1053.6 2086.4,1053.2 2087.3,1052.8 2088.1,1052.3 2088.9,1051.7 2089.7,1050.9 2090.5,1050.0 2091.4,1049.0 2092.2,1047.9 2093.0,1046.7 2093.8,1045.2 2094.6,1043.6 2095.4,1041.8 2096.3,1040.0 2097.1,1038.1 2097.9,1036.1 2098.7,1033.9 2099.5,1031.7 2100.4,1029.3 2101.2,1026.9 2102.0,1024.3 2102.8,1021.6 2103.6,1018.7 2104.5,1015.7 2105.3,1012.6 2106.1,1009.6 2106.9,1006.6 2107.6,1004.2 2108.2,1001.7 2108.9,999.2 2109.5,996.9 2110.2,994.7 2110.8,992.9 2111.3,991.7 2111.8,990.5 2112.3,989.5 2112.8,988.5 2113.3,987.7 2113.8,987.0 2114.2,986.4 2114.6,985.9 2115.0,985.4 2115.4,985.0 2115.7,984.7 2116.1,984.6 2116.6,984.8 2117.0,985.4 2117.4,986.1 2117.8,987.1 2118.3,988.0 2118.7,988.9 2119.0,989.6 2119.4,990.3 2119.7,991.0 2120.0,991.8 2120.3,992.7 2120.7,993.9 2121.2,996.3 2121.6,999.7 2122.1,1003.9 2122.6,1008.5 2123.1,1013.5 2123.6,1018.4 2124.3,1025.4 2124.9,1033.3 2125.6,1041.7 2126.2,1050.4 2126.9,1059.1 2127.5,1067.5 2128.2,1075.7 2128.8,1083.9 2129.5,1092.1 2130.2,1100.3 2130.8,1108.5 2131.5,1116.7 2132.1,1124.8 2132.8,1133.0 2133.4,1141.2 2134.1,1149.4 2134.7,1157.6 2135.4,1165.8 2136.1,1174.0 2136.7,1182.4 2137.4,1190.7 2138.0,1199.0 2138.7,1207.1 2139.3,1214.9 2140.3,1226.6 2141.3,1238.3 2142.3,1249.7 2143.3,1260.6 2144.2,1270.6 2145.2,1279.5 2146.2,1287.2 2147.2,1294.2 2148.2,1300.7 2149.2,1306.9 2150.1,1312.8 2151.1,1318.8 2152.1,1324.7 2153.1,1330.4 2154.1,1335.9 2155.0,1341.4 2156.0,1346.8 2157.0,1352.2 2158.0,1357.7 2159.0,1363.3 2160.0,1368.8 2160.9,1374.1 2161.9,1379.1 2162.9,1383.6 2163.7,1387.0 2164.5,1390.3 2165.4,1393.3 2166.2,1396.2 2167.0,1398.9 2167.8,1401.3" fill="none" stroke="#000" stroke-width="1.7" stroke-linejoin="round"/>
<polyline points="1851.6,1222.2 2041.1,1252.2 2046.0,1246.3 2048.9,1228.7 2050.9,1205.1 2051.9,1165.8 2052.5,1126.5 2052.9,1087.2 2053.3,1051.8 2053.7,1033.2 2054.1,1067.5 2055.4,1126.5 2056.8,1185.4 2057.8,1224.7 2058.4,1259.8 2058.8,1299.1 2059.8,1358.1 2060.7,1413.1 2061.7,1458.3 2062.7,1497.6 2063.7,1540.8 2064.3,1571.2 2064.7,1540.8 2065.1,1497.6 2065.4,1320.7 2066.2,1250.0 2066.2,1099.0 2067.0,1008.6 2067.6,922.1 2069.2,922.1 2069.8,1008.6 2070.6,1106.8 2071.5,1136.3 2073.5,1156.0 2075.1,1165.8 2077.4,1160.9 2079.4,1157.9 2080.8,1136.3 2082.3,1116.7 2083.9,1136.3 2085.9,1159.9 2087.8,1156.0 2089.8,1154.0 2091.2,1161.8 2094.1,1177.6 2097.1,1189.4 2099.0,1183.5 2101.0,1178.6 2103.0,1187.4 2104.9,1194.3 2108.9,1181.5 2111.8,1169.7 2114.2,1146.1 2115.7,1124.5 2116.7,1150.1 2117.3,1185.4 2117.7,1220.8 2117.7,1250.0 2118.7,1289.3 2119.3,1328.6 2119.9,1365.9 2120.5,1344.3 2121.3,1318.8 2122.0,1299.1 2123.2,1281.4 2125.6,1271.6 2128.5,1266.1 2131.5,1264.7 2135.4,1265.7 2143.3,1269.6 2153.1,1272.6 2167.8,1275.5" fill="none" stroke="#f00" stroke-width="1.7" stroke-linejoin="round"/>
</g>
<line x1="1850.6" y1="939.3" x2="2168.6" y2="939.3" stroke="#000" stroke-width="2"/>
<line x1="1850.6" y1="1576.4" x2="2168.6" y2="1576.4" stroke="#000" stroke-width="2"/>
<line x1="1851.6" y1="938.3" x2="1851.6" y2="1577.4" stroke="#000" stroke-width="2"/>
<line x1="2167.6" y1="938.3" x2="2167.6" y2="1577.4" stroke="#f00" stroke-width="2"/>
<line x1="1851.5" y1="1576.4" x2="1851.5" y2="1583.6" stroke="#000" stroke-width="2"/>
<line x1="2009.5" y1="1576.4" x2="2009.5" y2="1583.6" stroke="#000" stroke-width="2"/>
<line x1="2167.5" y1="1576.4" x2="2167.5" y2="1583.6" stroke="#000" stroke-width="2"/>
<line x1="1930.5" y1="1576.4" x2="1930.5" y2="1579.9" stroke="#000" stroke-width="2"/>
<line x1="2088.5" y1="1576.4" x2="2088.5" y2="1579.9" stroke="#000" stroke-width="2"/>
<text x="1851.5" y="1621.6" font-size="44" text-anchor="middle" fill="#000">-0.5</text>
<text x="2009.5" y="1621.6" font-size="44" text-anchor="middle" fill="#000">0.0</text>
<text x="2167.5" y="1621.6" font-size="44" text-anchor="middle" fill="#000">0.5</text>
<line x1="1851.6" y1="1576.4" x2="1844.6" y2="1576.4" stroke="#000" stroke-width="2"/>
<line x1="1851.6" y1="1364.1" x2="1844.6" y2="1364.1" stroke="#000" stroke-width="2"/>
<line x1="1851.6" y1="1151.7" x2="1844.6" y2="1151.7" stroke="#000" stroke-width="2"/>
<line x1="1851.6" y1="939.4" x2="1844.6" y2="939.4" stroke="#000" stroke-width="2"/>
<line x1="1851.6" y1="1470.2" x2="1848.1" y2="1470.2" stroke="#000" stroke-width="2"/>
<line x1="1851.6" y1="1257.9" x2="1848.1" y2="1257.9" stroke="#000" stroke-width="2"/>
<line x1="1851.6" y1="1045.5" x2="1848.1" y2="1045.5" stroke="#000" stroke-width="2"/>
<text x="1839.6" y="1587.5" font-size="37" text-anchor="end" fill="#000">0</text>
<text x="1839.6" y="1375.2" font-size="37" text-anchor="end" fill="#000">5</text>
<text x="1839.6" y="1162.8" font-size="37" text-anchor="end" fill="#000">10</text>
<text x="1839.6" y="950.5" font-size="37" text-anchor="end" fill="#000">15</text>
<line x1="2167.6" y1="1511.9" x2="2174.6" y2="1511.9" stroke="#f00" stroke-width="2"/>
<line x1="2167.6" y1="1384.9" x2="2174.6" y2="1384.9" stroke="#f00" stroke-width="2"/>
<line x1="2167.6" y1="1257.9" x2="2174.6" y2="1257.9" stroke="#f00" stroke-width="2"/>
<line x1="2167.6" y1="1130.9" x2="2174.6" y2="1130.9" stroke="#f00" stroke-width="2"/>
<line x1="2167.6" y1="1003.9" x2="2174.6" y2="1003.9" stroke="#f00" stroke-width="2"/>
<line x1="2167.6" y1="1575.4" x2="2171.1" y2="1575.4" stroke="#f00" stroke-width="2"/>
<line x1="2167.6" y1="1448.4" x2="2171.1" y2="1448.4" stroke="#f00" stroke-width="2"/>
<line x1="2167.6" y1="1321.4" x2="2171.1" y2="1321.4" stroke="#f00" stroke-width="2"/>
<line x1="2167.6" y1="1194.4" x2="2171.1" y2="1194.4" stroke="#f00" stroke-width="2"/>
<line x1="2167.6" y1="1067.4" x2="2171.1" y2="1067.4" stroke="#f00" stroke-width="2"/>
<line x1="2167.6" y1="940.4" x2="2171.1" y2="940.4" stroke="#f00" stroke-width="2"/>
<text x="2174.3" y="1523" font-size="37" text-anchor="start" fill="#f00">-8</text>
<text x="2174.3" y="1396" font-size="37" text-anchor="start" fill="#f00">-4</text>
<text x="2174.3" y="1269" font-size="37" text-anchor="start" fill="#f00">0</text>
<text x="2174.3" y="1142" font-size="37" text-anchor="start" fill="#f00">4</text>
<text x="2174.3" y="1015" font-size="37" text-anchor="start" fill="#f00">8</text>
<text x="1775" y="1256" font-size="43.1" text-anchor="middle" fill="#000" transform="rotate(-90 1775 1256)">R<tspan font-size="28.4" dy="11.6">xx</tspan><tspan font-size="22.4" fill="#444" font-family="'DejaVu Sans', sans-serif" dx="0.4" dy="-4.3">□</tspan><tspan dy="-7.3" dx="-0.4"> (k</tspan><tspan font-family="'Liberation Serif', serif" font-size="47.4">Ω</tspan>)</text>
<text x="2009.5" y="1691.4" font-size="44.3" text-anchor="middle" fill="#000"><tspan font-family="'Liberation Serif', serif" font-size="44.3">δ</tspan>V<tspan font-size="30.1" dy="12">R</tspan><tspan font-size="30.1" dy="-31">B</tspan><tspan dy="19"> (V)</tspan></text>
<text x="2257.4" y="1257.5" font-size="43.8" text-anchor="middle" fill="#f00" transform="rotate(-90 2257.4 1257.5)">(eR<tspan font-size="29.8" dy="12.3">H</tspan><tspan dy="-12.3">)</tspan><tspan font-size="29.8" dy="-20.6">-1</tspan><tspan dy="20.6"> (x 10</tspan><tspan font-size="29.8" dy="-20.6">13</tspan><tspan dy="20.6"> cm</tspan><tspan font-size="29.8" dy="-20.6">-2</tspan><tspan dy="20.6">)</tspan></text>
<text x="1736.5" y="890" font-size="40" text-anchor="start" fill="#000" font-weight="bold">f</text>
</g>
</svg>
</body></html>
